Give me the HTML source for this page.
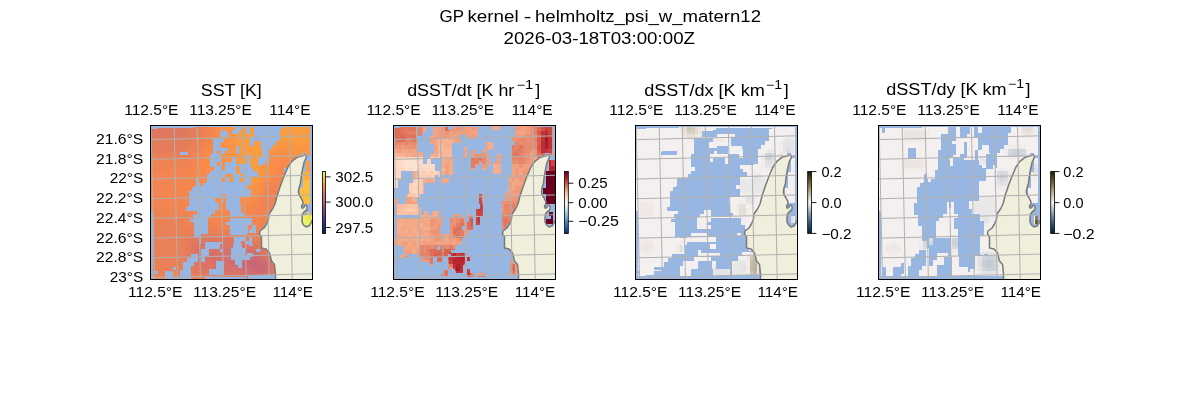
<!DOCTYPE html>
<html><head><meta charset="utf-8"><title>GP kernel</title>
<style>
html,body{margin:0;padding:0;background:#fff;}
svg{display:block;}
text{font-family:"Liberation Sans",sans-serif;fill:#000;}
</style></head><body>
<svg width="1200" height="400" viewBox="0 0 1200 400">
<defs><clipPath id="clip0"><rect x="150.5" y="125.5" width="162" height="154"/></clipPath><clipPath id="clip1"><rect x="393.5" y="125.5" width="162" height="154"/></clipPath><clipPath id="clip2"><rect x="635.5" y="125.5" width="162" height="154"/></clipPath><clipPath id="clip3"><rect x="878.5" y="125.5" width="162" height="154"/></clipPath><filter id="gs" x="0" y="0" width="1200" height="400" filterUnits="userSpaceOnUse" color-interpolation-filters="sRGB"><feColorMatrix type="saturate" values="0"/></filter></defs>
<rect width="1200" height="400" fill="#fff"/>
<g clip-path="url(#clip0)">
<rect x="150.5" y="125.5" width="162" height="154" fill="#97b6e1"/>
<g shape-rendering="crispEdges"><rect x="150" y="125" width="37" height="6" fill="#e07860"/><rect x="187" y="125" width="8" height="6" fill="#e47c5c"/><rect x="195" y="125" width="3" height="6" fill="#e88058"/><rect x="198" y="125" width="8" height="6" fill="#ec8054"/><rect x="206" y="125" width="4" height="6" fill="#f08450"/><rect x="210" y="125" width="3" height="6" fill="#f48450"/><rect x="213" y="125" width="4" height="6" fill="#f8884c"/><rect x="217" y="125" width="4" height="6" fill="#f88c48"/><rect x="221" y="125" width="7" height="6" fill="#f89048"/><rect x="228" y="125" width="7" height="6" fill="#f89444"/><rect x="235" y="125" width="4" height="6" fill="#f89844"/><rect x="239" y="125" width="7" height="6" fill="#f89c40"/><rect x="246" y="125" width="56" height="6" fill="#fc9c40"/><rect x="302" y="125" width="7" height="6" fill="#f89c40"/><rect x="309" y="125" width="4" height="6" fill="#f89844"/><rect x="313" y="125" width="4" height="6" fill="#f89444"/><rect x="150" y="131" width="37" height="3" fill="#e07860"/><rect x="187" y="131" width="8" height="3" fill="#e47c5c"/><rect x="195" y="131" width="3" height="3" fill="#e88058"/><rect x="198" y="131" width="8" height="3" fill="#ec8054"/><rect x="206" y="131" width="4" height="3" fill="#f08450"/><rect x="210" y="131" width="3" height="3" fill="#f48450"/><rect x="213" y="131" width="4" height="3" fill="#f8884c"/><rect x="217" y="131" width="4" height="3" fill="#f88c48"/><rect x="221" y="131" width="7" height="3" fill="#f89048"/><rect x="228" y="131" width="7" height="3" fill="#f89444"/><rect x="235" y="131" width="4" height="3" fill="#f89844"/><rect x="239" y="131" width="7" height="3" fill="#f89c40"/><rect x="246" y="131" width="56" height="3" fill="#fc9c40"/><rect x="302" y="131" width="7" height="3" fill="#f89c40"/><rect x="309" y="131" width="4" height="3" fill="#f89844"/><rect x="313" y="131" width="4" height="3" fill="#f89444"/><rect x="150" y="134" width="34" height="4" fill="#e07860"/><rect x="184" y="134" width="7" height="4" fill="#e47c5c"/><rect x="191" y="134" width="4" height="4" fill="#e87c58"/><rect x="195" y="134" width="3" height="4" fill="#e88058"/><rect x="198" y="134" width="4" height="4" fill="#ec8054"/><rect x="202" y="134" width="4" height="4" fill="#f08454"/><rect x="206" y="134" width="4" height="4" fill="#f08450"/><rect x="210" y="134" width="3" height="4" fill="#f4884c"/><rect x="213" y="134" width="4" height="4" fill="#f8884c"/><rect x="217" y="134" width="4" height="4" fill="#f88c48"/><rect x="221" y="134" width="7" height="4" fill="#f89048"/><rect x="228" y="134" width="7" height="4" fill="#f89444"/><rect x="235" y="134" width="4" height="4" fill="#f89844"/><rect x="239" y="134" width="7" height="4" fill="#f89c40"/><rect x="246" y="134" width="56" height="4" fill="#fc9c40"/><rect x="302" y="134" width="7" height="4" fill="#f89c40"/><rect x="309" y="134" width="4" height="4" fill="#f89844"/><rect x="313" y="134" width="4" height="4" fill="#f89444"/><rect x="150" y="138" width="41" height="4" fill="#e47c5c"/><rect x="191" y="138" width="4" height="4" fill="#e87c58"/><rect x="195" y="138" width="7" height="4" fill="#ec8054"/><rect x="202" y="138" width="4" height="4" fill="#f08454"/><rect x="206" y="138" width="4" height="4" fill="#f08450"/><rect x="210" y="138" width="3" height="4" fill="#f4884c"/><rect x="213" y="138" width="4" height="4" fill="#f8884c"/><rect x="217" y="138" width="4" height="4" fill="#f88c48"/><rect x="221" y="138" width="7" height="4" fill="#f89048"/><rect x="228" y="138" width="7" height="4" fill="#f89444"/><rect x="235" y="138" width="4" height="4" fill="#f89844"/><rect x="239" y="138" width="7" height="4" fill="#f89c40"/><rect x="246" y="138" width="23" height="4" fill="#fc9c40"/><rect x="269" y="138" width="40" height="4" fill="#f89c40"/><rect x="309" y="138" width="4" height="4" fill="#f89844"/><rect x="313" y="138" width="4" height="4" fill="#f89444"/><rect x="150" y="142" width="37" height="3" fill="#e47c5c"/><rect x="187" y="142" width="4" height="3" fill="#e87c58"/><rect x="191" y="142" width="4" height="3" fill="#e88058"/><rect x="195" y="142" width="3" height="3" fill="#ec8054"/><rect x="198" y="142" width="4" height="3" fill="#f08454"/><rect x="202" y="142" width="4" height="3" fill="#f08450"/><rect x="206" y="142" width="4" height="3" fill="#f48450"/><rect x="210" y="142" width="3" height="3" fill="#f4884c"/><rect x="213" y="142" width="8" height="3" fill="#f88c48"/><rect x="221" y="142" width="7" height="3" fill="#f89048"/><rect x="228" y="142" width="7" height="3" fill="#f89444"/><rect x="235" y="142" width="4" height="3" fill="#f89844"/><rect x="239" y="142" width="7" height="3" fill="#f89c40"/><rect x="246" y="142" width="19" height="3" fill="#fc9c40"/><rect x="265" y="142" width="7" height="3" fill="#f89c40"/><rect x="272" y="142" width="22" height="3" fill="#f89844"/><rect x="294" y="142" width="11" height="3" fill="#f89c40"/><rect x="305" y="142" width="8" height="3" fill="#f89844"/><rect x="313" y="142" width="4" height="3" fill="#f89444"/><rect x="150" y="145" width="30" height="4" fill="#e47c5c"/><rect x="180" y="145" width="7" height="4" fill="#e87c58"/><rect x="187" y="145" width="4" height="4" fill="#e88058"/><rect x="191" y="145" width="7" height="4" fill="#ec8054"/><rect x="198" y="145" width="4" height="4" fill="#f08450"/><rect x="202" y="145" width="4" height="4" fill="#f48450"/><rect x="206" y="145" width="4" height="4" fill="#f4884c"/><rect x="210" y="145" width="3" height="4" fill="#f8884c"/><rect x="213" y="145" width="8" height="4" fill="#f88c48"/><rect x="221" y="145" width="7" height="4" fill="#f89048"/><rect x="228" y="145" width="7" height="4" fill="#f89444"/><rect x="235" y="145" width="4" height="4" fill="#f89844"/><rect x="239" y="145" width="7" height="4" fill="#f89c40"/><rect x="246" y="145" width="15" height="4" fill="#fc9c40"/><rect x="261" y="145" width="4" height="4" fill="#f89c40"/><rect x="265" y="145" width="7" height="4" fill="#f89844"/><rect x="272" y="145" width="22" height="4" fill="#f89444"/><rect x="294" y="145" width="19" height="4" fill="#f89844"/><rect x="313" y="145" width="4" height="4" fill="#f89444"/><rect x="150" y="149" width="34" height="4" fill="#e87c58"/><rect x="184" y="149" width="3" height="4" fill="#e88058"/><rect x="187" y="149" width="8" height="4" fill="#ec8054"/><rect x="195" y="149" width="3" height="4" fill="#f08450"/><rect x="198" y="149" width="4" height="4" fill="#f48450"/><rect x="202" y="149" width="4" height="4" fill="#f4884c"/><rect x="206" y="149" width="4" height="4" fill="#f8884c"/><rect x="210" y="149" width="11" height="4" fill="#f88c48"/><rect x="221" y="149" width="7" height="4" fill="#f89048"/><rect x="228" y="149" width="7" height="4" fill="#f89444"/><rect x="235" y="149" width="4" height="4" fill="#f89844"/><rect x="239" y="149" width="7" height="4" fill="#f89c40"/><rect x="246" y="149" width="12" height="4" fill="#fc9c40"/><rect x="258" y="149" width="7" height="4" fill="#f89c40"/><rect x="265" y="149" width="4" height="4" fill="#f89844"/><rect x="269" y="149" width="7" height="4" fill="#f89444"/><rect x="276" y="149" width="15" height="4" fill="#f89048"/><rect x="291" y="149" width="11" height="4" fill="#f89444"/><rect x="302" y="149" width="7" height="4" fill="#f89844"/><rect x="309" y="149" width="8" height="4" fill="#f89444"/><rect x="150" y="153" width="30" height="4" fill="#e88058"/><rect x="180" y="153" width="11" height="4" fill="#ec8054"/><rect x="191" y="153" width="4" height="4" fill="#f08454"/><rect x="195" y="153" width="3" height="4" fill="#f48450"/><rect x="198" y="153" width="4" height="4" fill="#f4884c"/><rect x="202" y="153" width="4" height="4" fill="#f8884c"/><rect x="206" y="153" width="11" height="4" fill="#f88c48"/><rect x="217" y="153" width="11" height="4" fill="#f89048"/><rect x="228" y="153" width="7" height="4" fill="#f89444"/><rect x="235" y="153" width="4" height="4" fill="#f89844"/><rect x="239" y="153" width="7" height="4" fill="#f89c40"/><rect x="246" y="153" width="12" height="4" fill="#fc9c40"/><rect x="258" y="153" width="3" height="4" fill="#f89c40"/><rect x="261" y="153" width="4" height="4" fill="#f89844"/><rect x="265" y="153" width="7" height="4" fill="#f89444"/><rect x="272" y="153" width="8" height="4" fill="#f89048"/><rect x="280" y="153" width="7" height="4" fill="#f88c48"/><rect x="287" y="153" width="7" height="4" fill="#f89048"/><rect x="294" y="153" width="8" height="4" fill="#f89444"/><rect x="302" y="153" width="7" height="4" fill="#f89844"/><rect x="309" y="153" width="8" height="4" fill="#f89444"/><rect x="150" y="157" width="37" height="3" fill="#ec8054"/><rect x="187" y="157" width="4" height="3" fill="#f08454"/><rect x="191" y="157" width="4" height="3" fill="#f08450"/><rect x="195" y="157" width="3" height="3" fill="#f48450"/><rect x="198" y="157" width="8" height="3" fill="#f8884c"/><rect x="206" y="157" width="11" height="3" fill="#f88c48"/><rect x="217" y="157" width="11" height="3" fill="#f89048"/><rect x="228" y="157" width="7" height="3" fill="#f89444"/><rect x="235" y="157" width="4" height="3" fill="#f89844"/><rect x="239" y="157" width="7" height="3" fill="#f89c40"/><rect x="246" y="157" width="12" height="3" fill="#fc9c40"/><rect x="258" y="157" width="3" height="3" fill="#f89c40"/><rect x="261" y="157" width="4" height="3" fill="#f89844"/><rect x="265" y="157" width="4" height="3" fill="#f89444"/><rect x="269" y="157" width="7" height="3" fill="#f89048"/><rect x="276" y="157" width="15" height="3" fill="#f88c48"/><rect x="291" y="157" width="7" height="3" fill="#f89048"/><rect x="298" y="157" width="7" height="3" fill="#f89444"/><rect x="305" y="157" width="4" height="3" fill="#f89844"/><rect x="309" y="157" width="8" height="3" fill="#f89444"/><rect x="150" y="160" width="37" height="4" fill="#f08454"/><rect x="187" y="160" width="4" height="4" fill="#f08450"/><rect x="191" y="160" width="4" height="4" fill="#f48450"/><rect x="195" y="160" width="3" height="4" fill="#f4884c"/><rect x="198" y="160" width="4" height="4" fill="#f8884c"/><rect x="202" y="160" width="15" height="4" fill="#f88c48"/><rect x="217" y="160" width="11" height="4" fill="#f89048"/><rect x="228" y="160" width="7" height="4" fill="#f89444"/><rect x="235" y="160" width="4" height="4" fill="#f89844"/><rect x="239" y="160" width="7" height="4" fill="#f89c40"/><rect x="246" y="160" width="12" height="4" fill="#fc9c40"/><rect x="258" y="160" width="3" height="4" fill="#f89c40"/><rect x="261" y="160" width="4" height="4" fill="#f89844"/><rect x="265" y="160" width="4" height="4" fill="#f89444"/><rect x="269" y="160" width="3" height="4" fill="#f89048"/><rect x="272" y="160" width="8" height="4" fill="#f88c48"/><rect x="280" y="160" width="7" height="4" fill="#f8884c"/><rect x="287" y="160" width="7" height="4" fill="#f88c48"/><rect x="294" y="160" width="4" height="4" fill="#f89048"/><rect x="298" y="160" width="7" height="4" fill="#f89444"/><rect x="305" y="160" width="4" height="4" fill="#f89844"/><rect x="309" y="160" width="8" height="4" fill="#f89444"/><rect x="150" y="164" width="37" height="4" fill="#f08450"/><rect x="187" y="164" width="4" height="4" fill="#f48450"/><rect x="191" y="164" width="7" height="4" fill="#f4884c"/><rect x="198" y="164" width="4" height="4" fill="#f8884c"/><rect x="202" y="164" width="15" height="4" fill="#f88c48"/><rect x="217" y="164" width="11" height="4" fill="#f89048"/><rect x="228" y="164" width="7" height="4" fill="#f89444"/><rect x="235" y="164" width="4" height="4" fill="#f89844"/><rect x="239" y="164" width="7" height="4" fill="#f89c40"/><rect x="246" y="164" width="8" height="4" fill="#fc9c40"/><rect x="254" y="164" width="7" height="4" fill="#f89c40"/><rect x="261" y="164" width="8" height="4" fill="#f89444"/><rect x="269" y="164" width="3" height="4" fill="#f89048"/><rect x="272" y="164" width="8" height="4" fill="#f88c48"/><rect x="280" y="164" width="7" height="4" fill="#f8884c"/><rect x="287" y="164" width="7" height="4" fill="#f88c48"/><rect x="294" y="164" width="4" height="4" fill="#f89048"/><rect x="298" y="164" width="7" height="4" fill="#f89444"/><rect x="305" y="164" width="4" height="4" fill="#f89844"/><rect x="309" y="164" width="8" height="4" fill="#f89444"/><rect x="150" y="168" width="19" height="3" fill="#f08450"/><rect x="169" y="168" width="22" height="3" fill="#f48450"/><rect x="191" y="168" width="7" height="3" fill="#f4884c"/><rect x="198" y="168" width="8" height="3" fill="#f8884c"/><rect x="206" y="168" width="11" height="3" fill="#f88c48"/><rect x="217" y="168" width="11" height="3" fill="#f89048"/><rect x="228" y="168" width="7" height="3" fill="#f89444"/><rect x="235" y="168" width="4" height="3" fill="#f89844"/><rect x="239" y="168" width="7" height="3" fill="#f89c40"/><rect x="246" y="168" width="8" height="3" fill="#fc9c40"/><rect x="254" y="168" width="4" height="3" fill="#f89c40"/><rect x="258" y="168" width="3" height="3" fill="#f89844"/><rect x="261" y="168" width="4" height="3" fill="#f89444"/><rect x="265" y="168" width="7" height="3" fill="#f89048"/><rect x="272" y="168" width="4" height="3" fill="#f88c48"/><rect x="276" y="168" width="11" height="3" fill="#f8884c"/><rect x="287" y="168" width="7" height="3" fill="#f88c48"/><rect x="294" y="168" width="4" height="3" fill="#f89048"/><rect x="298" y="168" width="7" height="3" fill="#f89444"/><rect x="305" y="168" width="4" height="3" fill="#f89844"/><rect x="309" y="168" width="8" height="3" fill="#f89444"/><rect x="150" y="171" width="37" height="4" fill="#f48450"/><rect x="187" y="171" width="8" height="4" fill="#f4884c"/><rect x="195" y="171" width="11" height="4" fill="#f8884c"/><rect x="206" y="171" width="11" height="4" fill="#f88c48"/><rect x="217" y="171" width="11" height="4" fill="#f89048"/><rect x="228" y="171" width="7" height="4" fill="#f89444"/><rect x="235" y="171" width="4" height="4" fill="#f89844"/><rect x="239" y="171" width="7" height="4" fill="#f89c40"/><rect x="246" y="171" width="4" height="4" fill="#fc9c40"/><rect x="250" y="171" width="8" height="4" fill="#f89c40"/><rect x="258" y="171" width="3" height="4" fill="#f89844"/><rect x="261" y="171" width="4" height="4" fill="#f89444"/><rect x="265" y="171" width="4" height="4" fill="#f89048"/><rect x="269" y="171" width="7" height="4" fill="#f88c48"/><rect x="276" y="171" width="11" height="4" fill="#f8884c"/><rect x="287" y="171" width="7" height="4" fill="#f88c48"/><rect x="294" y="171" width="4" height="4" fill="#f89048"/><rect x="298" y="171" width="7" height="4" fill="#f89444"/><rect x="305" y="171" width="4" height="4" fill="#f89844"/><rect x="309" y="171" width="8" height="4" fill="#f89444"/><rect x="150" y="175" width="34" height="4" fill="#f48450"/><rect x="184" y="175" width="11" height="4" fill="#f4884c"/><rect x="195" y="175" width="11" height="4" fill="#f8884c"/><rect x="206" y="175" width="11" height="4" fill="#f88c48"/><rect x="217" y="175" width="11" height="4" fill="#f89048"/><rect x="228" y="175" width="7" height="4" fill="#f89444"/><rect x="235" y="175" width="4" height="4" fill="#f89844"/><rect x="239" y="175" width="15" height="4" fill="#f89c40"/><rect x="254" y="175" width="4" height="4" fill="#f89844"/><rect x="258" y="175" width="3" height="4" fill="#f89444"/><rect x="261" y="175" width="8" height="4" fill="#f89048"/><rect x="269" y="175" width="3" height="4" fill="#f88c48"/><rect x="272" y="175" width="4" height="4" fill="#f8884c"/><rect x="276" y="175" width="7" height="4" fill="#f4884c"/><rect x="283" y="175" width="4" height="4" fill="#f8884c"/><rect x="287" y="175" width="4" height="4" fill="#f88c48"/><rect x="291" y="175" width="7" height="4" fill="#f89048"/><rect x="298" y="175" width="4" height="4" fill="#f89444"/><rect x="302" y="175" width="7" height="4" fill="#f89844"/><rect x="309" y="175" width="8" height="4" fill="#f89444"/><rect x="150" y="179" width="30" height="3" fill="#f48450"/><rect x="180" y="179" width="15" height="3" fill="#f4884c"/><rect x="195" y="179" width="11" height="3" fill="#f8884c"/><rect x="206" y="179" width="11" height="3" fill="#f88c48"/><rect x="217" y="179" width="11" height="3" fill="#f89048"/><rect x="228" y="179" width="7" height="3" fill="#f89444"/><rect x="235" y="179" width="4" height="3" fill="#f89844"/><rect x="239" y="179" width="15" height="3" fill="#f89c40"/><rect x="254" y="179" width="4" height="3" fill="#f89844"/><rect x="258" y="179" width="3" height="3" fill="#f89444"/><rect x="261" y="179" width="4" height="3" fill="#f89048"/><rect x="265" y="179" width="4" height="3" fill="#f88c48"/><rect x="269" y="179" width="3" height="3" fill="#f8884c"/><rect x="272" y="179" width="11" height="3" fill="#f4884c"/><rect x="283" y="179" width="4" height="3" fill="#f8884c"/><rect x="287" y="179" width="4" height="3" fill="#f88c48"/><rect x="291" y="179" width="3" height="3" fill="#f89048"/><rect x="294" y="179" width="8" height="3" fill="#f89444"/><rect x="302" y="179" width="7" height="3" fill="#f89844"/><rect x="309" y="179" width="8" height="3" fill="#f89444"/><rect x="150" y="182" width="30" height="4" fill="#f48450"/><rect x="180" y="182" width="15" height="4" fill="#f4884c"/><rect x="195" y="182" width="11" height="4" fill="#f8884c"/><rect x="206" y="182" width="11" height="4" fill="#f88c48"/><rect x="217" y="182" width="11" height="4" fill="#f89048"/><rect x="228" y="182" width="7" height="4" fill="#f89444"/><rect x="235" y="182" width="8" height="4" fill="#f89844"/><rect x="243" y="182" width="7" height="4" fill="#f89c40"/><rect x="250" y="182" width="4" height="4" fill="#f89844"/><rect x="254" y="182" width="4" height="4" fill="#f89444"/><rect x="258" y="182" width="3" height="4" fill="#f89048"/><rect x="261" y="182" width="4" height="4" fill="#f88c48"/><rect x="265" y="182" width="4" height="4" fill="#f8884c"/><rect x="269" y="182" width="3" height="4" fill="#f4884c"/><rect x="272" y="182" width="8" height="4" fill="#f48450"/><rect x="280" y="182" width="3" height="4" fill="#f4884c"/><rect x="283" y="182" width="4" height="4" fill="#f8884c"/><rect x="287" y="182" width="4" height="4" fill="#f88c48"/><rect x="291" y="182" width="3" height="4" fill="#f89048"/><rect x="294" y="182" width="4" height="4" fill="#f89444"/><rect x="298" y="182" width="11" height="4" fill="#f89844"/><rect x="309" y="182" width="8" height="4" fill="#f89444"/><rect x="150" y="186" width="30" height="4" fill="#f48450"/><rect x="180" y="186" width="15" height="4" fill="#f4884c"/><rect x="195" y="186" width="11" height="4" fill="#f8884c"/><rect x="206" y="186" width="15" height="4" fill="#f88c48"/><rect x="221" y="186" width="11" height="4" fill="#f89048"/><rect x="232" y="186" width="7" height="4" fill="#f89444"/><rect x="239" y="186" width="11" height="4" fill="#f89844"/><rect x="250" y="186" width="4" height="4" fill="#f89444"/><rect x="254" y="186" width="7" height="4" fill="#f89048"/><rect x="261" y="186" width="4" height="4" fill="#f88c48"/><rect x="265" y="186" width="4" height="4" fill="#f4884c"/><rect x="269" y="186" width="3" height="4" fill="#f48450"/><rect x="272" y="186" width="4" height="4" fill="#f08450"/><rect x="276" y="186" width="4" height="4" fill="#f48450"/><rect x="280" y="186" width="3" height="4" fill="#f4884c"/><rect x="283" y="186" width="4" height="4" fill="#f8884c"/><rect x="287" y="186" width="4" height="4" fill="#f88c48"/><rect x="291" y="186" width="3" height="4" fill="#f89048"/><rect x="294" y="186" width="4" height="4" fill="#f89444"/><rect x="298" y="186" width="11" height="4" fill="#f89844"/><rect x="309" y="186" width="8" height="4" fill="#f89444"/><rect x="150" y="190" width="30" height="3" fill="#f48450"/><rect x="180" y="190" width="15" height="3" fill="#f4884c"/><rect x="195" y="190" width="11" height="3" fill="#f8884c"/><rect x="206" y="190" width="15" height="3" fill="#f88c48"/><rect x="221" y="190" width="11" height="3" fill="#f89048"/><rect x="232" y="190" width="22" height="3" fill="#f89444"/><rect x="254" y="190" width="4" height="3" fill="#f89048"/><rect x="258" y="190" width="3" height="3" fill="#f88c48"/><rect x="261" y="190" width="4" height="3" fill="#f8884c"/><rect x="265" y="190" width="4" height="3" fill="#f48450"/><rect x="269" y="190" width="11" height="3" fill="#f08450"/><rect x="280" y="190" width="3" height="3" fill="#f4884c"/><rect x="283" y="190" width="4" height="3" fill="#f8884c"/><rect x="287" y="190" width="4" height="3" fill="#f89048"/><rect x="291" y="190" width="7" height="3" fill="#f89444"/><rect x="298" y="190" width="11" height="3" fill="#f89844"/><rect x="309" y="190" width="8" height="3" fill="#f89444"/><rect x="150" y="193" width="34" height="4" fill="#f48450"/><rect x="184" y="193" width="14" height="4" fill="#f4884c"/><rect x="198" y="193" width="12" height="4" fill="#f8884c"/><rect x="210" y="193" width="14" height="4" fill="#f88c48"/><rect x="224" y="193" width="11" height="4" fill="#f89048"/><rect x="235" y="193" width="11" height="4" fill="#f89444"/><rect x="246" y="193" width="8" height="4" fill="#f89048"/><rect x="254" y="193" width="4" height="4" fill="#f88c48"/><rect x="258" y="193" width="3" height="4" fill="#f8884c"/><rect x="261" y="193" width="4" height="4" fill="#f4884c"/><rect x="265" y="193" width="7" height="4" fill="#f08450"/><rect x="272" y="193" width="4" height="4" fill="#f08454"/><rect x="276" y="193" width="4" height="4" fill="#f08450"/><rect x="280" y="193" width="3" height="4" fill="#f48450"/><rect x="283" y="193" width="4" height="4" fill="#f8884c"/><rect x="287" y="193" width="4" height="4" fill="#f88c48"/><rect x="291" y="193" width="3" height="4" fill="#f89048"/><rect x="294" y="193" width="4" height="4" fill="#f89444"/><rect x="298" y="193" width="11" height="4" fill="#f89844"/><rect x="309" y="193" width="8" height="4" fill="#f89444"/><rect x="150" y="197" width="34" height="4" fill="#f48450"/><rect x="184" y="197" width="14" height="4" fill="#f4884c"/><rect x="198" y="197" width="15" height="4" fill="#f8884c"/><rect x="213" y="197" width="19" height="4" fill="#f88c48"/><rect x="232" y="197" width="18" height="4" fill="#f89048"/><rect x="250" y="197" width="4" height="4" fill="#f88c48"/><rect x="254" y="197" width="4" height="4" fill="#f8884c"/><rect x="258" y="197" width="3" height="4" fill="#f4884c"/><rect x="261" y="197" width="4" height="4" fill="#f48450"/><rect x="265" y="197" width="4" height="4" fill="#f08450"/><rect x="269" y="197" width="7" height="4" fill="#f08454"/><rect x="276" y="197" width="4" height="4" fill="#f08450"/><rect x="280" y="197" width="3" height="4" fill="#f48450"/><rect x="283" y="197" width="4" height="4" fill="#f8884c"/><rect x="287" y="197" width="4" height="4" fill="#f88c48"/><rect x="291" y="197" width="3" height="4" fill="#f89048"/><rect x="294" y="197" width="23" height="4" fill="#f89444"/><rect x="150" y="201" width="37" height="3" fill="#f48450"/><rect x="187" y="201" width="15" height="3" fill="#f4884c"/><rect x="202" y="201" width="15" height="3" fill="#f8884c"/><rect x="217" y="201" width="33" height="3" fill="#f88c48"/><rect x="250" y="201" width="4" height="3" fill="#f8884c"/><rect x="254" y="201" width="4" height="3" fill="#f4884c"/><rect x="258" y="201" width="3" height="3" fill="#f48450"/><rect x="261" y="201" width="8" height="3" fill="#f08450"/><rect x="269" y="201" width="7" height="3" fill="#f08454"/><rect x="276" y="201" width="4" height="3" fill="#f08450"/><rect x="280" y="201" width="3" height="3" fill="#f48450"/><rect x="283" y="201" width="4" height="3" fill="#f4884c"/><rect x="287" y="201" width="4" height="3" fill="#f88c48"/><rect x="291" y="201" width="7" height="3" fill="#f89048"/><rect x="298" y="201" width="15" height="3" fill="#f89444"/><rect x="313" y="201" width="4" height="3" fill="#f89048"/><rect x="150" y="204" width="41" height="4" fill="#f48450"/><rect x="191" y="204" width="15" height="4" fill="#f4884c"/><rect x="206" y="204" width="22" height="4" fill="#f8884c"/><rect x="228" y="204" width="18" height="4" fill="#f88c48"/><rect x="246" y="204" width="4" height="4" fill="#f8884c"/><rect x="250" y="204" width="8" height="4" fill="#f4884c"/><rect x="258" y="204" width="3" height="4" fill="#f48450"/><rect x="261" y="204" width="4" height="4" fill="#f08450"/><rect x="265" y="204" width="15" height="4" fill="#f08454"/><rect x="280" y="204" width="3" height="4" fill="#f48450"/><rect x="283" y="204" width="4" height="4" fill="#f4884c"/><rect x="287" y="204" width="7" height="4" fill="#f88c48"/><rect x="294" y="204" width="23" height="4" fill="#f89048"/><rect x="150" y="208" width="30" height="4" fill="#f08450"/><rect x="180" y="208" width="15" height="4" fill="#f48450"/><rect x="195" y="208" width="18" height="4" fill="#f4884c"/><rect x="213" y="208" width="33" height="4" fill="#f8884c"/><rect x="246" y="208" width="8" height="4" fill="#f4884c"/><rect x="254" y="208" width="7" height="4" fill="#f48450"/><rect x="261" y="208" width="4" height="4" fill="#f08450"/><rect x="265" y="208" width="15" height="4" fill="#f08454"/><rect x="280" y="208" width="3" height="4" fill="#f08450"/><rect x="283" y="208" width="4" height="4" fill="#f4884c"/><rect x="287" y="208" width="4" height="4" fill="#f8884c"/><rect x="291" y="208" width="3" height="4" fill="#f88c48"/><rect x="294" y="208" width="23" height="4" fill="#f89048"/><rect x="150" y="212" width="37" height="4" fill="#f08450"/><rect x="187" y="212" width="8" height="4" fill="#f48450"/><rect x="195" y="212" width="55" height="4" fill="#f4884c"/><rect x="250" y="212" width="11" height="4" fill="#f48450"/><rect x="261" y="212" width="4" height="4" fill="#f08450"/><rect x="265" y="212" width="15" height="4" fill="#f08454"/><rect x="280" y="212" width="3" height="4" fill="#f08450"/><rect x="283" y="212" width="4" height="4" fill="#f4884c"/><rect x="287" y="212" width="4" height="4" fill="#f8884c"/><rect x="291" y="212" width="3" height="4" fill="#f88c48"/><rect x="294" y="212" width="23" height="4" fill="#f89048"/><rect x="150" y="216" width="34" height="3" fill="#f08454"/><rect x="184" y="216" width="7" height="3" fill="#f08450"/><rect x="191" y="216" width="7" height="3" fill="#f48450"/><rect x="198" y="216" width="52" height="3" fill="#f4884c"/><rect x="250" y="216" width="11" height="3" fill="#f48450"/><rect x="261" y="216" width="8" height="3" fill="#f08450"/><rect x="269" y="216" width="7" height="3" fill="#f08454"/><rect x="276" y="216" width="7" height="3" fill="#f08450"/><rect x="283" y="216" width="4" height="3" fill="#f4884c"/><rect x="287" y="216" width="4" height="3" fill="#f8884c"/><rect x="291" y="216" width="7" height="3" fill="#f88c48"/><rect x="298" y="216" width="19" height="3" fill="#f89048"/><rect x="150" y="219" width="34" height="4" fill="#ec8054"/><rect x="184" y="219" width="7" height="4" fill="#f08454"/><rect x="191" y="219" width="4" height="4" fill="#f08450"/><rect x="195" y="219" width="33" height="4" fill="#f48450"/><rect x="228" y="219" width="18" height="4" fill="#f4884c"/><rect x="246" y="219" width="15" height="4" fill="#f48450"/><rect x="261" y="219" width="19" height="4" fill="#f08450"/><rect x="280" y="219" width="3" height="4" fill="#f48450"/><rect x="283" y="219" width="4" height="4" fill="#f4884c"/><rect x="287" y="219" width="4" height="4" fill="#f8884c"/><rect x="291" y="219" width="7" height="4" fill="#f88c48"/><rect x="298" y="219" width="19" height="4" fill="#f89048"/><rect x="150" y="223" width="37" height="4" fill="#ec8054"/><rect x="187" y="223" width="8" height="4" fill="#f08454"/><rect x="195" y="223" width="33" height="4" fill="#f08450"/><rect x="228" y="223" width="33" height="4" fill="#f48450"/><rect x="261" y="223" width="15" height="4" fill="#f08450"/><rect x="276" y="223" width="4" height="4" fill="#f48450"/><rect x="280" y="223" width="3" height="4" fill="#f4884c"/><rect x="283" y="223" width="4" height="4" fill="#f8884c"/><rect x="287" y="223" width="7" height="4" fill="#f88c48"/><rect x="294" y="223" width="23" height="4" fill="#f89048"/><rect x="150" y="227" width="15" height="3" fill="#e88058"/><rect x="165" y="227" width="52" height="3" fill="#ec8054"/><rect x="217" y="227" width="15" height="3" fill="#f08454"/><rect x="232" y="227" width="7" height="3" fill="#f08450"/><rect x="239" y="227" width="15" height="3" fill="#f48450"/><rect x="254" y="227" width="11" height="3" fill="#f08450"/><rect x="265" y="227" width="11" height="3" fill="#f48450"/><rect x="276" y="227" width="4" height="3" fill="#f4884c"/><rect x="280" y="227" width="7" height="3" fill="#f8884c"/><rect x="287" y="227" width="7" height="3" fill="#f88c48"/><rect x="294" y="227" width="23" height="3" fill="#f89048"/><rect x="150" y="230" width="26" height="4" fill="#e88058"/><rect x="176" y="230" width="19" height="4" fill="#ec8054"/><rect x="195" y="230" width="29" height="4" fill="#e88058"/><rect x="224" y="230" width="11" height="4" fill="#ec8054"/><rect x="235" y="230" width="8" height="4" fill="#f08454"/><rect x="243" y="230" width="22" height="4" fill="#f08450"/><rect x="265" y="230" width="4" height="4" fill="#f48450"/><rect x="269" y="230" width="7" height="4" fill="#f4884c"/><rect x="276" y="230" width="4" height="4" fill="#f8884c"/><rect x="280" y="230" width="14" height="4" fill="#f88c48"/><rect x="294" y="230" width="23" height="4" fill="#f89048"/><rect x="150" y="234" width="41" height="4" fill="#e88058"/><rect x="191" y="234" width="4" height="4" fill="#e87c58"/><rect x="195" y="234" width="33" height="4" fill="#e47c5c"/><rect x="228" y="234" width="7" height="4" fill="#e87c58"/><rect x="235" y="234" width="4" height="4" fill="#e88058"/><rect x="239" y="234" width="19" height="4" fill="#ec8054"/><rect x="258" y="234" width="3" height="4" fill="#f08454"/><rect x="261" y="234" width="4" height="4" fill="#f08450"/><rect x="265" y="234" width="4" height="4" fill="#f48450"/><rect x="269" y="234" width="3" height="4" fill="#f4884c"/><rect x="272" y="234" width="4" height="4" fill="#f8884c"/><rect x="276" y="234" width="15" height="4" fill="#f88c48"/><rect x="291" y="234" width="26" height="4" fill="#f89048"/><rect x="150" y="238" width="34" height="3" fill="#e88058"/><rect x="184" y="238" width="3" height="3" fill="#e87c58"/><rect x="187" y="238" width="8" height="3" fill="#e47c5c"/><rect x="195" y="238" width="37" height="3" fill="#e07860"/><rect x="232" y="238" width="11" height="3" fill="#e47c5c"/><rect x="243" y="238" width="11" height="3" fill="#e87c58"/><rect x="254" y="238" width="4" height="3" fill="#e88058"/><rect x="258" y="238" width="3" height="3" fill="#ec8054"/><rect x="261" y="238" width="4" height="3" fill="#f08454"/><rect x="265" y="238" width="4" height="3" fill="#f48450"/><rect x="269" y="238" width="3" height="3" fill="#f8884c"/><rect x="272" y="238" width="11" height="3" fill="#f88c48"/><rect x="283" y="238" width="34" height="3" fill="#f89048"/><rect x="150" y="241" width="34" height="4" fill="#e88058"/><rect x="184" y="241" width="3" height="4" fill="#e87c58"/><rect x="187" y="241" width="4" height="4" fill="#e47c5c"/><rect x="191" y="241" width="7" height="4" fill="#e07860"/><rect x="198" y="241" width="4" height="4" fill="#e07464"/><rect x="202" y="241" width="26" height="4" fill="#dc7464"/><rect x="228" y="241" width="7" height="4" fill="#e07464"/><rect x="235" y="241" width="19" height="4" fill="#e07860"/><rect x="254" y="241" width="4" height="4" fill="#e47c5c"/><rect x="258" y="241" width="3" height="4" fill="#e87c58"/><rect x="261" y="241" width="4" height="4" fill="#ec8054"/><rect x="265" y="241" width="4" height="4" fill="#f08450"/><rect x="269" y="241" width="3" height="4" fill="#f4884c"/><rect x="272" y="241" width="11" height="4" fill="#f88c48"/><rect x="283" y="241" width="34" height="4" fill="#f89048"/><rect x="150" y="245" width="34" height="4" fill="#e88058"/><rect x="184" y="245" width="3" height="4" fill="#e87c58"/><rect x="187" y="245" width="4" height="4" fill="#e47c5c"/><rect x="191" y="245" width="4" height="4" fill="#e07860"/><rect x="195" y="245" width="3" height="4" fill="#e07464"/><rect x="198" y="245" width="4" height="4" fill="#dc7464"/><rect x="202" y="245" width="48" height="4" fill="#dc7468"/><rect x="250" y="245" width="4" height="4" fill="#dc7464"/><rect x="254" y="245" width="4" height="4" fill="#e07464"/><rect x="258" y="245" width="3" height="4" fill="#e47c5c"/><rect x="261" y="245" width="4" height="4" fill="#e87c58"/><rect x="265" y="245" width="4" height="4" fill="#ec8054"/><rect x="269" y="245" width="3" height="4" fill="#f48450"/><rect x="272" y="245" width="4" height="4" fill="#f8884c"/><rect x="276" y="245" width="7" height="4" fill="#f88c48"/><rect x="283" y="245" width="34" height="4" fill="#f89048"/><rect x="150" y="249" width="34" height="3" fill="#e88058"/><rect x="184" y="249" width="3" height="3" fill="#e87c58"/><rect x="187" y="249" width="4" height="3" fill="#e47c5c"/><rect x="191" y="249" width="4" height="3" fill="#e07860"/><rect x="195" y="249" width="3" height="3" fill="#e07464"/><rect x="198" y="249" width="4" height="3" fill="#dc7464"/><rect x="202" y="249" width="8" height="3" fill="#dc7468"/><rect x="210" y="249" width="18" height="3" fill="#d87068"/><rect x="228" y="249" width="11" height="3" fill="#d8706c"/><rect x="239" y="249" width="11" height="3" fill="#d4706c"/><rect x="250" y="249" width="4" height="3" fill="#d8706c"/><rect x="254" y="249" width="4" height="3" fill="#d87068"/><rect x="258" y="249" width="3" height="3" fill="#e07464"/><rect x="261" y="249" width="4" height="3" fill="#e07860"/><rect x="265" y="249" width="4" height="3" fill="#e87c58"/><rect x="269" y="249" width="3" height="3" fill="#ec8054"/><rect x="272" y="249" width="4" height="3" fill="#f48450"/><rect x="276" y="249" width="4" height="3" fill="#f8884c"/><rect x="280" y="249" width="7" height="3" fill="#f88c48"/><rect x="287" y="249" width="30" height="3" fill="#f89048"/><rect x="150" y="252" width="34" height="4" fill="#e88058"/><rect x="184" y="252" width="3" height="4" fill="#e87c58"/><rect x="187" y="252" width="4" height="4" fill="#e47c5c"/><rect x="191" y="252" width="4" height="4" fill="#e07860"/><rect x="195" y="252" width="3" height="4" fill="#e07464"/><rect x="198" y="252" width="4" height="4" fill="#dc7464"/><rect x="202" y="252" width="4" height="4" fill="#dc7468"/><rect x="206" y="252" width="15" height="4" fill="#d87068"/><rect x="221" y="252" width="7" height="4" fill="#d8706c"/><rect x="228" y="252" width="7" height="4" fill="#d4706c"/><rect x="235" y="252" width="8" height="4" fill="#d46c6c"/><rect x="243" y="252" width="11" height="4" fill="#d06c70"/><rect x="254" y="252" width="4" height="4" fill="#d46c6c"/><rect x="258" y="252" width="3" height="4" fill="#d8706c"/><rect x="261" y="252" width="4" height="4" fill="#dc7464"/><rect x="265" y="252" width="4" height="4" fill="#e07860"/><rect x="269" y="252" width="3" height="4" fill="#e87c58"/><rect x="272" y="252" width="4" height="4" fill="#ec8054"/><rect x="276" y="252" width="4" height="4" fill="#f48450"/><rect x="280" y="252" width="3" height="4" fill="#f8884c"/><rect x="283" y="252" width="4" height="4" fill="#f88c48"/><rect x="287" y="252" width="30" height="4" fill="#f89048"/><rect x="150" y="256" width="34" height="4" fill="#e88058"/><rect x="184" y="256" width="3" height="4" fill="#e87c58"/><rect x="187" y="256" width="4" height="4" fill="#e47c5c"/><rect x="191" y="256" width="4" height="4" fill="#e07860"/><rect x="195" y="256" width="3" height="4" fill="#e07464"/><rect x="198" y="256" width="4" height="4" fill="#dc7464"/><rect x="202" y="256" width="4" height="4" fill="#dc7468"/><rect x="206" y="256" width="15" height="4" fill="#d87068"/><rect x="221" y="256" width="3" height="4" fill="#d8706c"/><rect x="224" y="256" width="8" height="4" fill="#d4706c"/><rect x="232" y="256" width="3" height="4" fill="#d46c6c"/><rect x="235" y="256" width="11" height="4" fill="#d06c70"/><rect x="246" y="256" width="12" height="4" fill="#cc6c74"/><rect x="258" y="256" width="3" height="4" fill="#d06c70"/><rect x="261" y="256" width="4" height="4" fill="#d4706c"/><rect x="265" y="256" width="4" height="4" fill="#dc7468"/><rect x="269" y="256" width="3" height="4" fill="#e07860"/><rect x="272" y="256" width="4" height="4" fill="#e87c58"/><rect x="276" y="256" width="4" height="4" fill="#f08454"/><rect x="280" y="256" width="3" height="4" fill="#f4884c"/><rect x="283" y="256" width="8" height="4" fill="#f88c48"/><rect x="291" y="256" width="26" height="4" fill="#f89048"/><rect x="150" y="260" width="34" height="4" fill="#e88058"/><rect x="184" y="260" width="3" height="4" fill="#e87c58"/><rect x="187" y="260" width="4" height="4" fill="#e47c5c"/><rect x="191" y="260" width="4" height="4" fill="#e07860"/><rect x="195" y="260" width="3" height="4" fill="#e07464"/><rect x="198" y="260" width="4" height="4" fill="#dc7464"/><rect x="202" y="260" width="8" height="4" fill="#dc7468"/><rect x="210" y="260" width="11" height="4" fill="#d87068"/><rect x="221" y="260" width="3" height="4" fill="#d8706c"/><rect x="224" y="260" width="4" height="4" fill="#d4706c"/><rect x="228" y="260" width="7" height="4" fill="#d46c6c"/><rect x="235" y="260" width="8" height="4" fill="#d06c70"/><rect x="243" y="260" width="3" height="4" fill="#cc6c74"/><rect x="246" y="260" width="4" height="4" fill="#cc6874"/><rect x="250" y="260" width="8" height="4" fill="#c86874"/><rect x="258" y="260" width="3" height="4" fill="#cc6874"/><rect x="261" y="260" width="4" height="4" fill="#cc6c74"/><rect x="265" y="260" width="4" height="4" fill="#d46c6c"/><rect x="269" y="260" width="3" height="4" fill="#dc7468"/><rect x="272" y="260" width="4" height="4" fill="#e07860"/><rect x="276" y="260" width="4" height="4" fill="#ec8054"/><rect x="280" y="260" width="3" height="4" fill="#f48450"/><rect x="283" y="260" width="4" height="4" fill="#f8884c"/><rect x="287" y="260" width="4" height="4" fill="#f88c48"/><rect x="291" y="260" width="26" height="4" fill="#f89048"/><rect x="150" y="264" width="23" height="3" fill="#e88058"/><rect x="173" y="264" width="7" height="3" fill="#ec8054"/><rect x="180" y="264" width="4" height="3" fill="#e88058"/><rect x="184" y="264" width="3" height="3" fill="#e87c58"/><rect x="187" y="264" width="4" height="3" fill="#e47c5c"/><rect x="191" y="264" width="7" height="3" fill="#e07860"/><rect x="198" y="264" width="8" height="3" fill="#dc7464"/><rect x="206" y="264" width="11" height="3" fill="#dc7468"/><rect x="217" y="264" width="4" height="3" fill="#d87068"/><rect x="221" y="264" width="7" height="3" fill="#d8706c"/><rect x="228" y="264" width="4" height="3" fill="#d4706c"/><rect x="232" y="264" width="3" height="3" fill="#d46c6c"/><rect x="235" y="264" width="8" height="3" fill="#d06c70"/><rect x="243" y="264" width="3" height="3" fill="#cc6c74"/><rect x="246" y="264" width="4" height="3" fill="#cc6874"/><rect x="250" y="264" width="11" height="3" fill="#c86874"/><rect x="261" y="264" width="4" height="3" fill="#cc6874"/><rect x="265" y="264" width="4" height="3" fill="#d06c70"/><rect x="269" y="264" width="3" height="3" fill="#d8706c"/><rect x="272" y="264" width="4" height="3" fill="#e07464"/><rect x="276" y="264" width="4" height="3" fill="#e87c58"/><rect x="280" y="264" width="3" height="3" fill="#f08450"/><rect x="283" y="264" width="4" height="3" fill="#f8884c"/><rect x="287" y="264" width="4" height="3" fill="#f88c48"/><rect x="291" y="264" width="26" height="3" fill="#f89048"/><rect x="150" y="267" width="34" height="4" fill="#ec8054"/><rect x="184" y="267" width="3" height="4" fill="#e88058"/><rect x="187" y="267" width="4" height="4" fill="#e87c58"/><rect x="191" y="267" width="4" height="4" fill="#e47c5c"/><rect x="195" y="267" width="7" height="4" fill="#e07860"/><rect x="202" y="267" width="8" height="4" fill="#e07464"/><rect x="210" y="267" width="11" height="4" fill="#dc7464"/><rect x="221" y="267" width="3" height="4" fill="#dc7468"/><rect x="224" y="267" width="4" height="4" fill="#d87068"/><rect x="228" y="267" width="7" height="4" fill="#d8706c"/><rect x="235" y="267" width="4" height="4" fill="#d4706c"/><rect x="239" y="267" width="4" height="4" fill="#d46c6c"/><rect x="243" y="267" width="3" height="4" fill="#d06c70"/><rect x="246" y="267" width="4" height="4" fill="#cc6c74"/><rect x="250" y="267" width="4" height="4" fill="#cc6874"/><rect x="254" y="267" width="7" height="4" fill="#c86874"/><rect x="261" y="267" width="4" height="4" fill="#cc6874"/><rect x="265" y="267" width="4" height="4" fill="#d06c70"/><rect x="269" y="267" width="3" height="4" fill="#d8706c"/><rect x="272" y="267" width="4" height="4" fill="#e07464"/><rect x="276" y="267" width="4" height="4" fill="#e87c58"/><rect x="280" y="267" width="3" height="4" fill="#f08450"/><rect x="283" y="267" width="4" height="4" fill="#f8884c"/><rect x="287" y="267" width="4" height="4" fill="#f88c48"/><rect x="291" y="267" width="26" height="4" fill="#f89048"/><rect x="150" y="271" width="23" height="4" fill="#ec8054"/><rect x="173" y="271" width="3" height="4" fill="#f08454"/><rect x="176" y="271" width="11" height="4" fill="#ec8054"/><rect x="187" y="271" width="4" height="4" fill="#e88058"/><rect x="191" y="271" width="4" height="4" fill="#e87c58"/><rect x="195" y="271" width="7" height="4" fill="#e47c5c"/><rect x="202" y="271" width="19" height="4" fill="#e07860"/><rect x="221" y="271" width="7" height="4" fill="#e07464"/><rect x="228" y="271" width="4" height="4" fill="#dc7464"/><rect x="232" y="271" width="7" height="4" fill="#dc7468"/><rect x="239" y="271" width="4" height="4" fill="#d87068"/><rect x="243" y="271" width="3" height="4" fill="#d8706c"/><rect x="246" y="271" width="4" height="4" fill="#d4706c"/><rect x="250" y="271" width="15" height="4" fill="#d06c70"/><rect x="265" y="271" width="4" height="4" fill="#d4706c"/><rect x="269" y="271" width="3" height="4" fill="#dc7468"/><rect x="272" y="271" width="4" height="4" fill="#e07860"/><rect x="276" y="271" width="4" height="4" fill="#e88058"/><rect x="280" y="271" width="3" height="4" fill="#f08450"/><rect x="283" y="271" width="4" height="4" fill="#f8884c"/><rect x="287" y="271" width="4" height="4" fill="#f88c48"/><rect x="291" y="271" width="26" height="4" fill="#f89048"/><rect x="150" y="275" width="34" height="3" fill="#f08450"/><rect x="184" y="275" width="3" height="3" fill="#f08454"/><rect x="187" y="275" width="8" height="3" fill="#ec8054"/><rect x="195" y="275" width="7" height="3" fill="#e88058"/><rect x="202" y="275" width="15" height="3" fill="#e87c58"/><rect x="217" y="275" width="15" height="3" fill="#e47c5c"/><rect x="232" y="275" width="11" height="3" fill="#e07860"/><rect x="243" y="275" width="3" height="3" fill="#e07464"/><rect x="246" y="275" width="4" height="3" fill="#dc7464"/><rect x="250" y="275" width="8" height="3" fill="#dc7468"/><rect x="258" y="275" width="3" height="3" fill="#d87068"/><rect x="261" y="275" width="4" height="3" fill="#dc7468"/><rect x="265" y="275" width="4" height="3" fill="#dc7464"/><rect x="269" y="275" width="3" height="3" fill="#e07860"/><rect x="272" y="275" width="4" height="3" fill="#e87c58"/><rect x="276" y="275" width="4" height="3" fill="#ec8054"/><rect x="280" y="275" width="3" height="3" fill="#f4884c"/><rect x="283" y="275" width="8" height="3" fill="#f88c48"/><rect x="291" y="275" width="26" height="3" fill="#f89048"/><rect x="150" y="278" width="34" height="2" fill="#f4884c"/><rect x="184" y="278" width="7" height="2" fill="#f48450"/><rect x="191" y="278" width="4" height="2" fill="#f08450"/><rect x="195" y="278" width="15" height="2" fill="#f08454"/><rect x="210" y="278" width="25" height="2" fill="#ec8054"/><rect x="235" y="278" width="8" height="2" fill="#e88058"/><rect x="243" y="278" width="3" height="2" fill="#e87c58"/><rect x="246" y="278" width="23" height="2" fill="#e47c5c"/><rect x="269" y="278" width="3" height="2" fill="#e88058"/><rect x="272" y="278" width="4" height="2" fill="#ec8054"/><rect x="276" y="278" width="4" height="2" fill="#f48450"/><rect x="280" y="278" width="3" height="2" fill="#f8884c"/><rect x="283" y="278" width="4" height="2" fill="#f88c48"/><rect x="287" y="278" width="30" height="2" fill="#f89048"/><rect x="306" y="161" width="4" height="11" fill="#fb9c3e"/><rect x="302" y="172" width="8" height="8" fill="#fbae3e"/><rect x="299" y="180" width="11" height="24" fill="#fbbe3c"/><rect x="307" y="212" width="4" height="4" fill="#fbc23e"/><rect x="303" y="215" width="9" height="13" fill="#e9f55c"/><rect x="307" y="216" width="4" height="4" fill="#f3e04f"/><path d="M151 126h162v1h-162zM151 127h43v1h-43zM254 127h29v2h-29zM151 128h6v1h-6zM235 127h7v3h-7zM246 127h4v7h-4zM232 130h7v4h-7zM254 129h26v8h-26zM221 131h7v6h-7zM250 137h30v4h-30zM213 138h11v4h-11zM261 141h15v4h-15zM250 141h4v5h-4zM213 142h7v6h-7zM261 145h11v4h-11zM213 148h15v3h-15zM236 146h3v8h-3zM213 151h4v3h-4zM220 151h5v3h-5zM180 152h8v3h-8zM310 127h3v29h-3zM302 153h4v3h-4zM262 149h7v9h-7zM297 156h16v5h-16zM258 158h11v3h-11zM210 154h11v8h-11zM232 158h4v4h-4zM247 154h3v10h-3zM267 161h2v3h-2zM220 162h1v2h-1zM225 162h11v2h-11zM258 161h7v4h-7zM210 162h7v4h-7zM225 164h26v2h-26zM220 164h2v2h-2zM210 166h12v1h-12zM240 166h11v3h-11zM225 166h11v4h-11zM214 167h8v3h-8zM214 170h22v1h-22zM297 161h9v11h-9zM240 169h14v3h-14zM284 168h4v6h-4zM210 171h26v3h-26zM240 172h18v2h-18zM233 174h7v2h-7zM244 174h14v2h-14zM233 176h25v1h-25zM207 174h18v4h-18zM233 177h18v1h-18zM233 178h7v4h-7zM225 178h4v4h-4zM244 178h7v4h-7zM207 178h15v4h-15zM196 178h3v5h-3zM207 182h44v1h-44zM203 183h48v2h-48zM196 183h4v3h-4zM203 185h44v1h-44zM195 186h52v1h-52zM297 172h6v16h-6zM192 187h55v2h-55zM192 189h59v2h-59zM189 191h62v3h-62zM189 194h34v2h-34zM226 194h25v2h-25zM278 189h2v8h-2zM189 196h62v1h-62zM189 197h51v1h-51zM189 198h26v4h-26zM310 161h3v43h-3zM297 188h3v16h-3zM221 198h2v6h-2zM226 198h14v6h-14zM189 202h29v2h-29zM189 204h30v3h-30zM226 204h15v6h-15zM186 207h33v3h-33zM186 210h29v1h-29zM297 204h16v8h-16zM230 210h11v3h-11zM197 211h18v3h-18zM310 212h3v2h-3zM297 212h10v3h-10zM197 214h14v1h-14zM193 214h2v1h-2zM311 214h2v1h-2zM230 213h14v3h-14zM193 215h18v2h-18zM195 217h13v1h-13zM194 218h14v1h-14zM230 218h22v4h-22zM190 219h18v3h-18zM297 215h6v10h-6zM226 222h26v3h-26zM312 215h1v12h-1zM297 225h10v2h-10zM264 224h2v5h-2zM252 225h4v4h-4zM297 227h16v5h-16zM260 229h4v3h-4zM249 229h7v4h-7zM194 222h14v12h-14zM230 225h18v9h-18zM230 234h15v1h-15zM194 234h7v3h-7zM249 237h3v4h-3zM234 237h11v4h-11zM199 237h2v7h-2zM234 241h7v3h-7zM245 241h7v3h-7zM205 242h18v2h-18zM249 244h4v2h-4zM233 244h9v4h-9zM205 244h15v5h-15zM256 249h4v3h-4zM220 249h3v3h-3zM231 248h14v8h-14zM201 249h8v7h-8zM247 253h6v3h-6zM231 256h22v1h-22zM191 254h7v4h-7zM231 257h19v3h-19zM201 256h4v6h-4zM187 258h11v4h-11zM272 262h2v2h-2zM235 260h7v5h-7zM183 262h11v4h-11zM238 265h4v3h-4zM216 261h8v8h-8zM183 266h8v4h-8zM173 267h3v3h-3zM154 271h4v3h-4zM209 269h15v6h-15zM180 270h11v7h-11zM165 271h8v6h-8zM248 275h27v4h-27zM205 277h41v2h-41zM165 277h26v2h-26zM151 211h2v69h-2z" fill="#97b6e1"/></g><polygon points="306.3,155.4 305.4,155.1 302.6,155.7 297.0,157.4 291.9,161.3 288.0,167.0 284.1,176.0 280.7,185.0 277.3,195.0 275.0,204.0 272.5,209.0 269.0,214.0 268.5,219.0 266.5,224.0 264.0,228.0 260.0,231.0 259.5,234.0 261.5,237.0 261.5,248.0 266.0,249.0 269.5,253.0 271.5,261.0 274.5,264.5 275.5,274.0 275.5,281.0 316.0,281.0 316.0,220.5 311.5,221.0 311.0,223.0 309.0,226.0 306.0,227.0 303.5,225.0 302.0,222.0 302.0,218.0 302.5,214.0 304.5,211.5 306.8,210.0 307.1,207.0 306.0,205.1 304.5,205.5 303.8,207.8 301.9,208.1 301.5,205.9 302.6,204.8 303.0,201.8 301.1,198.0 299.2,195.0 298.4,192.0 298.9,188.2 300.4,183.8 300.8,180.0 301.3,176.0 302.6,169.0 304.2,162.0 306.3,157.6" fill="#efefdb" stroke="#7a7a7a" stroke-width="1.5" stroke-linejoin="round"/>
<line x1="151.10" y1="125.5" x2="154.50" y2="279.5" stroke="#b0b0b0" stroke-width="1"/>
<line x1="174.17" y1="125.5" x2="177.45" y2="279.5" stroke="#b0b0b0" stroke-width="1"/>
<line x1="197.24" y1="125.5" x2="200.40" y2="279.5" stroke="#b0b0b0" stroke-width="1"/>
<line x1="220.31" y1="125.5" x2="223.35" y2="279.5" stroke="#b0b0b0" stroke-width="1"/>
<line x1="243.38" y1="125.5" x2="246.30" y2="279.5" stroke="#b0b0b0" stroke-width="1"/>
<line x1="266.45" y1="125.5" x2="269.25" y2="279.5" stroke="#b0b0b0" stroke-width="1"/>
<line x1="289.52" y1="125.5" x2="292.20" y2="279.5" stroke="#b0b0b0" stroke-width="1"/>
<line x1="312.59" y1="125.5" x2="315.15" y2="279.5" stroke="#b0b0b0" stroke-width="1"/>
<line x1="150.5" y1="139.60" x2="312.5" y2="135.80" stroke="#b0b0b0" stroke-width="1"/>
<line x1="150.5" y1="159.32" x2="312.5" y2="155.52" stroke="#b0b0b0" stroke-width="1"/>
<line x1="150.5" y1="179.04" x2="312.5" y2="175.24" stroke="#b0b0b0" stroke-width="1"/>
<line x1="150.5" y1="198.76" x2="312.5" y2="194.96" stroke="#b0b0b0" stroke-width="1"/>
<line x1="150.5" y1="218.48" x2="312.5" y2="214.68" stroke="#b0b0b0" stroke-width="1"/>
<line x1="150.5" y1="238.20" x2="312.5" y2="234.40" stroke="#b0b0b0" stroke-width="1"/>
<line x1="150.5" y1="257.92" x2="312.5" y2="254.12" stroke="#b0b0b0" stroke-width="1"/>
<line x1="150.5" y1="277.64" x2="312.5" y2="273.84" stroke="#b0b0b0" stroke-width="1"/>
</g>
<rect x="150.5" y="125.5" width="162" height="154" fill="none" stroke="#000" stroke-width="1"/>
<g clip-path="url(#clip1)">
<rect x="393.5" y="125.5" width="162" height="154" fill="#97b6e1"/>
<g shape-rendering="crispEdges"><rect x="393" y="125" width="4" height="6" fill="#dc6c58"/><rect x="397" y="125" width="4" height="6" fill="#dc6c54"/><rect x="401" y="125" width="4" height="6" fill="#e0745c"/><rect x="405" y="125" width="3" height="6" fill="#e07860"/><rect x="408" y="125" width="8" height="6" fill="#e0745c"/><rect x="416" y="125" width="3" height="6" fill="#e48068"/><rect x="419" y="125" width="4" height="6" fill="#e8886c"/><rect x="423" y="125" width="4" height="6" fill="#f4a884"/><rect x="427" y="125" width="3" height="6" fill="#f4a484"/><rect x="430" y="125" width="4" height="6" fill="#f4ac88"/><rect x="434" y="125" width="4" height="6" fill="#f4a480"/><rect x="438" y="125" width="3" height="6" fill="#f09c7c"/><rect x="441" y="125" width="4" height="6" fill="#f09878"/><rect x="445" y="125" width="4" height="6" fill="#dc6c58"/><rect x="449" y="125" width="4" height="6" fill="#ec9074"/><rect x="453" y="125" width="3" height="6" fill="#f09c7c"/><rect x="456" y="125" width="4" height="6" fill="#ec9074"/><rect x="460" y="125" width="4" height="6" fill="#f09878"/><rect x="464" y="125" width="3" height="6" fill="#f09c7c"/><rect x="467" y="125" width="4" height="6" fill="#f4a080"/><rect x="471" y="125" width="4" height="6" fill="#f09c7c"/><rect x="475" y="125" width="3" height="6" fill="#f0a080"/><rect x="478" y="125" width="4" height="6" fill="#f4a888"/><rect x="482" y="125" width="4" height="6" fill="#f4a480"/><rect x="486" y="125" width="3" height="6" fill="#f0a080"/><rect x="489" y="125" width="4" height="6" fill="#f4a884"/><rect x="493" y="125" width="4" height="6" fill="#f4a888"/><rect x="497" y="125" width="4" height="6" fill="#f4a884"/><rect x="501" y="125" width="7" height="6" fill="#f09c7c"/><rect x="508" y="125" width="4" height="6" fill="#f4a080"/><rect x="512" y="125" width="7" height="6" fill="#f09878"/><rect x="519" y="125" width="4" height="6" fill="#f0a080"/><rect x="523" y="125" width="3" height="6" fill="#f4a480"/><rect x="526" y="125" width="4" height="6" fill="#f09878"/><rect x="530" y="125" width="4" height="6" fill="#e88c70"/><rect x="534" y="125" width="3" height="6" fill="#e8846c"/><rect x="537" y="125" width="4" height="6" fill="#dc6854"/><rect x="541" y="125" width="4" height="6" fill="#d05448"/><rect x="545" y="125" width="3" height="6" fill="#c43c3c"/><rect x="548" y="125" width="4" height="6" fill="#cc4844"/><rect x="552" y="125" width="4" height="6" fill="#f09878"/><rect x="556" y="125" width="4" height="6" fill="#f4a484"/><rect x="393" y="131" width="4" height="3" fill="#d86854"/><rect x="397" y="131" width="4" height="3" fill="#dc6c58"/><rect x="401" y="131" width="4" height="3" fill="#e0745c"/><rect x="405" y="131" width="7" height="3" fill="#e47c64"/><rect x="412" y="131" width="4" height="3" fill="#e48064"/><rect x="416" y="131" width="7" height="3" fill="#e48068"/><rect x="423" y="131" width="7" height="3" fill="#f4a484"/><rect x="430" y="131" width="4" height="3" fill="#f4a884"/><rect x="434" y="131" width="4" height="3" fill="#f4a080"/><rect x="438" y="131" width="3" height="3" fill="#f09c7c"/><rect x="441" y="131" width="4" height="3" fill="#f09878"/><rect x="445" y="131" width="4" height="3" fill="#ec9474"/><rect x="449" y="131" width="4" height="3" fill="#f0a07c"/><rect x="453" y="131" width="3" height="3" fill="#f09878"/><rect x="456" y="131" width="4" height="3" fill="#f0a07c"/><rect x="460" y="131" width="4" height="3" fill="#f09c7c"/><rect x="464" y="131" width="3" height="3" fill="#f4a080"/><rect x="467" y="131" width="4" height="3" fill="#f0a07c"/><rect x="471" y="131" width="4" height="3" fill="#f4a484"/><rect x="475" y="131" width="3" height="3" fill="#f4a480"/><rect x="478" y="131" width="4" height="3" fill="#f09c7c"/><rect x="482" y="131" width="4" height="3" fill="#f4a888"/><rect x="486" y="131" width="3" height="3" fill="#f4a080"/><rect x="489" y="131" width="4" height="3" fill="#f4a480"/><rect x="493" y="131" width="4" height="3" fill="#f4a080"/><rect x="497" y="131" width="4" height="3" fill="#f4a484"/><rect x="501" y="131" width="3" height="3" fill="#f4a480"/><rect x="504" y="131" width="4" height="3" fill="#f4ac88"/><rect x="508" y="131" width="4" height="3" fill="#f4a888"/><rect x="512" y="131" width="14" height="3" fill="#f4a480"/><rect x="526" y="131" width="4" height="3" fill="#f09c78"/><rect x="530" y="131" width="4" height="3" fill="#ec9074"/><rect x="534" y="131" width="3" height="3" fill="#e47c64"/><rect x="537" y="131" width="4" height="3" fill="#d45c4c"/><rect x="541" y="131" width="4" height="3" fill="#c03438"/><rect x="545" y="131" width="3" height="3" fill="#bc3034"/><rect x="548" y="131" width="4" height="3" fill="#c84840"/><rect x="552" y="131" width="4" height="3" fill="#ec9070"/><rect x="556" y="131" width="4" height="3" fill="#f0a07c"/><rect x="393" y="134" width="4" height="4" fill="#dc6c54"/><rect x="397" y="134" width="4" height="4" fill="#dc7058"/><rect x="401" y="134" width="4" height="4" fill="#dc6c54"/><rect x="405" y="134" width="3" height="4" fill="#e0745c"/><rect x="408" y="134" width="4" height="4" fill="#e07860"/><rect x="412" y="134" width="4" height="4" fill="#e0745c"/><rect x="416" y="134" width="3" height="4" fill="#e07860"/><rect x="419" y="134" width="4" height="4" fill="#e48468"/><rect x="423" y="134" width="4" height="4" fill="#f0a07c"/><rect x="427" y="134" width="7" height="4" fill="#f4a888"/><rect x="434" y="134" width="4" height="4" fill="#f4a080"/><rect x="438" y="134" width="3" height="4" fill="#f0a07c"/><rect x="441" y="134" width="4" height="4" fill="#f09878"/><rect x="445" y="134" width="4" height="4" fill="#f09c7c"/><rect x="449" y="134" width="4" height="4" fill="#f0a080"/><rect x="453" y="134" width="3" height="4" fill="#f4a484"/><rect x="456" y="134" width="4" height="4" fill="#f0a07c"/><rect x="460" y="134" width="4" height="4" fill="#f09878"/><rect x="464" y="134" width="3" height="4" fill="#f09c78"/><rect x="467" y="134" width="4" height="4" fill="#f0a07c"/><rect x="471" y="134" width="4" height="4" fill="#f0a080"/><rect x="475" y="134" width="3" height="4" fill="#f4a480"/><rect x="478" y="134" width="4" height="4" fill="#f4a888"/><rect x="482" y="134" width="4" height="4" fill="#f4ac88"/><rect x="486" y="134" width="3" height="4" fill="#f0a07c"/><rect x="489" y="134" width="4" height="4" fill="#f4a480"/><rect x="493" y="134" width="4" height="4" fill="#f4a888"/><rect x="497" y="134" width="4" height="4" fill="#f4a884"/><rect x="501" y="134" width="3" height="4" fill="#f4ac88"/><rect x="504" y="134" width="4" height="4" fill="#f4a888"/><rect x="508" y="134" width="4" height="4" fill="#f0a080"/><rect x="512" y="134" width="3" height="4" fill="#f09c78"/><rect x="515" y="134" width="4" height="4" fill="#f09c7c"/><rect x="519" y="134" width="4" height="4" fill="#f0a07c"/><rect x="523" y="134" width="3" height="4" fill="#f09878"/><rect x="526" y="134" width="4" height="4" fill="#ec9074"/><rect x="530" y="134" width="4" height="4" fill="#e88c70"/><rect x="534" y="134" width="3" height="4" fill="#e88c6c"/><rect x="537" y="134" width="4" height="4" fill="#d86450"/><rect x="541" y="134" width="4" height="4" fill="#c03438"/><rect x="545" y="134" width="3" height="4" fill="#b41c2c"/><rect x="548" y="134" width="4" height="4" fill="#c4383c"/><rect x="552" y="134" width="4" height="4" fill="#ec9070"/><rect x="556" y="134" width="4" height="4" fill="#f4a888"/><rect x="393" y="138" width="4" height="4" fill="#e07860"/><rect x="397" y="138" width="4" height="4" fill="#dc7058"/><rect x="401" y="138" width="4" height="4" fill="#dc6c58"/><rect x="405" y="138" width="3" height="4" fill="#e48064"/><rect x="408" y="138" width="4" height="4" fill="#e88468"/><rect x="412" y="138" width="4" height="4" fill="#e07860"/><rect x="416" y="138" width="3" height="4" fill="#e48068"/><rect x="419" y="138" width="4" height="4" fill="#e48064"/><rect x="423" y="138" width="4" height="4" fill="#f4a484"/><rect x="427" y="138" width="3" height="4" fill="#f4a080"/><rect x="430" y="138" width="4" height="4" fill="#f0a07c"/><rect x="434" y="138" width="4" height="4" fill="#f4a480"/><rect x="438" y="138" width="3" height="4" fill="#f8b498"/><rect x="441" y="138" width="4" height="4" fill="#f4ac8c"/><rect x="445" y="138" width="4" height="4" fill="#f8b494"/><rect x="449" y="138" width="4" height="4" fill="#f4b090"/><rect x="453" y="138" width="3" height="4" fill="#f4a884"/><rect x="456" y="138" width="4" height="4" fill="#f09c7c"/><rect x="460" y="138" width="4" height="4" fill="#f4a888"/><rect x="464" y="138" width="3" height="4" fill="#f09c7c"/><rect x="467" y="138" width="4" height="4" fill="#f0a07c"/><rect x="471" y="138" width="4" height="4" fill="#f09c7c"/><rect x="475" y="138" width="3" height="4" fill="#f4a884"/><rect x="478" y="138" width="8" height="4" fill="#f4a888"/><rect x="486" y="138" width="3" height="4" fill="#f4a080"/><rect x="489" y="138" width="4" height="4" fill="#f0a07c"/><rect x="493" y="138" width="4" height="4" fill="#f4a080"/><rect x="497" y="138" width="4" height="4" fill="#f4a484"/><rect x="501" y="138" width="3" height="4" fill="#f4a884"/><rect x="504" y="138" width="4" height="4" fill="#f0a07c"/><rect x="508" y="138" width="4" height="4" fill="#f09c7c"/><rect x="512" y="138" width="3" height="4" fill="#ec9878"/><rect x="515" y="138" width="4" height="4" fill="#ec9074"/><rect x="519" y="138" width="7" height="4" fill="#e8886c"/><rect x="526" y="138" width="4" height="4" fill="#ec9070"/><rect x="530" y="138" width="4" height="4" fill="#e88c70"/><rect x="534" y="138" width="3" height="4" fill="#e48468"/><rect x="537" y="138" width="4" height="4" fill="#d45c4c"/><rect x="541" y="138" width="4" height="4" fill="#c03438"/><rect x="545" y="138" width="3" height="4" fill="#a81428"/><rect x="548" y="138" width="4" height="4" fill="#c03438"/><rect x="552" y="138" width="4" height="4" fill="#ec9070"/><rect x="556" y="138" width="4" height="4" fill="#f4a888"/><rect x="393" y="142" width="4" height="3" fill="#e48468"/><rect x="397" y="142" width="4" height="3" fill="#e8886c"/><rect x="401" y="142" width="4" height="3" fill="#ec9070"/><rect x="405" y="142" width="3" height="3" fill="#e88468"/><rect x="408" y="142" width="4" height="3" fill="#e88c6c"/><rect x="412" y="142" width="4" height="3" fill="#e8886c"/><rect x="416" y="142" width="3" height="3" fill="#ec9474"/><rect x="419" y="142" width="4" height="3" fill="#f09878"/><rect x="423" y="142" width="4" height="3" fill="#f09c7c"/><rect x="427" y="142" width="3" height="3" fill="#f4a884"/><rect x="430" y="142" width="4" height="3" fill="#f4a480"/><rect x="434" y="142" width="4" height="3" fill="#f4ac8c"/><rect x="438" y="142" width="3" height="3" fill="#f4b090"/><rect x="441" y="142" width="4" height="3" fill="#f8b090"/><rect x="445" y="142" width="4" height="3" fill="#f4ac8c"/><rect x="449" y="142" width="4" height="3" fill="#f8b494"/><rect x="453" y="142" width="3" height="3" fill="#f4a884"/><rect x="456" y="142" width="4" height="3" fill="#f4ac88"/><rect x="460" y="142" width="4" height="3" fill="#f0a07c"/><rect x="464" y="142" width="3" height="3" fill="#f4a484"/><rect x="467" y="142" width="8" height="3" fill="#f4ac88"/><rect x="475" y="142" width="3" height="3" fill="#f4a480"/><rect x="478" y="142" width="8" height="3" fill="#f4ac88"/><rect x="486" y="142" width="7" height="3" fill="#f4ac8c"/><rect x="493" y="142" width="4" height="3" fill="#f4a484"/><rect x="497" y="142" width="4" height="3" fill="#f4a480"/><rect x="501" y="142" width="3" height="3" fill="#f4a884"/><rect x="504" y="142" width="4" height="3" fill="#f4a480"/><rect x="508" y="142" width="4" height="3" fill="#f4a884"/><rect x="512" y="142" width="3" height="3" fill="#ec9070"/><rect x="515" y="142" width="4" height="3" fill="#e48468"/><rect x="519" y="142" width="11" height="3" fill="#e88c70"/><rect x="530" y="142" width="4" height="3" fill="#e8886c"/><rect x="534" y="142" width="3" height="3" fill="#e88c70"/><rect x="537" y="142" width="4" height="3" fill="#d86450"/><rect x="541" y="142" width="4" height="3" fill="#bc2c34"/><rect x="545" y="142" width="3" height="3" fill="#b0182c"/><rect x="548" y="142" width="4" height="3" fill="#c03038"/><rect x="552" y="142" width="4" height="3" fill="#ec9070"/><rect x="556" y="142" width="4" height="3" fill="#f4a480"/><rect x="393" y="145" width="4" height="4" fill="#ec9070"/><rect x="397" y="145" width="4" height="4" fill="#ec9474"/><rect x="401" y="145" width="4" height="4" fill="#f09c7c"/><rect x="405" y="145" width="7" height="4" fill="#ec9474"/><rect x="412" y="145" width="4" height="4" fill="#ec9074"/><rect x="416" y="145" width="3" height="4" fill="#f09878"/><rect x="419" y="145" width="4" height="4" fill="#f09c78"/><rect x="423" y="145" width="4" height="4" fill="#f09c7c"/><rect x="427" y="145" width="7" height="4" fill="#f4a884"/><rect x="434" y="145" width="4" height="4" fill="#f4a080"/><rect x="438" y="145" width="3" height="4" fill="#f8b89c"/><rect x="441" y="145" width="4" height="4" fill="#f8b898"/><rect x="445" y="145" width="8" height="4" fill="#f4b090"/><rect x="453" y="145" width="3" height="4" fill="#f4a484"/><rect x="456" y="145" width="4" height="4" fill="#f4ac88"/><rect x="460" y="145" width="4" height="4" fill="#f4a884"/><rect x="464" y="145" width="3" height="4" fill="#f4ac8c"/><rect x="467" y="145" width="4" height="4" fill="#f4a884"/><rect x="471" y="145" width="4" height="4" fill="#f0a080"/><rect x="475" y="145" width="3" height="4" fill="#f4a888"/><rect x="478" y="145" width="4" height="4" fill="#f4a884"/><rect x="482" y="145" width="4" height="4" fill="#f09c7c"/><rect x="486" y="145" width="3" height="4" fill="#f4a884"/><rect x="489" y="145" width="4" height="4" fill="#f4ac8c"/><rect x="493" y="145" width="8" height="4" fill="#f4a480"/><rect x="501" y="145" width="3" height="4" fill="#f4a484"/><rect x="504" y="145" width="4" height="4" fill="#f0a07c"/><rect x="508" y="145" width="4" height="4" fill="#f4a480"/><rect x="512" y="145" width="3" height="4" fill="#e47c64"/><rect x="515" y="145" width="4" height="4" fill="#e88468"/><rect x="519" y="145" width="4" height="4" fill="#e07860"/><rect x="523" y="145" width="3" height="4" fill="#e88468"/><rect x="526" y="145" width="4" height="4" fill="#e88c6c"/><rect x="530" y="145" width="7" height="4" fill="#e8886c"/><rect x="537" y="145" width="4" height="4" fill="#d45848"/><rect x="541" y="145" width="4" height="4" fill="#c03038"/><rect x="545" y="145" width="3" height="4" fill="#b0182c"/><rect x="548" y="145" width="4" height="4" fill="#bc3034"/><rect x="552" y="145" width="4" height="4" fill="#e88c70"/><rect x="556" y="145" width="4" height="4" fill="#f4a888"/><rect x="393" y="149" width="4" height="4" fill="#f4a884"/><rect x="397" y="149" width="4" height="4" fill="#f09c7c"/><rect x="401" y="149" width="4" height="4" fill="#f4a480"/><rect x="405" y="149" width="3" height="4" fill="#f4a888"/><rect x="408" y="149" width="4" height="4" fill="#f0a07c"/><rect x="412" y="149" width="4" height="4" fill="#f4a480"/><rect x="416" y="149" width="3" height="4" fill="#f0a07c"/><rect x="419" y="149" width="8" height="4" fill="#f4a480"/><rect x="427" y="149" width="7" height="4" fill="#f4a884"/><rect x="434" y="149" width="4" height="4" fill="#f4a480"/><rect x="438" y="149" width="7" height="4" fill="#f8b498"/><rect x="445" y="149" width="4" height="4" fill="#f8b494"/><rect x="449" y="149" width="4" height="4" fill="#f8b89c"/><rect x="453" y="149" width="3" height="4" fill="#f4a080"/><rect x="456" y="149" width="4" height="4" fill="#f0a07c"/><rect x="460" y="149" width="7" height="4" fill="#f4a480"/><rect x="467" y="149" width="4" height="4" fill="#f4a888"/><rect x="471" y="149" width="4" height="4" fill="#ec9878"/><rect x="475" y="149" width="3" height="4" fill="#f0a07c"/><rect x="478" y="149" width="4" height="4" fill="#f09878"/><rect x="482" y="149" width="4" height="4" fill="#f4a080"/><rect x="486" y="149" width="3" height="4" fill="#f4ac88"/><rect x="489" y="149" width="4" height="4" fill="#f4a480"/><rect x="493" y="149" width="4" height="4" fill="#f4a484"/><rect x="497" y="149" width="4" height="4" fill="#f4a480"/><rect x="501" y="149" width="3" height="4" fill="#f0a080"/><rect x="504" y="149" width="4" height="4" fill="#f09c7c"/><rect x="508" y="149" width="4" height="4" fill="#f4a484"/><rect x="512" y="149" width="3" height="4" fill="#e48064"/><rect x="515" y="149" width="8" height="4" fill="#e07c60"/><rect x="523" y="149" width="3" height="4" fill="#e8886c"/><rect x="526" y="149" width="4" height="4" fill="#e88c6c"/><rect x="530" y="149" width="7" height="4" fill="#ec9474"/><rect x="537" y="149" width="4" height="4" fill="#d8604c"/><rect x="541" y="149" width="4" height="4" fill="#c03038"/><rect x="545" y="149" width="3" height="4" fill="#c03438"/><rect x="548" y="149" width="4" height="4" fill="#c8403c"/><rect x="552" y="149" width="4" height="4" fill="#f09c7c"/><rect x="556" y="149" width="4" height="4" fill="#f4a888"/><rect x="393" y="153" width="4" height="4" fill="#f8b494"/><rect x="397" y="153" width="8" height="4" fill="#f4b090"/><rect x="405" y="153" width="7" height="4" fill="#f4ac8c"/><rect x="412" y="153" width="4" height="4" fill="#f4a888"/><rect x="416" y="153" width="3" height="4" fill="#f4ac8c"/><rect x="419" y="153" width="4" height="4" fill="#f4a884"/><rect x="423" y="153" width="4" height="4" fill="#f4ac8c"/><rect x="427" y="153" width="3" height="4" fill="#f4a888"/><rect x="430" y="153" width="8" height="4" fill="#f4ac8c"/><rect x="438" y="153" width="3" height="4" fill="#f8c0a4"/><rect x="441" y="153" width="8" height="4" fill="#f8b494"/><rect x="449" y="153" width="4" height="4" fill="#f8b89c"/><rect x="453" y="153" width="3" height="4" fill="#f4a884"/><rect x="456" y="153" width="4" height="4" fill="#f09c7c"/><rect x="460" y="153" width="4" height="4" fill="#f4ac88"/><rect x="464" y="153" width="3" height="4" fill="#f4a884"/><rect x="467" y="153" width="4" height="4" fill="#f0a07c"/><rect x="471" y="153" width="4" height="4" fill="#f09c7c"/><rect x="475" y="153" width="3" height="4" fill="#ec9070"/><rect x="478" y="153" width="8" height="4" fill="#ec9074"/><rect x="486" y="153" width="3" height="4" fill="#f4a080"/><rect x="489" y="153" width="4" height="4" fill="#f09c7c"/><rect x="493" y="153" width="4" height="4" fill="#f4a884"/><rect x="497" y="153" width="4" height="4" fill="#f4a480"/><rect x="501" y="153" width="3" height="4" fill="#f4ac88"/><rect x="504" y="153" width="4" height="4" fill="#f4a480"/><rect x="508" y="153" width="4" height="4" fill="#f4a080"/><rect x="512" y="153" width="3" height="4" fill="#e07860"/><rect x="515" y="153" width="4" height="4" fill="#e0745c"/><rect x="519" y="153" width="4" height="4" fill="#e48468"/><rect x="523" y="153" width="3" height="4" fill="#ec9070"/><rect x="526" y="153" width="4" height="4" fill="#ec9474"/><rect x="530" y="153" width="4" height="4" fill="#f4a080"/><rect x="534" y="153" width="3" height="4" fill="#ec9474"/><rect x="537" y="153" width="4" height="4" fill="#dc7058"/><rect x="541" y="153" width="7" height="4" fill="#d86450"/><rect x="548" y="153" width="4" height="4" fill="#e0745c"/><rect x="552" y="153" width="8" height="4" fill="#f09c7c"/><rect x="393" y="157" width="4" height="3" fill="#fcd0b8"/><rect x="397" y="157" width="4" height="3" fill="#fcd4bc"/><rect x="401" y="157" width="4" height="3" fill="#fcd8c4"/><rect x="405" y="157" width="3" height="3" fill="#fcd0b8"/><rect x="408" y="157" width="4" height="3" fill="#fcd8c0"/><rect x="412" y="157" width="4" height="3" fill="#fcd4c0"/><rect x="416" y="157" width="3" height="3" fill="#fcd8c4"/><rect x="419" y="157" width="4" height="3" fill="#fcd8c0"/><rect x="423" y="157" width="7" height="3" fill="#fcd4c0"/><rect x="430" y="157" width="4" height="3" fill="#fcd8c4"/><rect x="434" y="157" width="4" height="3" fill="#fcd0bc"/><rect x="438" y="157" width="3" height="3" fill="#fcd4bc"/><rect x="441" y="157" width="4" height="3" fill="#f4ac8c"/><rect x="445" y="157" width="4" height="3" fill="#f4a884"/><rect x="449" y="157" width="4" height="3" fill="#f4a484"/><rect x="453" y="157" width="7" height="3" fill="#f4a884"/><rect x="460" y="157" width="4" height="3" fill="#f4a080"/><rect x="464" y="157" width="3" height="3" fill="#f4a884"/><rect x="467" y="157" width="4" height="3" fill="#f4a480"/><rect x="471" y="157" width="4" height="3" fill="#e07860"/><rect x="475" y="157" width="3" height="3" fill="#e48068"/><rect x="478" y="157" width="4" height="3" fill="#e0745c"/><rect x="482" y="157" width="4" height="3" fill="#e48468"/><rect x="486" y="157" width="3" height="3" fill="#f4a080"/><rect x="489" y="157" width="4" height="3" fill="#f09c7c"/><rect x="493" y="157" width="4" height="3" fill="#f4a484"/><rect x="497" y="157" width="4" height="3" fill="#f4a080"/><rect x="501" y="157" width="3" height="3" fill="#f4a884"/><rect x="504" y="157" width="4" height="3" fill="#f0a07c"/><rect x="508" y="157" width="4" height="3" fill="#f09c7c"/><rect x="512" y="157" width="7" height="3" fill="#e48468"/><rect x="519" y="157" width="4" height="3" fill="#e48068"/><rect x="523" y="157" width="3" height="3" fill="#e8886c"/><rect x="526" y="157" width="4" height="3" fill="#ec9074"/><rect x="530" y="157" width="4" height="3" fill="#f0a07c"/><rect x="534" y="157" width="3" height="3" fill="#f4a884"/><rect x="537" y="157" width="8" height="3" fill="#f09c7c"/><rect x="545" y="157" width="7" height="3" fill="#f09878"/><rect x="552" y="157" width="4" height="3" fill="#f0a080"/><rect x="556" y="157" width="4" height="3" fill="#f4a484"/><rect x="393" y="160" width="4" height="4" fill="#fcdcc8"/><rect x="397" y="160" width="4" height="4" fill="#fcd8c0"/><rect x="401" y="160" width="4" height="4" fill="#fcdccc"/><rect x="405" y="160" width="3" height="4" fill="#fce0d0"/><rect x="408" y="160" width="4" height="4" fill="#fce0cc"/><rect x="412" y="160" width="7" height="4" fill="#fce0d0"/><rect x="419" y="160" width="4" height="4" fill="#fcdccc"/><rect x="423" y="160" width="7" height="4" fill="#fcd8c4"/><rect x="430" y="160" width="8" height="4" fill="#fcdcc8"/><rect x="438" y="160" width="3" height="4" fill="#fcd4c0"/><rect x="441" y="160" width="4" height="4" fill="#f8b094"/><rect x="445" y="160" width="4" height="4" fill="#f4a884"/><rect x="449" y="160" width="4" height="4" fill="#f4a888"/><rect x="453" y="160" width="3" height="4" fill="#f4a480"/><rect x="456" y="160" width="4" height="4" fill="#f09c7c"/><rect x="460" y="160" width="4" height="4" fill="#f4a888"/><rect x="464" y="160" width="3" height="4" fill="#f4ac88"/><rect x="467" y="160" width="4" height="4" fill="#f09c78"/><rect x="471" y="160" width="4" height="4" fill="#e47c64"/><rect x="475" y="160" width="3" height="4" fill="#e07c60"/><rect x="478" y="160" width="4" height="4" fill="#e48468"/><rect x="482" y="160" width="4" height="4" fill="#e8886c"/><rect x="486" y="160" width="3" height="4" fill="#f09c7c"/><rect x="489" y="160" width="4" height="4" fill="#f4a480"/><rect x="493" y="160" width="4" height="4" fill="#f4a080"/><rect x="497" y="160" width="4" height="4" fill="#f0a07c"/><rect x="501" y="160" width="3" height="4" fill="#f4a884"/><rect x="504" y="160" width="8" height="4" fill="#f4a480"/><rect x="512" y="160" width="7" height="4" fill="#e88c70"/><rect x="519" y="160" width="4" height="4" fill="#e48468"/><rect x="523" y="160" width="3" height="4" fill="#e8886c"/><rect x="526" y="160" width="4" height="4" fill="#ec9478"/><rect x="530" y="160" width="7" height="4" fill="#f09c7c"/><rect x="537" y="160" width="4" height="4" fill="#f0a07c"/><rect x="541" y="160" width="4" height="4" fill="#f4a480"/><rect x="545" y="160" width="3" height="4" fill="#f4ac88"/><rect x="548" y="160" width="4" height="4" fill="#f0a080"/><rect x="552" y="160" width="4" height="4" fill="#f09c7c"/><rect x="556" y="160" width="4" height="4" fill="#f4a080"/><rect x="393" y="164" width="8" height="4" fill="#fcdcc8"/><rect x="401" y="164" width="4" height="4" fill="#fcdcc4"/><rect x="405" y="164" width="3" height="4" fill="#fce4d8"/><rect x="408" y="164" width="4" height="4" fill="#fce0d4"/><rect x="412" y="164" width="4" height="4" fill="#fce4d4"/><rect x="416" y="164" width="3" height="4" fill="#fce4d8"/><rect x="419" y="164" width="4" height="4" fill="#fcd8c4"/><rect x="423" y="164" width="4" height="4" fill="#fcdcc8"/><rect x="427" y="164" width="7" height="4" fill="#fcdccc"/><rect x="434" y="164" width="4" height="4" fill="#fcd8c0"/><rect x="438" y="164" width="3" height="4" fill="#fcd8c4"/><rect x="441" y="164" width="4" height="4" fill="#f4a888"/><rect x="445" y="164" width="4" height="4" fill="#f0a080"/><rect x="449" y="164" width="4" height="4" fill="#f4ac88"/><rect x="453" y="164" width="3" height="4" fill="#f4a484"/><rect x="456" y="164" width="4" height="4" fill="#f0a080"/><rect x="460" y="164" width="4" height="4" fill="#f4a484"/><rect x="464" y="164" width="3" height="4" fill="#f0a07c"/><rect x="467" y="164" width="4" height="4" fill="#f0a080"/><rect x="471" y="164" width="4" height="4" fill="#e47c64"/><rect x="475" y="164" width="3" height="4" fill="#f09c7c"/><rect x="478" y="164" width="8" height="4" fill="#f09878"/><rect x="486" y="164" width="3" height="4" fill="#f4a480"/><rect x="489" y="164" width="4" height="4" fill="#f4a888"/><rect x="493" y="164" width="4" height="4" fill="#f4b090"/><rect x="497" y="164" width="4" height="4" fill="#f4ac8c"/><rect x="501" y="164" width="3" height="4" fill="#f4ac88"/><rect x="504" y="164" width="4" height="4" fill="#f4a480"/><rect x="508" y="164" width="4" height="4" fill="#f4a884"/><rect x="512" y="164" width="7" height="4" fill="#f0a07c"/><rect x="519" y="164" width="4" height="4" fill="#ec9478"/><rect x="523" y="164" width="3" height="4" fill="#f4a080"/><rect x="526" y="164" width="4" height="4" fill="#f0a080"/><rect x="530" y="164" width="4" height="4" fill="#f4a480"/><rect x="534" y="164" width="3" height="4" fill="#f4ac88"/><rect x="537" y="164" width="4" height="4" fill="#f4a484"/><rect x="541" y="164" width="7" height="4" fill="#f0a07c"/><rect x="548" y="164" width="4" height="4" fill="#f4a484"/><rect x="552" y="164" width="4" height="4" fill="#f4a884"/><rect x="556" y="164" width="4" height="4" fill="#f0a07c"/><rect x="393" y="168" width="4" height="3" fill="#fcdcc8"/><rect x="397" y="168" width="4" height="3" fill="#fcd8c4"/><rect x="401" y="168" width="4" height="3" fill="#fcd4c0"/><rect x="405" y="168" width="3" height="3" fill="#fce0d0"/><rect x="408" y="168" width="4" height="3" fill="#fcdcc8"/><rect x="412" y="168" width="4" height="3" fill="#fce0d0"/><rect x="416" y="168" width="3" height="3" fill="#fcdccc"/><rect x="419" y="168" width="4" height="3" fill="#fcd4c0"/><rect x="423" y="168" width="4" height="3" fill="#fcd8c4"/><rect x="427" y="168" width="3" height="3" fill="#fcdcc8"/><rect x="430" y="168" width="4" height="3" fill="#fcd8c0"/><rect x="434" y="168" width="4" height="3" fill="#fcd4c0"/><rect x="438" y="168" width="3" height="3" fill="#fcd0b8"/><rect x="441" y="168" width="4" height="3" fill="#f8b494"/><rect x="445" y="168" width="4" height="3" fill="#f0a07c"/><rect x="449" y="168" width="4" height="3" fill="#f4ac88"/><rect x="453" y="168" width="3" height="3" fill="#f4a480"/><rect x="456" y="168" width="4" height="3" fill="#f0a07c"/><rect x="460" y="168" width="4" height="3" fill="#f4a888"/><rect x="464" y="168" width="3" height="3" fill="#f4a480"/><rect x="467" y="168" width="4" height="3" fill="#f4a080"/><rect x="471" y="168" width="4" height="3" fill="#f4a480"/><rect x="475" y="168" width="3" height="3" fill="#f4a884"/><rect x="478" y="168" width="4" height="3" fill="#f4ac88"/><rect x="482" y="168" width="11" height="3" fill="#f4a888"/><rect x="493" y="168" width="4" height="3" fill="#f4ac88"/><rect x="497" y="168" width="4" height="3" fill="#f4ac8c"/><rect x="501" y="168" width="7" height="3" fill="#f4a480"/><rect x="508" y="168" width="4" height="3" fill="#f0a07c"/><rect x="512" y="168" width="3" height="3" fill="#f4a480"/><rect x="515" y="168" width="4" height="3" fill="#f09c7c"/><rect x="519" y="168" width="4" height="3" fill="#f4a484"/><rect x="523" y="168" width="3" height="3" fill="#f0a07c"/><rect x="526" y="168" width="4" height="3" fill="#f09878"/><rect x="530" y="168" width="4" height="3" fill="#f0a07c"/><rect x="534" y="168" width="11" height="3" fill="#f4a884"/><rect x="545" y="168" width="3" height="3" fill="#f0a07c"/><rect x="548" y="168" width="4" height="3" fill="#f09c7c"/><rect x="552" y="168" width="4" height="3" fill="#f4a080"/><rect x="556" y="168" width="4" height="3" fill="#f09c7c"/><rect x="393" y="171" width="8" height="4" fill="#fcd8c4"/><rect x="401" y="171" width="4" height="4" fill="#f8b494"/><rect x="405" y="171" width="11" height="4" fill="#f4ac8c"/><rect x="416" y="171" width="3" height="4" fill="#f8b494"/><rect x="419" y="171" width="4" height="4" fill="#fcd0bc"/><rect x="423" y="171" width="4" height="4" fill="#fcccb4"/><rect x="427" y="171" width="3" height="4" fill="#fcd4c0"/><rect x="430" y="171" width="4" height="4" fill="#fcccb4"/><rect x="434" y="171" width="4" height="4" fill="#fcd8c0"/><rect x="438" y="171" width="3" height="4" fill="#f8c4ac"/><rect x="441" y="171" width="4" height="4" fill="#f4ac8c"/><rect x="445" y="171" width="4" height="4" fill="#f0a080"/><rect x="449" y="171" width="4" height="4" fill="#f4ac8c"/><rect x="453" y="171" width="3" height="4" fill="#f4a484"/><rect x="456" y="171" width="4" height="4" fill="#f4a888"/><rect x="460" y="171" width="4" height="4" fill="#f4a080"/><rect x="464" y="171" width="3" height="4" fill="#f4a480"/><rect x="467" y="171" width="4" height="4" fill="#f4a484"/><rect x="471" y="171" width="4" height="4" fill="#f4a080"/><rect x="475" y="171" width="3" height="4" fill="#f09c7c"/><rect x="478" y="171" width="4" height="4" fill="#f4ac88"/><rect x="482" y="171" width="11" height="4" fill="#f4a480"/><rect x="493" y="171" width="4" height="4" fill="#f4b090"/><rect x="497" y="171" width="7" height="4" fill="#f4a888"/><rect x="504" y="171" width="4" height="4" fill="#f0a07c"/><rect x="508" y="171" width="7" height="4" fill="#f4a480"/><rect x="515" y="171" width="4" height="4" fill="#f09878"/><rect x="519" y="171" width="4" height="4" fill="#f4a484"/><rect x="523" y="171" width="3" height="4" fill="#f09878"/><rect x="526" y="171" width="4" height="4" fill="#f09c7c"/><rect x="530" y="171" width="4" height="4" fill="#f09878"/><rect x="534" y="171" width="3" height="4" fill="#f0a07c"/><rect x="537" y="171" width="4" height="4" fill="#f4a884"/><rect x="541" y="171" width="4" height="4" fill="#f4a888"/><rect x="545" y="171" width="3" height="4" fill="#f4a884"/><rect x="548" y="171" width="4" height="4" fill="#f4ac8c"/><rect x="552" y="171" width="4" height="4" fill="#f4a480"/><rect x="556" y="171" width="4" height="4" fill="#f4ac88"/><rect x="393" y="175" width="4" height="4" fill="#fcdccc"/><rect x="397" y="175" width="4" height="4" fill="#fcd8c0"/><rect x="401" y="175" width="4" height="4" fill="#f4ac8c"/><rect x="405" y="175" width="3" height="4" fill="#f4a480"/><rect x="408" y="175" width="8" height="4" fill="#f4ac8c"/><rect x="416" y="175" width="3" height="4" fill="#f8b898"/><rect x="419" y="175" width="4" height="4" fill="#fcccb4"/><rect x="423" y="175" width="4" height="4" fill="#fcd0b8"/><rect x="427" y="175" width="3" height="4" fill="#f8c8ac"/><rect x="430" y="175" width="4" height="4" fill="#fcd0b8"/><rect x="434" y="175" width="4" height="4" fill="#f8c8b0"/><rect x="438" y="175" width="3" height="4" fill="#f8c4a8"/><rect x="441" y="175" width="8" height="4" fill="#f4ac88"/><rect x="449" y="175" width="7" height="4" fill="#f4a888"/><rect x="456" y="175" width="8" height="4" fill="#f4a884"/><rect x="464" y="175" width="3" height="4" fill="#f09c7c"/><rect x="467" y="175" width="4" height="4" fill="#f0a080"/><rect x="471" y="175" width="4" height="4" fill="#f0a07c"/><rect x="475" y="175" width="3" height="4" fill="#f4a080"/><rect x="478" y="175" width="4" height="4" fill="#f4a884"/><rect x="482" y="175" width="4" height="4" fill="#f09c7c"/><rect x="486" y="175" width="3" height="4" fill="#f4a484"/><rect x="489" y="175" width="4" height="4" fill="#f4a888"/><rect x="493" y="175" width="4" height="4" fill="#f4a480"/><rect x="497" y="175" width="4" height="4" fill="#f4a888"/><rect x="501" y="175" width="3" height="4" fill="#f0a080"/><rect x="504" y="175" width="4" height="4" fill="#f4a080"/><rect x="508" y="175" width="4" height="4" fill="#f4a884"/><rect x="512" y="175" width="3" height="4" fill="#f4a080"/><rect x="515" y="175" width="11" height="4" fill="#f09c7c"/><rect x="526" y="175" width="4" height="4" fill="#f4a480"/><rect x="530" y="175" width="7" height="4" fill="#f4a080"/><rect x="537" y="175" width="4" height="4" fill="#f4a484"/><rect x="541" y="175" width="7" height="4" fill="#f4a080"/><rect x="548" y="175" width="4" height="4" fill="#f4a884"/><rect x="552" y="175" width="4" height="4" fill="#f4ac88"/><rect x="556" y="175" width="4" height="4" fill="#f4a480"/><rect x="393" y="179" width="4" height="3" fill="#fcdcc8"/><rect x="397" y="179" width="4" height="3" fill="#fcd4bc"/><rect x="401" y="179" width="4" height="3" fill="#f8b090"/><rect x="405" y="179" width="3" height="3" fill="#f4b090"/><rect x="408" y="179" width="4" height="3" fill="#fcccb0"/><rect x="412" y="179" width="4" height="3" fill="#fcccb4"/><rect x="416" y="179" width="3" height="3" fill="#fcd4c0"/><rect x="419" y="179" width="4" height="3" fill="#fcccb4"/><rect x="423" y="179" width="4" height="3" fill="#f4ac8c"/><rect x="427" y="179" width="3" height="3" fill="#f4a888"/><rect x="430" y="179" width="4" height="3" fill="#f4a884"/><rect x="434" y="179" width="7" height="3" fill="#f4b090"/><rect x="441" y="179" width="4" height="3" fill="#f4a884"/><rect x="445" y="179" width="4" height="3" fill="#f4a888"/><rect x="449" y="179" width="4" height="3" fill="#f4a884"/><rect x="453" y="179" width="3" height="3" fill="#f4a080"/><rect x="456" y="179" width="4" height="3" fill="#f4a884"/><rect x="460" y="179" width="4" height="3" fill="#f0a07c"/><rect x="464" y="179" width="3" height="3" fill="#f4a484"/><rect x="467" y="179" width="4" height="3" fill="#f4a888"/><rect x="471" y="179" width="4" height="3" fill="#f4a480"/><rect x="475" y="179" width="3" height="3" fill="#f4a484"/><rect x="478" y="179" width="4" height="3" fill="#f4a884"/><rect x="482" y="179" width="4" height="3" fill="#f4a480"/><rect x="486" y="179" width="3" height="3" fill="#f09c7c"/><rect x="489" y="179" width="4" height="3" fill="#f4a080"/><rect x="493" y="179" width="4" height="3" fill="#f4a884"/><rect x="497" y="179" width="4" height="3" fill="#f09c7c"/><rect x="501" y="179" width="3" height="3" fill="#f4a888"/><rect x="504" y="179" width="8" height="3" fill="#f4a884"/><rect x="512" y="179" width="3" height="3" fill="#f09c7c"/><rect x="515" y="179" width="4" height="3" fill="#f4a884"/><rect x="519" y="179" width="7" height="3" fill="#f09c7c"/><rect x="526" y="179" width="4" height="3" fill="#f4a480"/><rect x="530" y="179" width="4" height="3" fill="#f09c7c"/><rect x="534" y="179" width="3" height="3" fill="#f0a07c"/><rect x="537" y="179" width="4" height="3" fill="#f4a080"/><rect x="541" y="179" width="4" height="3" fill="#f4ac88"/><rect x="545" y="179" width="3" height="3" fill="#f0a080"/><rect x="548" y="179" width="4" height="3" fill="#f4a884"/><rect x="552" y="179" width="4" height="3" fill="#f0a07c"/><rect x="556" y="179" width="4" height="3" fill="#f4a480"/><rect x="393" y="182" width="4" height="4" fill="#fcdccc"/><rect x="397" y="182" width="4" height="4" fill="#fcd0b8"/><rect x="401" y="182" width="7" height="4" fill="#f4ac8c"/><rect x="408" y="182" width="4" height="4" fill="#fcccb4"/><rect x="412" y="182" width="4" height="4" fill="#fcd8c0"/><rect x="416" y="182" width="3" height="4" fill="#fcdcc8"/><rect x="419" y="182" width="4" height="4" fill="#fcc8b0"/><rect x="423" y="182" width="4" height="4" fill="#f4b090"/><rect x="427" y="182" width="3" height="4" fill="#f4a884"/><rect x="430" y="182" width="4" height="4" fill="#f4ac88"/><rect x="434" y="182" width="4" height="4" fill="#f4a080"/><rect x="438" y="182" width="3" height="4" fill="#f0a07c"/><rect x="441" y="182" width="4" height="4" fill="#f4a484"/><rect x="445" y="182" width="4" height="4" fill="#f0a080"/><rect x="449" y="182" width="15" height="4" fill="#f4a884"/><rect x="464" y="182" width="3" height="4" fill="#f4a480"/><rect x="467" y="182" width="4" height="4" fill="#f4a884"/><rect x="471" y="182" width="4" height="4" fill="#f4ac88"/><rect x="475" y="182" width="3" height="4" fill="#f4a080"/><rect x="478" y="182" width="8" height="4" fill="#f4a884"/><rect x="486" y="182" width="3" height="4" fill="#f4a888"/><rect x="489" y="182" width="4" height="4" fill="#f4ac88"/><rect x="493" y="182" width="4" height="4" fill="#f4a480"/><rect x="497" y="182" width="4" height="4" fill="#f4a484"/><rect x="501" y="182" width="3" height="4" fill="#f09c7c"/><rect x="504" y="182" width="4" height="4" fill="#f4ac88"/><rect x="508" y="182" width="4" height="4" fill="#f0a07c"/><rect x="512" y="182" width="3" height="4" fill="#f4ac88"/><rect x="515" y="182" width="4" height="4" fill="#f4a480"/><rect x="519" y="182" width="4" height="4" fill="#f4a484"/><rect x="523" y="182" width="3" height="4" fill="#f09c7c"/><rect x="526" y="182" width="4" height="4" fill="#f4a080"/><rect x="530" y="182" width="4" height="4" fill="#f4a480"/><rect x="534" y="182" width="3" height="4" fill="#f09c7c"/><rect x="537" y="182" width="4" height="4" fill="#f4a480"/><rect x="541" y="182" width="4" height="4" fill="#f09c7c"/><rect x="545" y="182" width="3" height="4" fill="#f0a07c"/><rect x="548" y="182" width="4" height="4" fill="#f4a884"/><rect x="552" y="182" width="4" height="4" fill="#f4a480"/><rect x="556" y="182" width="4" height="4" fill="#f4a888"/><rect x="393" y="186" width="4" height="4" fill="#fcdcc8"/><rect x="397" y="186" width="4" height="4" fill="#fcd0bc"/><rect x="401" y="186" width="4" height="4" fill="#f4ac8c"/><rect x="405" y="186" width="3" height="4" fill="#f8b090"/><rect x="408" y="186" width="4" height="4" fill="#fcd4c0"/><rect x="412" y="186" width="7" height="4" fill="#fcd4bc"/><rect x="419" y="186" width="4" height="4" fill="#fcccb4"/><rect x="423" y="186" width="4" height="4" fill="#f4b090"/><rect x="427" y="186" width="3" height="4" fill="#f0a080"/><rect x="430" y="186" width="4" height="4" fill="#f4a480"/><rect x="434" y="186" width="7" height="4" fill="#f4a888"/><rect x="441" y="186" width="4" height="4" fill="#f4a480"/><rect x="445" y="186" width="4" height="4" fill="#f09c7c"/><rect x="449" y="186" width="4" height="4" fill="#f4a480"/><rect x="453" y="186" width="3" height="4" fill="#f4a884"/><rect x="456" y="186" width="4" height="4" fill="#f4a080"/><rect x="460" y="186" width="4" height="4" fill="#f4a888"/><rect x="464" y="186" width="3" height="4" fill="#f4a480"/><rect x="467" y="186" width="4" height="4" fill="#f4a884"/><rect x="471" y="186" width="4" height="4" fill="#f4ac88"/><rect x="475" y="186" width="7" height="4" fill="#f4a480"/><rect x="482" y="186" width="4" height="4" fill="#f0a07c"/><rect x="486" y="186" width="3" height="4" fill="#f4a080"/><rect x="489" y="186" width="4" height="4" fill="#f4a884"/><rect x="493" y="186" width="4" height="4" fill="#f4a480"/><rect x="497" y="186" width="4" height="4" fill="#f4a888"/><rect x="501" y="186" width="11" height="4" fill="#f4a480"/><rect x="512" y="186" width="3" height="4" fill="#f4a888"/><rect x="515" y="186" width="8" height="4" fill="#f09c7c"/><rect x="523" y="186" width="3" height="4" fill="#f09c78"/><rect x="526" y="186" width="4" height="4" fill="#f4a484"/><rect x="530" y="186" width="7" height="4" fill="#f09c7c"/><rect x="537" y="186" width="4" height="4" fill="#f4a480"/><rect x="541" y="186" width="4" height="4" fill="#f4a888"/><rect x="545" y="186" width="3" height="4" fill="#f09c7c"/><rect x="548" y="186" width="4" height="4" fill="#f4a480"/><rect x="552" y="186" width="4" height="4" fill="#f4a884"/><rect x="556" y="186" width="4" height="4" fill="#f4a480"/><rect x="393" y="190" width="4" height="3" fill="#fcd8c0"/><rect x="397" y="190" width="4" height="3" fill="#fcd8c4"/><rect x="401" y="190" width="4" height="3" fill="#f4ac8c"/><rect x="405" y="190" width="3" height="3" fill="#f4ac88"/><rect x="408" y="190" width="4" height="3" fill="#fcc8b0"/><rect x="412" y="190" width="4" height="3" fill="#fcdcc8"/><rect x="416" y="190" width="3" height="3" fill="#fcd4c0"/><rect x="419" y="190" width="4" height="3" fill="#fcccb4"/><rect x="423" y="190" width="4" height="3" fill="#f4a888"/><rect x="427" y="190" width="3" height="3" fill="#f0a07c"/><rect x="430" y="190" width="11" height="3" fill="#f4a480"/><rect x="441" y="190" width="4" height="3" fill="#f4a888"/><rect x="445" y="190" width="4" height="3" fill="#f0a07c"/><rect x="449" y="190" width="4" height="3" fill="#f4a480"/><rect x="453" y="190" width="3" height="3" fill="#f4ac88"/><rect x="456" y="190" width="4" height="3" fill="#f0a07c"/><rect x="460" y="190" width="4" height="3" fill="#f4a080"/><rect x="464" y="190" width="3" height="3" fill="#f4a480"/><rect x="467" y="190" width="4" height="3" fill="#f4ac88"/><rect x="471" y="190" width="4" height="3" fill="#f4a080"/><rect x="475" y="190" width="3" height="3" fill="#f4a484"/><rect x="478" y="190" width="4" height="3" fill="#ec9474"/><rect x="482" y="190" width="7" height="3" fill="#f4a884"/><rect x="489" y="190" width="8" height="3" fill="#f4ac88"/><rect x="497" y="190" width="4" height="3" fill="#f4a884"/><rect x="501" y="190" width="3" height="3" fill="#f4a080"/><rect x="504" y="190" width="8" height="3" fill="#f4a884"/><rect x="512" y="190" width="7" height="3" fill="#f09c7c"/><rect x="519" y="190" width="4" height="3" fill="#ec9878"/><rect x="523" y="190" width="3" height="3" fill="#f4a080"/><rect x="526" y="190" width="4" height="3" fill="#f4a480"/><rect x="530" y="190" width="4" height="3" fill="#f09878"/><rect x="534" y="190" width="3" height="3" fill="#f4a888"/><rect x="537" y="190" width="4" height="3" fill="#f0a080"/><rect x="541" y="190" width="4" height="3" fill="#f09c7c"/><rect x="545" y="190" width="3" height="3" fill="#f4a080"/><rect x="548" y="190" width="4" height="3" fill="#f4a480"/><rect x="552" y="190" width="8" height="3" fill="#f4a884"/><rect x="393" y="193" width="4" height="4" fill="#fcd8c4"/><rect x="397" y="193" width="4" height="4" fill="#fcd0b8"/><rect x="401" y="193" width="4" height="4" fill="#f4ac8c"/><rect x="405" y="193" width="3" height="4" fill="#f4b08c"/><rect x="408" y="193" width="4" height="4" fill="#f8c4a8"/><rect x="412" y="193" width="4" height="4" fill="#f8c8b0"/><rect x="416" y="193" width="3" height="4" fill="#fcd0bc"/><rect x="419" y="193" width="4" height="4" fill="#f8c8b0"/><rect x="423" y="193" width="4" height="4" fill="#f4a484"/><rect x="427" y="193" width="3" height="4" fill="#f4a480"/><rect x="430" y="193" width="4" height="4" fill="#f4a884"/><rect x="434" y="193" width="4" height="4" fill="#f0a07c"/><rect x="438" y="193" width="7" height="4" fill="#f4a480"/><rect x="445" y="193" width="4" height="4" fill="#f4a080"/><rect x="449" y="193" width="4" height="4" fill="#f4a884"/><rect x="453" y="193" width="3" height="4" fill="#f4a080"/><rect x="456" y="193" width="4" height="4" fill="#f4a884"/><rect x="460" y="193" width="4" height="4" fill="#f4a480"/><rect x="464" y="193" width="3" height="4" fill="#f4a888"/><rect x="467" y="193" width="4" height="4" fill="#f0a080"/><rect x="471" y="193" width="4" height="4" fill="#f4a884"/><rect x="475" y="193" width="3" height="4" fill="#ec9070"/><rect x="478" y="193" width="4" height="4" fill="#d45c4c"/><rect x="482" y="193" width="4" height="4" fill="#ec9474"/><rect x="486" y="193" width="7" height="4" fill="#f0a07c"/><rect x="493" y="193" width="8" height="4" fill="#f4a480"/><rect x="501" y="193" width="3" height="4" fill="#f4a884"/><rect x="504" y="193" width="4" height="4" fill="#f0a07c"/><rect x="508" y="193" width="4" height="4" fill="#f4a080"/><rect x="512" y="193" width="3" height="4" fill="#f4a480"/><rect x="515" y="193" width="4" height="4" fill="#f0a07c"/><rect x="519" y="193" width="4" height="4" fill="#ec9878"/><rect x="523" y="193" width="3" height="4" fill="#f09c7c"/><rect x="526" y="193" width="4" height="4" fill="#f4a480"/><rect x="530" y="193" width="4" height="4" fill="#f4a484"/><rect x="534" y="193" width="3" height="4" fill="#f0a07c"/><rect x="537" y="193" width="8" height="4" fill="#f4a480"/><rect x="545" y="193" width="3" height="4" fill="#f4a484"/><rect x="548" y="193" width="4" height="4" fill="#f4ac88"/><rect x="552" y="193" width="4" height="4" fill="#f0a080"/><rect x="556" y="193" width="4" height="4" fill="#f4a884"/><rect x="393" y="197" width="8" height="4" fill="#f4ac8c"/><rect x="401" y="197" width="4" height="4" fill="#f4ac88"/><rect x="405" y="197" width="3" height="4" fill="#f0a07c"/><rect x="408" y="197" width="4" height="4" fill="#f4a480"/><rect x="412" y="197" width="4" height="4" fill="#f8b494"/><rect x="416" y="197" width="3" height="4" fill="#f8b094"/><rect x="419" y="197" width="4" height="4" fill="#f4ac8c"/><rect x="423" y="197" width="4" height="4" fill="#f0a07c"/><rect x="427" y="197" width="3" height="4" fill="#f4a484"/><rect x="430" y="197" width="4" height="4" fill="#f0a07c"/><rect x="434" y="197" width="4" height="4" fill="#f4a884"/><rect x="438" y="197" width="3" height="4" fill="#f4a484"/><rect x="441" y="197" width="4" height="4" fill="#f0a07c"/><rect x="445" y="197" width="4" height="4" fill="#f4a480"/><rect x="449" y="197" width="4" height="4" fill="#f4a884"/><rect x="453" y="197" width="3" height="4" fill="#f4a484"/><rect x="456" y="197" width="4" height="4" fill="#f4a480"/><rect x="460" y="197" width="4" height="4" fill="#f4a884"/><rect x="464" y="197" width="7" height="4" fill="#f4a888"/><rect x="471" y="197" width="4" height="4" fill="#f4a080"/><rect x="475" y="197" width="3" height="4" fill="#f09878"/><rect x="478" y="197" width="4" height="4" fill="#cc5044"/><rect x="482" y="197" width="4" height="4" fill="#f09878"/><rect x="486" y="197" width="7" height="4" fill="#f09c7c"/><rect x="493" y="197" width="4" height="4" fill="#f4a484"/><rect x="497" y="197" width="4" height="4" fill="#f4a888"/><rect x="501" y="197" width="3" height="4" fill="#f4a480"/><rect x="504" y="197" width="4" height="4" fill="#f09c7c"/><rect x="508" y="197" width="4" height="4" fill="#f0a080"/><rect x="512" y="197" width="3" height="4" fill="#f09878"/><rect x="515" y="197" width="4" height="4" fill="#ec9878"/><rect x="519" y="197" width="7" height="4" fill="#f09878"/><rect x="526" y="197" width="4" height="4" fill="#f0a07c"/><rect x="530" y="197" width="4" height="4" fill="#f4a484"/><rect x="534" y="197" width="3" height="4" fill="#f0a07c"/><rect x="537" y="197" width="4" height="4" fill="#f09c7c"/><rect x="541" y="197" width="4" height="4" fill="#f4a480"/><rect x="545" y="197" width="3" height="4" fill="#f4a888"/><rect x="548" y="197" width="12" height="4" fill="#f09c7c"/><rect x="393" y="201" width="8" height="3" fill="#f4a480"/><rect x="401" y="201" width="4" height="3" fill="#f4ac8c"/><rect x="405" y="201" width="3" height="3" fill="#f4a888"/><rect x="408" y="201" width="8" height="3" fill="#f4a480"/><rect x="416" y="201" width="7" height="3" fill="#f4a484"/><rect x="423" y="201" width="4" height="3" fill="#f4a480"/><rect x="427" y="201" width="3" height="3" fill="#f4a884"/><rect x="430" y="201" width="4" height="3" fill="#f4a888"/><rect x="434" y="201" width="4" height="3" fill="#f0a07c"/><rect x="438" y="201" width="3" height="3" fill="#f4a480"/><rect x="441" y="201" width="8" height="3" fill="#f4a884"/><rect x="449" y="201" width="7" height="3" fill="#f4a888"/><rect x="456" y="201" width="4" height="3" fill="#f4a480"/><rect x="460" y="201" width="7" height="3" fill="#f4a884"/><rect x="467" y="201" width="4" height="3" fill="#f0a07c"/><rect x="471" y="201" width="4" height="3" fill="#f4a888"/><rect x="475" y="201" width="3" height="3" fill="#e48468"/><rect x="478" y="201" width="4" height="3" fill="#cc4844"/><rect x="482" y="201" width="4" height="3" fill="#e48468"/><rect x="486" y="201" width="3" height="3" fill="#f09c7c"/><rect x="489" y="201" width="4" height="3" fill="#f4a080"/><rect x="493" y="201" width="4" height="3" fill="#f4ac88"/><rect x="497" y="201" width="4" height="3" fill="#f0a07c"/><rect x="501" y="201" width="7" height="3" fill="#ec9074"/><rect x="508" y="201" width="4" height="3" fill="#e88c70"/><rect x="512" y="201" width="3" height="3" fill="#e88c6c"/><rect x="515" y="201" width="4" height="3" fill="#ec9074"/><rect x="519" y="201" width="4" height="3" fill="#f4a480"/><rect x="523" y="201" width="3" height="3" fill="#f4a884"/><rect x="526" y="201" width="4" height="3" fill="#f4a888"/><rect x="530" y="201" width="4" height="3" fill="#f4a480"/><rect x="534" y="201" width="3" height="3" fill="#f09c7c"/><rect x="537" y="201" width="4" height="3" fill="#f4ac88"/><rect x="541" y="201" width="7" height="3" fill="#f4a480"/><rect x="548" y="201" width="4" height="3" fill="#f4a080"/><rect x="552" y="201" width="8" height="3" fill="#f4a884"/><rect x="393" y="204" width="4" height="4" fill="#f4ac8c"/><rect x="397" y="204" width="4" height="4" fill="#f8b89c"/><rect x="401" y="204" width="7" height="4" fill="#f8bca0"/><rect x="408" y="204" width="8" height="4" fill="#f8c4a8"/><rect x="416" y="204" width="3" height="4" fill="#f8c0a4"/><rect x="419" y="204" width="4" height="4" fill="#f4ac88"/><rect x="423" y="204" width="4" height="4" fill="#f4ac8c"/><rect x="427" y="204" width="3" height="4" fill="#f4a884"/><rect x="430" y="204" width="4" height="4" fill="#f4a484"/><rect x="434" y="204" width="4" height="4" fill="#f4a888"/><rect x="438" y="204" width="3" height="4" fill="#f4ac8c"/><rect x="441" y="204" width="4" height="4" fill="#f4a888"/><rect x="445" y="204" width="4" height="4" fill="#f4a480"/><rect x="449" y="204" width="4" height="4" fill="#f4a080"/><rect x="453" y="204" width="3" height="4" fill="#f4a888"/><rect x="456" y="204" width="4" height="4" fill="#f4a480"/><rect x="460" y="204" width="4" height="4" fill="#f0a07c"/><rect x="464" y="204" width="3" height="4" fill="#f4a080"/><rect x="467" y="204" width="4" height="4" fill="#f0a07c"/><rect x="471" y="204" width="4" height="4" fill="#ec9074"/><rect x="475" y="204" width="3" height="4" fill="#d45848"/><rect x="478" y="204" width="4" height="4" fill="#c84440"/><rect x="482" y="204" width="4" height="4" fill="#cc5044"/><rect x="486" y="204" width="3" height="4" fill="#f09c78"/><rect x="489" y="204" width="4" height="4" fill="#f4ac88"/><rect x="493" y="204" width="4" height="4" fill="#f4a480"/><rect x="497" y="204" width="4" height="4" fill="#f4a080"/><rect x="501" y="204" width="3" height="4" fill="#ec9474"/><rect x="504" y="204" width="4" height="4" fill="#e48468"/><rect x="508" y="204" width="4" height="4" fill="#e8886c"/><rect x="512" y="204" width="3" height="4" fill="#e48068"/><rect x="515" y="204" width="4" height="4" fill="#ec9074"/><rect x="519" y="204" width="4" height="4" fill="#f4a884"/><rect x="523" y="204" width="3" height="4" fill="#f0a07c"/><rect x="526" y="204" width="4" height="4" fill="#f4a884"/><rect x="530" y="204" width="4" height="4" fill="#f09c7c"/><rect x="534" y="204" width="3" height="4" fill="#f4a484"/><rect x="537" y="204" width="4" height="4" fill="#f4a080"/><rect x="541" y="204" width="4" height="4" fill="#f4a888"/><rect x="545" y="204" width="3" height="4" fill="#f4a884"/><rect x="548" y="204" width="4" height="4" fill="#f4a480"/><rect x="552" y="204" width="4" height="4" fill="#f09c7c"/><rect x="556" y="204" width="4" height="4" fill="#f0a07c"/><rect x="393" y="208" width="4" height="4" fill="#f4a480"/><rect x="397" y="208" width="4" height="4" fill="#f8bca0"/><rect x="401" y="208" width="4" height="4" fill="#f8c0a4"/><rect x="405" y="208" width="3" height="4" fill="#f8c8b0"/><rect x="408" y="208" width="4" height="4" fill="#fcccb0"/><rect x="412" y="208" width="4" height="4" fill="#f8c8b0"/><rect x="416" y="208" width="3" height="4" fill="#f8c0a4"/><rect x="419" y="208" width="11" height="4" fill="#f4b090"/><rect x="430" y="208" width="11" height="4" fill="#f4ac8c"/><rect x="441" y="208" width="8" height="4" fill="#f4a480"/><rect x="449" y="208" width="4" height="4" fill="#f0a07c"/><rect x="453" y="208" width="3" height="4" fill="#f4a884"/><rect x="456" y="208" width="4" height="4" fill="#f09c7c"/><rect x="460" y="208" width="4" height="4" fill="#f4a884"/><rect x="464" y="208" width="7" height="4" fill="#f4a484"/><rect x="471" y="208" width="4" height="4" fill="#ec9474"/><rect x="475" y="208" width="3" height="4" fill="#c84840"/><rect x="478" y="208" width="4" height="4" fill="#c43c3c"/><rect x="482" y="208" width="4" height="4" fill="#cc4c44"/><rect x="486" y="208" width="3" height="4" fill="#f09c7c"/><rect x="489" y="208" width="4" height="4" fill="#f4a884"/><rect x="493" y="208" width="4" height="4" fill="#f4ac88"/><rect x="497" y="208" width="4" height="4" fill="#f4a480"/><rect x="501" y="208" width="3" height="4" fill="#ec9474"/><rect x="504" y="208" width="4" height="4" fill="#e8886c"/><rect x="508" y="208" width="4" height="4" fill="#e88468"/><rect x="512" y="208" width="3" height="4" fill="#e8886c"/><rect x="515" y="208" width="4" height="4" fill="#e88c70"/><rect x="519" y="208" width="4" height="4" fill="#f4a480"/><rect x="523" y="208" width="7" height="4" fill="#f09c7c"/><rect x="530" y="208" width="4" height="4" fill="#f4a480"/><rect x="534" y="208" width="3" height="4" fill="#f0a07c"/><rect x="537" y="208" width="4" height="4" fill="#f4a884"/><rect x="541" y="208" width="4" height="4" fill="#f4a480"/><rect x="545" y="208" width="3" height="4" fill="#f4a884"/><rect x="548" y="208" width="4" height="4" fill="#f09c7c"/><rect x="552" y="208" width="4" height="4" fill="#f4a480"/><rect x="556" y="208" width="4" height="4" fill="#f0a07c"/><rect x="393" y="212" width="4" height="4" fill="#f4a884"/><rect x="397" y="212" width="8" height="4" fill="#f8c4a8"/><rect x="405" y="212" width="3" height="4" fill="#f8c0a4"/><rect x="408" y="212" width="4" height="4" fill="#f8bca0"/><rect x="412" y="212" width="7" height="4" fill="#f8c0a4"/><rect x="419" y="212" width="4" height="4" fill="#f4ac8c"/><rect x="423" y="212" width="4" height="4" fill="#f4a888"/><rect x="427" y="212" width="3" height="4" fill="#f4a480"/><rect x="430" y="212" width="4" height="4" fill="#f4a888"/><rect x="434" y="212" width="4" height="4" fill="#f4b090"/><rect x="438" y="212" width="3" height="4" fill="#f4a480"/><rect x="441" y="212" width="4" height="4" fill="#f4ac88"/><rect x="445" y="212" width="4" height="4" fill="#f4a884"/><rect x="449" y="212" width="4" height="4" fill="#f09c7c"/><rect x="453" y="212" width="7" height="4" fill="#f0a07c"/><rect x="460" y="212" width="7" height="4" fill="#f4a480"/><rect x="467" y="212" width="4" height="4" fill="#f0a080"/><rect x="471" y="212" width="4" height="4" fill="#e88c6c"/><rect x="475" y="212" width="3" height="4" fill="#cc4c44"/><rect x="478" y="212" width="4" height="4" fill="#c84440"/><rect x="482" y="212" width="4" height="4" fill="#d05044"/><rect x="486" y="212" width="3" height="4" fill="#f09c7c"/><rect x="489" y="212" width="4" height="4" fill="#f0a07c"/><rect x="493" y="212" width="4" height="4" fill="#f4a884"/><rect x="497" y="212" width="4" height="4" fill="#f4a484"/><rect x="501" y="212" width="3" height="4" fill="#e8886c"/><rect x="504" y="212" width="4" height="4" fill="#e88c6c"/><rect x="508" y="212" width="4" height="4" fill="#e48468"/><rect x="512" y="212" width="3" height="4" fill="#e8886c"/><rect x="515" y="212" width="4" height="4" fill="#e88c70"/><rect x="519" y="212" width="4" height="4" fill="#f4a080"/><rect x="523" y="212" width="3" height="4" fill="#f4a884"/><rect x="526" y="212" width="4" height="4" fill="#f4a484"/><rect x="530" y="212" width="4" height="4" fill="#f4a080"/><rect x="534" y="212" width="3" height="4" fill="#f4ac88"/><rect x="537" y="212" width="4" height="4" fill="#f4a888"/><rect x="541" y="212" width="7" height="4" fill="#f4a080"/><rect x="548" y="212" width="4" height="4" fill="#f4a480"/><rect x="552" y="212" width="4" height="4" fill="#f4a884"/><rect x="556" y="212" width="4" height="4" fill="#f4a888"/><rect x="393" y="216" width="4" height="3" fill="#f4a484"/><rect x="397" y="216" width="4" height="3" fill="#f4b090"/><rect x="401" y="216" width="7" height="3" fill="#f4ac88"/><rect x="408" y="216" width="8" height="3" fill="#f4ac8c"/><rect x="416" y="216" width="3" height="3" fill="#f4a888"/><rect x="419" y="216" width="4" height="3" fill="#f4ac88"/><rect x="423" y="216" width="11" height="3" fill="#f4ac8c"/><rect x="434" y="216" width="4" height="3" fill="#f4a884"/><rect x="438" y="216" width="7" height="3" fill="#f4a480"/><rect x="445" y="216" width="4" height="3" fill="#f4a884"/><rect x="449" y="216" width="4" height="3" fill="#ec9474"/><rect x="453" y="216" width="3" height="3" fill="#ec9070"/><rect x="456" y="216" width="4" height="3" fill="#ec9474"/><rect x="460" y="216" width="4" height="3" fill="#ec9074"/><rect x="464" y="216" width="3" height="3" fill="#f4a080"/><rect x="467" y="216" width="4" height="3" fill="#dc7058"/><rect x="471" y="216" width="4" height="3" fill="#dc6c54"/><rect x="475" y="216" width="3" height="3" fill="#c84440"/><rect x="478" y="216" width="4" height="3" fill="#c03838"/><rect x="482" y="216" width="4" height="3" fill="#cc4844"/><rect x="486" y="216" width="3" height="3" fill="#f09878"/><rect x="489" y="216" width="4" height="3" fill="#f0a07c"/><rect x="493" y="216" width="4" height="3" fill="#f4a480"/><rect x="497" y="216" width="4" height="3" fill="#f09878"/><rect x="501" y="216" width="3" height="3" fill="#e48468"/><rect x="504" y="216" width="4" height="3" fill="#e07c60"/><rect x="508" y="216" width="4" height="3" fill="#e47c64"/><rect x="512" y="216" width="3" height="3" fill="#ec9070"/><rect x="515" y="216" width="4" height="3" fill="#ec9474"/><rect x="519" y="216" width="4" height="3" fill="#f4a884"/><rect x="523" y="216" width="3" height="3" fill="#f4a888"/><rect x="526" y="216" width="4" height="3" fill="#f09c7c"/><rect x="530" y="216" width="4" height="3" fill="#f4a480"/><rect x="534" y="216" width="3" height="3" fill="#f4a080"/><rect x="537" y="216" width="4" height="3" fill="#f0a07c"/><rect x="541" y="216" width="4" height="3" fill="#f4a888"/><rect x="545" y="216" width="3" height="3" fill="#f4a080"/><rect x="548" y="216" width="4" height="3" fill="#f4a480"/><rect x="552" y="216" width="4" height="3" fill="#f4a884"/><rect x="556" y="216" width="4" height="3" fill="#f4a080"/><rect x="393" y="219" width="4" height="4" fill="#f4a080"/><rect x="397" y="219" width="4" height="4" fill="#f4a888"/><rect x="401" y="219" width="4" height="4" fill="#f4a884"/><rect x="405" y="219" width="3" height="4" fill="#f4a484"/><rect x="408" y="219" width="4" height="4" fill="#f4ac8c"/><rect x="412" y="219" width="4" height="4" fill="#f4a884"/><rect x="416" y="219" width="3" height="4" fill="#f4ac88"/><rect x="419" y="219" width="4" height="4" fill="#f4a484"/><rect x="423" y="219" width="7" height="4" fill="#f4a884"/><rect x="430" y="219" width="4" height="4" fill="#ec9474"/><rect x="434" y="219" width="4" height="4" fill="#f09878"/><rect x="438" y="219" width="3" height="4" fill="#f0a080"/><rect x="441" y="219" width="8" height="4" fill="#f4a480"/><rect x="449" y="219" width="4" height="4" fill="#e88c70"/><rect x="453" y="219" width="3" height="4" fill="#ec9478"/><rect x="456" y="219" width="4" height="4" fill="#e88c6c"/><rect x="460" y="219" width="4" height="4" fill="#e47c64"/><rect x="464" y="219" width="3" height="4" fill="#f09c7c"/><rect x="467" y="219" width="4" height="4" fill="#d86850"/><rect x="471" y="219" width="4" height="4" fill="#d4584c"/><rect x="475" y="219" width="3" height="4" fill="#c84440"/><rect x="478" y="219" width="4" height="4" fill="#c03438"/><rect x="482" y="219" width="4" height="4" fill="#d05048"/><rect x="486" y="219" width="3" height="4" fill="#ec9474"/><rect x="489" y="219" width="4" height="4" fill="#f4a884"/><rect x="493" y="219" width="4" height="4" fill="#f4a484"/><rect x="497" y="219" width="4" height="4" fill="#f4a080"/><rect x="501" y="219" width="3" height="4" fill="#e48064"/><rect x="504" y="219" width="4" height="4" fill="#e0745c"/><rect x="508" y="219" width="4" height="4" fill="#e48468"/><rect x="512" y="219" width="7" height="4" fill="#e8886c"/><rect x="519" y="219" width="4" height="4" fill="#f4a480"/><rect x="523" y="219" width="3" height="4" fill="#f4a884"/><rect x="526" y="219" width="4" height="4" fill="#f09c7c"/><rect x="530" y="219" width="4" height="4" fill="#f4ac88"/><rect x="534" y="219" width="3" height="4" fill="#f4a480"/><rect x="537" y="219" width="4" height="4" fill="#f4a080"/><rect x="541" y="219" width="4" height="4" fill="#f4a480"/><rect x="545" y="219" width="3" height="4" fill="#f4ac88"/><rect x="548" y="219" width="4" height="4" fill="#f09c7c"/><rect x="552" y="219" width="8" height="4" fill="#f4ac88"/><rect x="393" y="223" width="4" height="4" fill="#f4a484"/><rect x="397" y="223" width="4" height="4" fill="#f4b090"/><rect x="401" y="223" width="4" height="4" fill="#f4ac8c"/><rect x="405" y="223" width="3" height="4" fill="#f4a884"/><rect x="408" y="223" width="8" height="4" fill="#f4a888"/><rect x="416" y="223" width="3" height="4" fill="#f4a480"/><rect x="419" y="223" width="4" height="4" fill="#f4b090"/><rect x="423" y="223" width="4" height="4" fill="#f4a480"/><rect x="427" y="223" width="3" height="4" fill="#f4a884"/><rect x="430" y="223" width="4" height="4" fill="#ec9878"/><rect x="434" y="223" width="4" height="4" fill="#f0a07c"/><rect x="438" y="223" width="3" height="4" fill="#ec9474"/><rect x="441" y="223" width="8" height="4" fill="#f4a480"/><rect x="449" y="223" width="4" height="4" fill="#ec9074"/><rect x="453" y="223" width="3" height="4" fill="#ec9070"/><rect x="456" y="223" width="4" height="4" fill="#e48068"/><rect x="460" y="223" width="4" height="4" fill="#e0745c"/><rect x="464" y="223" width="3" height="4" fill="#ec9478"/><rect x="467" y="223" width="4" height="4" fill="#dc7058"/><rect x="471" y="223" width="4" height="4" fill="#d4604c"/><rect x="475" y="223" width="3" height="4" fill="#c84440"/><rect x="478" y="223" width="4" height="4" fill="#cc5044"/><rect x="482" y="223" width="4" height="4" fill="#d45848"/><rect x="486" y="223" width="3" height="4" fill="#f09c7c"/><rect x="489" y="223" width="4" height="4" fill="#f4a484"/><rect x="493" y="223" width="4" height="4" fill="#f09c7c"/><rect x="497" y="223" width="4" height="4" fill="#f4a080"/><rect x="501" y="223" width="3" height="4" fill="#e8886c"/><rect x="504" y="223" width="8" height="4" fill="#e07860"/><rect x="512" y="223" width="3" height="4" fill="#e88c6c"/><rect x="515" y="223" width="4" height="4" fill="#ec9474"/><rect x="519" y="223" width="4" height="4" fill="#f4a480"/><rect x="523" y="223" width="3" height="4" fill="#f0a080"/><rect x="526" y="223" width="4" height="4" fill="#f4a484"/><rect x="530" y="223" width="4" height="4" fill="#f4ac88"/><rect x="534" y="223" width="3" height="4" fill="#f4a080"/><rect x="537" y="223" width="4" height="4" fill="#f4a884"/><rect x="541" y="223" width="4" height="4" fill="#f4a480"/><rect x="545" y="223" width="3" height="4" fill="#f4a484"/><rect x="548" y="223" width="4" height="4" fill="#f4a888"/><rect x="552" y="223" width="8" height="4" fill="#f4a884"/><rect x="393" y="227" width="4" height="3" fill="#f4a484"/><rect x="397" y="227" width="4" height="3" fill="#f4b08c"/><rect x="401" y="227" width="4" height="3" fill="#f4a480"/><rect x="405" y="227" width="7" height="3" fill="#f4a884"/><rect x="412" y="227" width="4" height="3" fill="#f4ac8c"/><rect x="416" y="227" width="7" height="3" fill="#f4a480"/><rect x="423" y="227" width="4" height="3" fill="#f4b090"/><rect x="427" y="227" width="3" height="3" fill="#f4ac8c"/><rect x="430" y="227" width="4" height="3" fill="#f0a080"/><rect x="434" y="227" width="4" height="3" fill="#f09c7c"/><rect x="438" y="227" width="3" height="3" fill="#ec9474"/><rect x="441" y="227" width="4" height="3" fill="#f09c7c"/><rect x="445" y="227" width="4" height="3" fill="#f4a080"/><rect x="449" y="227" width="4" height="3" fill="#ec9074"/><rect x="453" y="227" width="3" height="3" fill="#e07860"/><rect x="456" y="227" width="4" height="3" fill="#dc705c"/><rect x="460" y="227" width="4" height="3" fill="#e07c60"/><rect x="464" y="227" width="3" height="3" fill="#ec9878"/><rect x="467" y="227" width="4" height="3" fill="#e0745c"/><rect x="471" y="227" width="4" height="3" fill="#dc7058"/><rect x="475" y="227" width="3" height="3" fill="#ec9074"/><rect x="478" y="227" width="4" height="3" fill="#f09c7c"/><rect x="482" y="227" width="4" height="3" fill="#ec9074"/><rect x="486" y="227" width="3" height="3" fill="#f4a480"/><rect x="489" y="227" width="4" height="3" fill="#f4a080"/><rect x="493" y="227" width="4" height="3" fill="#f4a484"/><rect x="497" y="227" width="4" height="3" fill="#f09c7c"/><rect x="501" y="227" width="3" height="3" fill="#e88c6c"/><rect x="504" y="227" width="4" height="3" fill="#e47c64"/><rect x="508" y="227" width="4" height="3" fill="#e07c64"/><rect x="512" y="227" width="7" height="3" fill="#ec9074"/><rect x="519" y="227" width="4" height="3" fill="#f4a888"/><rect x="523" y="227" width="3" height="3" fill="#f4a080"/><rect x="526" y="227" width="4" height="3" fill="#f4a480"/><rect x="530" y="227" width="4" height="3" fill="#f4ac88"/><rect x="534" y="227" width="3" height="3" fill="#f0a07c"/><rect x="537" y="227" width="4" height="3" fill="#f09c7c"/><rect x="541" y="227" width="4" height="3" fill="#f4a884"/><rect x="545" y="227" width="3" height="3" fill="#f4a080"/><rect x="548" y="227" width="4" height="3" fill="#f4ac88"/><rect x="552" y="227" width="4" height="3" fill="#f4a480"/><rect x="556" y="227" width="4" height="3" fill="#f4a884"/><rect x="393" y="230" width="8" height="4" fill="#f4ac8c"/><rect x="401" y="230" width="4" height="4" fill="#f4a888"/><rect x="405" y="230" width="3" height="4" fill="#f4b090"/><rect x="408" y="230" width="4" height="4" fill="#f4a484"/><rect x="412" y="230" width="4" height="4" fill="#f4ac8c"/><rect x="416" y="230" width="3" height="4" fill="#f4ac88"/><rect x="419" y="230" width="8" height="4" fill="#f4a480"/><rect x="427" y="230" width="3" height="4" fill="#f4a484"/><rect x="430" y="230" width="4" height="4" fill="#ec9878"/><rect x="434" y="230" width="4" height="4" fill="#ec9074"/><rect x="438" y="230" width="3" height="4" fill="#ec9878"/><rect x="441" y="230" width="4" height="4" fill="#f4a080"/><rect x="445" y="230" width="4" height="4" fill="#f09c7c"/><rect x="449" y="230" width="4" height="4" fill="#ec9478"/><rect x="453" y="230" width="3" height="4" fill="#dc7058"/><rect x="456" y="230" width="4" height="4" fill="#e07860"/><rect x="460" y="230" width="4" height="4" fill="#e48064"/><rect x="464" y="230" width="14" height="4" fill="#f09c7c"/><rect x="478" y="230" width="4" height="4" fill="#f4ac8c"/><rect x="482" y="230" width="7" height="4" fill="#f4a888"/><rect x="489" y="230" width="4" height="4" fill="#f4a480"/><rect x="493" y="230" width="4" height="4" fill="#f4a884"/><rect x="497" y="230" width="7" height="4" fill="#f4a080"/><rect x="504" y="230" width="4" height="4" fill="#f4a884"/><rect x="508" y="230" width="4" height="4" fill="#f09c7c"/><rect x="512" y="230" width="3" height="4" fill="#f4a080"/><rect x="515" y="230" width="4" height="4" fill="#f4a480"/><rect x="519" y="230" width="4" height="4" fill="#f4a884"/><rect x="523" y="230" width="3" height="4" fill="#f0a07c"/><rect x="526" y="230" width="4" height="4" fill="#f4a480"/><rect x="530" y="230" width="4" height="4" fill="#f4ac88"/><rect x="534" y="230" width="3" height="4" fill="#f4a884"/><rect x="537" y="230" width="4" height="4" fill="#f09c7c"/><rect x="541" y="230" width="7" height="4" fill="#f4a888"/><rect x="548" y="230" width="12" height="4" fill="#f4ac88"/><rect x="393" y="234" width="4" height="4" fill="#f4a884"/><rect x="397" y="234" width="8" height="4" fill="#f4a480"/><rect x="405" y="234" width="3" height="4" fill="#f4a484"/><rect x="408" y="234" width="4" height="4" fill="#f4ac8c"/><rect x="412" y="234" width="4" height="4" fill="#f4a884"/><rect x="416" y="234" width="3" height="4" fill="#f4b090"/><rect x="419" y="234" width="4" height="4" fill="#f4a884"/><rect x="423" y="234" width="4" height="4" fill="#f4ac8c"/><rect x="427" y="234" width="3" height="4" fill="#f4a884"/><rect x="430" y="234" width="4" height="4" fill="#f09c7c"/><rect x="434" y="234" width="7" height="4" fill="#f09878"/><rect x="441" y="234" width="4" height="4" fill="#f4a080"/><rect x="445" y="234" width="4" height="4" fill="#f4a484"/><rect x="449" y="234" width="4" height="4" fill="#f09878"/><rect x="453" y="234" width="3" height="4" fill="#e47c64"/><rect x="456" y="234" width="4" height="4" fill="#e0745c"/><rect x="460" y="234" width="4" height="4" fill="#e47c64"/><rect x="464" y="234" width="3" height="4" fill="#ec9878"/><rect x="467" y="234" width="4" height="4" fill="#f4a484"/><rect x="471" y="234" width="7" height="4" fill="#f4a884"/><rect x="478" y="234" width="4" height="4" fill="#f09c7c"/><rect x="482" y="234" width="4" height="4" fill="#f4a884"/><rect x="486" y="234" width="7" height="4" fill="#f4a480"/><rect x="493" y="234" width="4" height="4" fill="#f09c7c"/><rect x="497" y="234" width="4" height="4" fill="#f4ac88"/><rect x="501" y="234" width="3" height="4" fill="#f09c7c"/><rect x="504" y="234" width="4" height="4" fill="#f4a884"/><rect x="508" y="234" width="4" height="4" fill="#f0a080"/><rect x="512" y="234" width="3" height="4" fill="#f4a888"/><rect x="515" y="234" width="4" height="4" fill="#f4a080"/><rect x="519" y="234" width="4" height="4" fill="#f4a884"/><rect x="523" y="234" width="11" height="4" fill="#f4a888"/><rect x="534" y="234" width="3" height="4" fill="#f0a07c"/><rect x="537" y="234" width="4" height="4" fill="#f4a484"/><rect x="541" y="234" width="4" height="4" fill="#f4a884"/><rect x="545" y="234" width="3" height="4" fill="#f0a080"/><rect x="548" y="234" width="8" height="4" fill="#f4a480"/><rect x="556" y="234" width="4" height="4" fill="#f4a884"/><rect x="393" y="238" width="4" height="3" fill="#f4a888"/><rect x="397" y="238" width="8" height="3" fill="#f4ac8c"/><rect x="405" y="238" width="3" height="3" fill="#f4ac88"/><rect x="408" y="238" width="4" height="3" fill="#f4a884"/><rect x="412" y="238" width="7" height="3" fill="#f4ac88"/><rect x="419" y="238" width="4" height="3" fill="#f4ac8c"/><rect x="423" y="238" width="4" height="3" fill="#f4ac88"/><rect x="427" y="238" width="3" height="3" fill="#f4a884"/><rect x="430" y="238" width="4" height="3" fill="#f4a080"/><rect x="434" y="238" width="7" height="3" fill="#ec9474"/><rect x="441" y="238" width="4" height="3" fill="#f4a480"/><rect x="445" y="238" width="4" height="3" fill="#f4a884"/><rect x="449" y="238" width="4" height="3" fill="#f09c78"/><rect x="453" y="238" width="3" height="3" fill="#f4a480"/><rect x="456" y="238" width="4" height="3" fill="#f09c7c"/><rect x="460" y="238" width="4" height="3" fill="#e48064"/><rect x="464" y="238" width="3" height="3" fill="#f09878"/><rect x="467" y="238" width="4" height="3" fill="#f4a884"/><rect x="471" y="238" width="4" height="3" fill="#f4ac88"/><rect x="475" y="238" width="3" height="3" fill="#f4a480"/><rect x="478" y="238" width="4" height="3" fill="#f4a884"/><rect x="482" y="238" width="4" height="3" fill="#f0a07c"/><rect x="486" y="238" width="3" height="3" fill="#f4ac88"/><rect x="489" y="238" width="4" height="3" fill="#f4a480"/><rect x="493" y="238" width="4" height="3" fill="#f4a888"/><rect x="497" y="238" width="7" height="3" fill="#f09c7c"/><rect x="504" y="238" width="4" height="3" fill="#f4a480"/><rect x="508" y="238" width="4" height="3" fill="#f4a080"/><rect x="512" y="238" width="7" height="3" fill="#f0a07c"/><rect x="519" y="238" width="4" height="3" fill="#f4a888"/><rect x="523" y="238" width="3" height="3" fill="#f4a884"/><rect x="526" y="238" width="4" height="3" fill="#f0a080"/><rect x="530" y="238" width="4" height="3" fill="#f4a884"/><rect x="534" y="238" width="3" height="3" fill="#f4a484"/><rect x="537" y="238" width="4" height="3" fill="#f09c7c"/><rect x="541" y="238" width="4" height="3" fill="#f4a484"/><rect x="545" y="238" width="3" height="3" fill="#f4a480"/><rect x="548" y="238" width="8" height="3" fill="#f4a888"/><rect x="556" y="238" width="4" height="3" fill="#f0a07c"/><rect x="393" y="241" width="4" height="4" fill="#f4a080"/><rect x="397" y="241" width="4" height="4" fill="#f4ac88"/><rect x="401" y="241" width="7" height="4" fill="#f0a07c"/><rect x="408" y="241" width="4" height="4" fill="#f4a884"/><rect x="412" y="241" width="4" height="4" fill="#f0a07c"/><rect x="416" y="241" width="3" height="4" fill="#f4a888"/><rect x="419" y="241" width="4" height="4" fill="#f4a484"/><rect x="423" y="241" width="4" height="4" fill="#f09c7c"/><rect x="427" y="241" width="7" height="4" fill="#f0a080"/><rect x="434" y="241" width="4" height="4" fill="#f4a080"/><rect x="438" y="241" width="3" height="4" fill="#f4a480"/><rect x="441" y="241" width="4" height="4" fill="#f4a484"/><rect x="445" y="241" width="4" height="4" fill="#f4a080"/><rect x="449" y="241" width="4" height="4" fill="#f0a080"/><rect x="453" y="241" width="3" height="4" fill="#f4a884"/><rect x="456" y="241" width="4" height="4" fill="#f0a07c"/><rect x="460" y="241" width="4" height="4" fill="#f4a484"/><rect x="464" y="241" width="3" height="4" fill="#f4a888"/><rect x="467" y="241" width="4" height="4" fill="#f0a07c"/><rect x="471" y="241" width="4" height="4" fill="#f4a884"/><rect x="475" y="241" width="3" height="4" fill="#f4a888"/><rect x="478" y="241" width="4" height="4" fill="#f4a884"/><rect x="482" y="241" width="7" height="4" fill="#f4a888"/><rect x="489" y="241" width="4" height="4" fill="#f09c7c"/><rect x="493" y="241" width="4" height="4" fill="#f4ac88"/><rect x="497" y="241" width="4" height="4" fill="#f4a080"/><rect x="501" y="241" width="3" height="4" fill="#f4a484"/><rect x="504" y="241" width="4" height="4" fill="#f4a888"/><rect x="508" y="241" width="4" height="4" fill="#f0a07c"/><rect x="512" y="241" width="3" height="4" fill="#f4a480"/><rect x="515" y="241" width="4" height="4" fill="#f4ac88"/><rect x="519" y="241" width="4" height="4" fill="#f4a884"/><rect x="523" y="241" width="3" height="4" fill="#f4a480"/><rect x="526" y="241" width="4" height="4" fill="#f4a484"/><rect x="530" y="241" width="11" height="4" fill="#f4a884"/><rect x="541" y="241" width="4" height="4" fill="#f4a484"/><rect x="545" y="241" width="3" height="4" fill="#f09c7c"/><rect x="548" y="241" width="4" height="4" fill="#f0a07c"/><rect x="552" y="241" width="4" height="4" fill="#f4a480"/><rect x="556" y="241" width="4" height="4" fill="#f0a07c"/><rect x="393" y="245" width="4" height="4" fill="#f4a888"/><rect x="397" y="245" width="4" height="4" fill="#f4a480"/><rect x="401" y="245" width="4" height="4" fill="#f0a080"/><rect x="405" y="245" width="3" height="4" fill="#f4a884"/><rect x="408" y="245" width="8" height="4" fill="#f4a480"/><rect x="416" y="245" width="3" height="4" fill="#f4a884"/><rect x="419" y="245" width="4" height="4" fill="#e48468"/><rect x="423" y="245" width="4" height="4" fill="#e8886c"/><rect x="427" y="245" width="3" height="4" fill="#e88468"/><rect x="430" y="245" width="4" height="4" fill="#e88c70"/><rect x="434" y="245" width="7" height="4" fill="#e48468"/><rect x="441" y="245" width="4" height="4" fill="#e47c64"/><rect x="445" y="245" width="4" height="4" fill="#e88c6c"/><rect x="449" y="245" width="4" height="4" fill="#e47c64"/><rect x="453" y="245" width="3" height="4" fill="#e88c70"/><rect x="456" y="245" width="4" height="4" fill="#f09c78"/><rect x="460" y="245" width="4" height="4" fill="#f4a080"/><rect x="464" y="245" width="3" height="4" fill="#f4a480"/><rect x="467" y="245" width="4" height="4" fill="#f4a884"/><rect x="471" y="245" width="4" height="4" fill="#f4a484"/><rect x="475" y="245" width="3" height="4" fill="#f4a480"/><rect x="478" y="245" width="4" height="4" fill="#f4a884"/><rect x="482" y="245" width="4" height="4" fill="#f4ac88"/><rect x="486" y="245" width="7" height="4" fill="#f4a080"/><rect x="493" y="245" width="4" height="4" fill="#f4a884"/><rect x="497" y="245" width="4" height="4" fill="#f4a888"/><rect x="501" y="245" width="3" height="4" fill="#f0a07c"/><rect x="504" y="245" width="4" height="4" fill="#f4a884"/><rect x="508" y="245" width="4" height="4" fill="#f4ac88"/><rect x="512" y="245" width="3" height="4" fill="#f0a07c"/><rect x="515" y="245" width="4" height="4" fill="#f4a888"/><rect x="519" y="245" width="4" height="4" fill="#f4a884"/><rect x="523" y="245" width="3" height="4" fill="#f4a480"/><rect x="526" y="245" width="4" height="4" fill="#f4a484"/><rect x="530" y="245" width="7" height="4" fill="#f4a888"/><rect x="537" y="245" width="4" height="4" fill="#f4a480"/><rect x="541" y="245" width="4" height="4" fill="#f4a888"/><rect x="545" y="245" width="3" height="4" fill="#f0a07c"/><rect x="548" y="245" width="4" height="4" fill="#f4a884"/><rect x="552" y="245" width="8" height="4" fill="#f4a888"/><rect x="393" y="249" width="4" height="3" fill="#f4a888"/><rect x="397" y="249" width="4" height="3" fill="#f0a07c"/><rect x="401" y="249" width="4" height="3" fill="#f4a484"/><rect x="405" y="249" width="3" height="3" fill="#f4a080"/><rect x="408" y="249" width="4" height="3" fill="#f0a07c"/><rect x="412" y="249" width="4" height="3" fill="#f4ac88"/><rect x="416" y="249" width="3" height="3" fill="#f0a07c"/><rect x="419" y="249" width="4" height="3" fill="#e48468"/><rect x="423" y="249" width="4" height="3" fill="#e8886c"/><rect x="427" y="249" width="3" height="3" fill="#e07860"/><rect x="430" y="249" width="4" height="3" fill="#dc6c58"/><rect x="434" y="249" width="4" height="3" fill="#dc6c54"/><rect x="438" y="249" width="3" height="3" fill="#d86450"/><rect x="441" y="249" width="4" height="3" fill="#dc7058"/><rect x="445" y="249" width="4" height="3" fill="#d86450"/><rect x="449" y="249" width="7" height="3" fill="#d86854"/><rect x="456" y="249" width="4" height="3" fill="#ec9474"/><rect x="460" y="249" width="4" height="3" fill="#ec9878"/><rect x="464" y="249" width="3" height="3" fill="#f09c78"/><rect x="467" y="249" width="8" height="3" fill="#f09c7c"/><rect x="475" y="249" width="3" height="3" fill="#f4a888"/><rect x="478" y="249" width="4" height="3" fill="#f4ac88"/><rect x="482" y="249" width="4" height="3" fill="#f4a480"/><rect x="486" y="249" width="7" height="3" fill="#f09c7c"/><rect x="493" y="249" width="4" height="3" fill="#f0a07c"/><rect x="497" y="249" width="4" height="3" fill="#f4a080"/><rect x="501" y="249" width="3" height="3" fill="#f4a480"/><rect x="504" y="249" width="4" height="3" fill="#f4ac8c"/><rect x="508" y="249" width="4" height="3" fill="#f09c7c"/><rect x="512" y="249" width="3" height="3" fill="#f4a480"/><rect x="515" y="249" width="4" height="3" fill="#f4a484"/><rect x="519" y="249" width="4" height="3" fill="#f4ac88"/><rect x="523" y="249" width="3" height="3" fill="#f4a888"/><rect x="526" y="249" width="4" height="3" fill="#f4a884"/><rect x="530" y="249" width="4" height="3" fill="#f09c7c"/><rect x="534" y="249" width="3" height="3" fill="#f4a480"/><rect x="537" y="249" width="4" height="3" fill="#f4a080"/><rect x="541" y="249" width="4" height="3" fill="#f4a884"/><rect x="545" y="249" width="3" height="3" fill="#f4a080"/><rect x="548" y="249" width="4" height="3" fill="#f4a888"/><rect x="552" y="249" width="4" height="3" fill="#f4a884"/><rect x="556" y="249" width="4" height="3" fill="#f4a480"/><rect x="393" y="252" width="4" height="4" fill="#f4a888"/><rect x="397" y="252" width="4" height="4" fill="#f0a07c"/><rect x="401" y="252" width="4" height="4" fill="#f4a884"/><rect x="405" y="252" width="3" height="4" fill="#f4a080"/><rect x="408" y="252" width="4" height="4" fill="#f09c78"/><rect x="412" y="252" width="4" height="4" fill="#f4a884"/><rect x="416" y="252" width="3" height="4" fill="#f0a07c"/><rect x="419" y="252" width="11" height="4" fill="#e48468"/><rect x="430" y="252" width="4" height="4" fill="#dc6c54"/><rect x="434" y="252" width="4" height="4" fill="#d86050"/><rect x="438" y="252" width="3" height="4" fill="#d86854"/><rect x="441" y="252" width="8" height="4" fill="#d86450"/><rect x="449" y="252" width="4" height="4" fill="#c4383c"/><rect x="453" y="252" width="3" height="4" fill="#bc2834"/><rect x="456" y="252" width="4" height="4" fill="#c4403c"/><rect x="460" y="252" width="4" height="4" fill="#c03038"/><rect x="464" y="252" width="3" height="4" fill="#cc4c44"/><rect x="467" y="252" width="4" height="4" fill="#e48068"/><rect x="471" y="252" width="4" height="4" fill="#f4a480"/><rect x="475" y="252" width="3" height="4" fill="#f4a080"/><rect x="478" y="252" width="8" height="4" fill="#f4a888"/><rect x="486" y="252" width="3" height="4" fill="#f4ac88"/><rect x="489" y="252" width="4" height="4" fill="#f4ac8c"/><rect x="493" y="252" width="4" height="4" fill="#f4a884"/><rect x="497" y="252" width="4" height="4" fill="#f4ac88"/><rect x="501" y="252" width="3" height="4" fill="#f4a884"/><rect x="504" y="252" width="4" height="4" fill="#f0a07c"/><rect x="508" y="252" width="4" height="4" fill="#f4a080"/><rect x="512" y="252" width="3" height="4" fill="#f4a884"/><rect x="515" y="252" width="8" height="4" fill="#f4ac88"/><rect x="523" y="252" width="3" height="4" fill="#f09c7c"/><rect x="526" y="252" width="4" height="4" fill="#f4a484"/><rect x="530" y="252" width="4" height="4" fill="#f4a480"/><rect x="534" y="252" width="3" height="4" fill="#f4a080"/><rect x="537" y="252" width="4" height="4" fill="#f4a480"/><rect x="541" y="252" width="4" height="4" fill="#f4a080"/><rect x="545" y="252" width="3" height="4" fill="#f4a480"/><rect x="548" y="252" width="8" height="4" fill="#f4a484"/><rect x="556" y="252" width="4" height="4" fill="#f0a07c"/><rect x="393" y="256" width="4" height="4" fill="#f09c7c"/><rect x="397" y="256" width="8" height="4" fill="#f4a884"/><rect x="405" y="256" width="3" height="4" fill="#e8886c"/><rect x="408" y="256" width="4" height="4" fill="#ec9474"/><rect x="412" y="256" width="4" height="4" fill="#f0a07c"/><rect x="416" y="256" width="3" height="4" fill="#f4a484"/><rect x="419" y="256" width="4" height="4" fill="#e8886c"/><rect x="423" y="256" width="7" height="4" fill="#e88c6c"/><rect x="430" y="256" width="4" height="4" fill="#e0745c"/><rect x="434" y="256" width="4" height="4" fill="#dc6c54"/><rect x="438" y="256" width="7" height="4" fill="#d86854"/><rect x="445" y="256" width="4" height="4" fill="#d4604c"/><rect x="449" y="256" width="4" height="4" fill="#bc3038"/><rect x="453" y="256" width="3" height="4" fill="#bc2c34"/><rect x="456" y="256" width="4" height="4" fill="#b82430"/><rect x="460" y="256" width="4" height="4" fill="#b82030"/><rect x="464" y="256" width="3" height="4" fill="#b82834"/><rect x="467" y="256" width="4" height="4" fill="#c03438"/><rect x="471" y="256" width="4" height="4" fill="#f09878"/><rect x="475" y="256" width="3" height="4" fill="#f4ac88"/><rect x="478" y="256" width="4" height="4" fill="#f4a888"/><rect x="482" y="256" width="4" height="4" fill="#f4a484"/><rect x="486" y="256" width="3" height="4" fill="#f4ac88"/><rect x="489" y="256" width="4" height="4" fill="#f4a884"/><rect x="493" y="256" width="4" height="4" fill="#f4a484"/><rect x="497" y="256" width="4" height="4" fill="#f4a480"/><rect x="501" y="256" width="3" height="4" fill="#f4a080"/><rect x="504" y="256" width="4" height="4" fill="#f4a480"/><rect x="508" y="256" width="7" height="4" fill="#f4a884"/><rect x="515" y="256" width="4" height="4" fill="#f4a484"/><rect x="519" y="256" width="4" height="4" fill="#f4a480"/><rect x="523" y="256" width="7" height="4" fill="#f4a884"/><rect x="530" y="256" width="4" height="4" fill="#f0a07c"/><rect x="534" y="256" width="3" height="4" fill="#f4a480"/><rect x="537" y="256" width="4" height="4" fill="#f09c7c"/><rect x="541" y="256" width="4" height="4" fill="#f4a888"/><rect x="545" y="256" width="3" height="4" fill="#f4a480"/><rect x="548" y="256" width="4" height="4" fill="#f4a484"/><rect x="552" y="256" width="4" height="4" fill="#f4a884"/><rect x="556" y="256" width="4" height="4" fill="#f4ac88"/><rect x="393" y="260" width="4" height="4" fill="#f0a07c"/><rect x="397" y="260" width="4" height="4" fill="#f4ac8c"/><rect x="401" y="260" width="4" height="4" fill="#f09c7c"/><rect x="405" y="260" width="3" height="4" fill="#ec9474"/><rect x="408" y="260" width="4" height="4" fill="#e88c6c"/><rect x="412" y="260" width="4" height="4" fill="#f4a888"/><rect x="416" y="260" width="3" height="4" fill="#f4ac88"/><rect x="419" y="260" width="4" height="4" fill="#f4a480"/><rect x="423" y="260" width="4" height="4" fill="#f0a07c"/><rect x="427" y="260" width="3" height="4" fill="#ec9878"/><rect x="430" y="260" width="4" height="4" fill="#e07860"/><rect x="434" y="260" width="4" height="4" fill="#dc6c58"/><rect x="438" y="260" width="3" height="4" fill="#dc705c"/><rect x="441" y="260" width="4" height="4" fill="#e0745c"/><rect x="445" y="260" width="4" height="4" fill="#dc7058"/><rect x="449" y="260" width="4" height="4" fill="#c84040"/><rect x="453" y="260" width="3" height="4" fill="#b82030"/><rect x="456" y="260" width="4" height="4" fill="#bc2834"/><rect x="460" y="260" width="4" height="4" fill="#b82830"/><rect x="464" y="260" width="3" height="4" fill="#c4383c"/><rect x="467" y="260" width="4" height="4" fill="#bc2c34"/><rect x="471" y="260" width="4" height="4" fill="#e88c70"/><rect x="475" y="260" width="7" height="4" fill="#f4a888"/><rect x="482" y="260" width="4" height="4" fill="#f0a07c"/><rect x="486" y="260" width="3" height="4" fill="#f4a884"/><rect x="489" y="260" width="4" height="4" fill="#f4ac88"/><rect x="493" y="260" width="4" height="4" fill="#f4a480"/><rect x="497" y="260" width="4" height="4" fill="#f4a888"/><rect x="501" y="260" width="3" height="4" fill="#f4ac88"/><rect x="504" y="260" width="4" height="4" fill="#f4a080"/><rect x="508" y="260" width="4" height="4" fill="#ec9474"/><rect x="512" y="260" width="3" height="4" fill="#f0a080"/><rect x="515" y="260" width="4" height="4" fill="#f09c7c"/><rect x="519" y="260" width="4" height="4" fill="#f4a480"/><rect x="523" y="260" width="3" height="4" fill="#f0a07c"/><rect x="526" y="260" width="8" height="4" fill="#f4a884"/><rect x="534" y="260" width="3" height="4" fill="#f4a480"/><rect x="537" y="260" width="4" height="4" fill="#f4a888"/><rect x="541" y="260" width="4" height="4" fill="#f4a884"/><rect x="545" y="260" width="3" height="4" fill="#f4a888"/><rect x="548" y="260" width="4" height="4" fill="#f0a07c"/><rect x="552" y="260" width="4" height="4" fill="#f4a484"/><rect x="556" y="260" width="4" height="4" fill="#f4a888"/><rect x="393" y="264" width="4" height="3" fill="#f0a07c"/><rect x="397" y="264" width="4" height="3" fill="#f4a888"/><rect x="401" y="264" width="4" height="3" fill="#f4ac88"/><rect x="405" y="264" width="3" height="3" fill="#f4a080"/><rect x="408" y="264" width="4" height="3" fill="#f0a07c"/><rect x="412" y="264" width="7" height="3" fill="#f4a480"/><rect x="419" y="264" width="4" height="3" fill="#f4a884"/><rect x="423" y="264" width="4" height="3" fill="#f0a07c"/><rect x="427" y="264" width="3" height="3" fill="#f4a080"/><rect x="430" y="264" width="4" height="3" fill="#f4a480"/><rect x="434" y="264" width="4" height="3" fill="#ec9478"/><rect x="438" y="264" width="3" height="3" fill="#f4a480"/><rect x="441" y="264" width="4" height="3" fill="#f09878"/><rect x="445" y="264" width="4" height="3" fill="#ec9474"/><rect x="449" y="264" width="4" height="3" fill="#e07c64"/><rect x="453" y="264" width="3" height="3" fill="#bc2c34"/><rect x="456" y="264" width="4" height="3" fill="#b42030"/><rect x="460" y="264" width="4" height="3" fill="#b82834"/><rect x="464" y="264" width="3" height="3" fill="#e07c60"/><rect x="467" y="264" width="4" height="3" fill="#e8886c"/><rect x="471" y="264" width="4" height="3" fill="#f0a07c"/><rect x="475" y="264" width="3" height="3" fill="#f4a080"/><rect x="478" y="264" width="4" height="3" fill="#f4a480"/><rect x="482" y="264" width="4" height="3" fill="#f0a07c"/><rect x="486" y="264" width="3" height="3" fill="#f4a888"/><rect x="489" y="264" width="4" height="3" fill="#f0a07c"/><rect x="493" y="264" width="4" height="3" fill="#f4ac88"/><rect x="497" y="264" width="4" height="3" fill="#f4a884"/><rect x="501" y="264" width="3" height="3" fill="#f0a07c"/><rect x="504" y="264" width="4" height="3" fill="#f4a480"/><rect x="508" y="264" width="4" height="3" fill="#e88c6c"/><rect x="512" y="264" width="3" height="3" fill="#dc6c58"/><rect x="515" y="264" width="4" height="3" fill="#ec9878"/><rect x="519" y="264" width="4" height="3" fill="#f4a888"/><rect x="523" y="264" width="7" height="3" fill="#f4a484"/><rect x="530" y="264" width="4" height="3" fill="#f4a884"/><rect x="534" y="264" width="3" height="3" fill="#f4a484"/><rect x="537" y="264" width="4" height="3" fill="#f4a480"/><rect x="541" y="264" width="4" height="3" fill="#f09c7c"/><rect x="545" y="264" width="3" height="3" fill="#f4a480"/><rect x="548" y="264" width="4" height="3" fill="#f4ac88"/><rect x="552" y="264" width="8" height="3" fill="#f4a884"/><rect x="393" y="267" width="4" height="4" fill="#f4a888"/><rect x="397" y="267" width="4" height="4" fill="#f4a484"/><rect x="401" y="267" width="4" height="4" fill="#f4a884"/><rect x="405" y="267" width="3" height="4" fill="#f0a080"/><rect x="408" y="267" width="4" height="4" fill="#f4a484"/><rect x="412" y="267" width="4" height="4" fill="#f0a07c"/><rect x="416" y="267" width="3" height="4" fill="#f4a884"/><rect x="419" y="267" width="4" height="4" fill="#f09c7c"/><rect x="423" y="267" width="4" height="4" fill="#f4a888"/><rect x="427" y="267" width="3" height="4" fill="#f4a480"/><rect x="430" y="267" width="8" height="4" fill="#f4a888"/><rect x="438" y="267" width="3" height="4" fill="#f09878"/><rect x="441" y="267" width="4" height="4" fill="#e07c60"/><rect x="445" y="267" width="4" height="4" fill="#e48064"/><rect x="449" y="267" width="4" height="4" fill="#ec9474"/><rect x="453" y="267" width="3" height="4" fill="#c03438"/><rect x="456" y="267" width="4" height="4" fill="#ac182c"/><rect x="460" y="267" width="4" height="4" fill="#bc3034"/><rect x="464" y="267" width="3" height="4" fill="#e48068"/><rect x="467" y="267" width="4" height="4" fill="#c84440"/><rect x="471" y="267" width="4" height="4" fill="#f09c78"/><rect x="475" y="267" width="3" height="4" fill="#f4ac88"/><rect x="478" y="267" width="4" height="4" fill="#f4a480"/><rect x="482" y="267" width="4" height="4" fill="#f0a07c"/><rect x="486" y="267" width="3" height="4" fill="#f4a884"/><rect x="489" y="267" width="4" height="4" fill="#f4ac88"/><rect x="493" y="267" width="4" height="4" fill="#f4a484"/><rect x="497" y="267" width="7" height="4" fill="#f4a080"/><rect x="504" y="267" width="4" height="4" fill="#f0a07c"/><rect x="508" y="267" width="4" height="4" fill="#e88c70"/><rect x="512" y="267" width="3" height="4" fill="#d86450"/><rect x="515" y="267" width="4" height="4" fill="#f4a080"/><rect x="519" y="267" width="4" height="4" fill="#f4a480"/><rect x="523" y="267" width="3" height="4" fill="#f09c7c"/><rect x="526" y="267" width="4" height="4" fill="#f4a484"/><rect x="530" y="267" width="4" height="4" fill="#f4a884"/><rect x="534" y="267" width="3" height="4" fill="#f0a07c"/><rect x="537" y="267" width="4" height="4" fill="#f4a080"/><rect x="541" y="267" width="4" height="4" fill="#f4a480"/><rect x="545" y="267" width="3" height="4" fill="#f4ac8c"/><rect x="548" y="267" width="8" height="4" fill="#f4a884"/><rect x="556" y="267" width="4" height="4" fill="#f4a080"/><rect x="393" y="271" width="4" height="4" fill="#f09c7c"/><rect x="397" y="271" width="8" height="4" fill="#f4a484"/><rect x="405" y="271" width="11" height="4" fill="#f4a480"/><rect x="416" y="271" width="3" height="4" fill="#f4a888"/><rect x="419" y="271" width="4" height="4" fill="#f4a484"/><rect x="423" y="271" width="4" height="4" fill="#f0a07c"/><rect x="427" y="271" width="3" height="4" fill="#f4a480"/><rect x="430" y="271" width="4" height="4" fill="#f4a884"/><rect x="434" y="271" width="4" height="4" fill="#f4a888"/><rect x="438" y="271" width="3" height="4" fill="#f4a480"/><rect x="441" y="271" width="4" height="4" fill="#e47c64"/><rect x="445" y="271" width="4" height="4" fill="#dc7058"/><rect x="449" y="271" width="4" height="4" fill="#f09878"/><rect x="453" y="271" width="3" height="4" fill="#e48468"/><rect x="456" y="271" width="4" height="4" fill="#c03038"/><rect x="460" y="271" width="4" height="4" fill="#c03838"/><rect x="464" y="271" width="3" height="4" fill="#e8886c"/><rect x="467" y="271" width="4" height="4" fill="#c43c3c"/><rect x="471" y="271" width="4" height="4" fill="#e88c6c"/><rect x="475" y="271" width="3" height="4" fill="#f4a888"/><rect x="478" y="271" width="4" height="4" fill="#f09c7c"/><rect x="482" y="271" width="4" height="4" fill="#ec9478"/><rect x="486" y="271" width="3" height="4" fill="#f09c7c"/><rect x="489" y="271" width="4" height="4" fill="#f4a888"/><rect x="493" y="271" width="4" height="4" fill="#f0a080"/><rect x="497" y="271" width="4" height="4" fill="#f4ac88"/><rect x="501" y="271" width="3" height="4" fill="#f4a888"/><rect x="504" y="271" width="4" height="4" fill="#f4a884"/><rect x="508" y="271" width="4" height="4" fill="#ec9474"/><rect x="512" y="271" width="3" height="4" fill="#e07860"/><rect x="515" y="271" width="4" height="4" fill="#f0a080"/><rect x="519" y="271" width="4" height="4" fill="#f4ac88"/><rect x="523" y="271" width="3" height="4" fill="#f4a080"/><rect x="526" y="271" width="4" height="4" fill="#f0a07c"/><rect x="530" y="271" width="4" height="4" fill="#f4a480"/><rect x="534" y="271" width="3" height="4" fill="#f4ac88"/><rect x="537" y="271" width="4" height="4" fill="#f4a888"/><rect x="541" y="271" width="4" height="4" fill="#f4ac88"/><rect x="545" y="271" width="3" height="4" fill="#f09c7c"/><rect x="548" y="271" width="4" height="4" fill="#f4a484"/><rect x="552" y="271" width="4" height="4" fill="#f4a888"/><rect x="556" y="271" width="4" height="4" fill="#f4a480"/><rect x="393" y="275" width="4" height="3" fill="#f4a888"/><rect x="397" y="275" width="4" height="3" fill="#f4a480"/><rect x="401" y="275" width="4" height="3" fill="#f4a484"/><rect x="405" y="275" width="3" height="3" fill="#f4a480"/><rect x="408" y="275" width="4" height="3" fill="#f0a080"/><rect x="412" y="275" width="4" height="3" fill="#f4a484"/><rect x="416" y="275" width="3" height="3" fill="#f4a888"/><rect x="419" y="275" width="4" height="3" fill="#f4a484"/><rect x="423" y="275" width="4" height="3" fill="#f4a480"/><rect x="427" y="275" width="3" height="3" fill="#f4a888"/><rect x="430" y="275" width="4" height="3" fill="#f0a07c"/><rect x="434" y="275" width="4" height="3" fill="#f4a080"/><rect x="438" y="275" width="3" height="3" fill="#f4a480"/><rect x="441" y="275" width="8" height="3" fill="#e07860"/><rect x="449" y="275" width="4" height="3" fill="#f09c7c"/><rect x="453" y="275" width="3" height="3" fill="#f4a080"/><rect x="456" y="275" width="4" height="3" fill="#ec9474"/><rect x="460" y="275" width="4" height="3" fill="#f09c78"/><rect x="464" y="275" width="3" height="3" fill="#f09c7c"/><rect x="467" y="275" width="4" height="3" fill="#d05448"/><rect x="471" y="275" width="4" height="3" fill="#d86854"/><rect x="475" y="275" width="3" height="3" fill="#ec9474"/><rect x="478" y="275" width="4" height="3" fill="#e07860"/><rect x="482" y="275" width="4" height="3" fill="#e0745c"/><rect x="486" y="275" width="3" height="3" fill="#f09c7c"/><rect x="489" y="275" width="4" height="3" fill="#f4a484"/><rect x="493" y="275" width="4" height="3" fill="#f4a480"/><rect x="497" y="275" width="4" height="3" fill="#f4a888"/><rect x="501" y="275" width="3" height="3" fill="#f0a07c"/><rect x="504" y="275" width="4" height="3" fill="#f4a080"/><rect x="508" y="275" width="4" height="3" fill="#f4a480"/><rect x="512" y="275" width="3" height="3" fill="#ec9878"/><rect x="515" y="275" width="8" height="3" fill="#f09c7c"/><rect x="523" y="275" width="7" height="3" fill="#f4a480"/><rect x="530" y="275" width="4" height="3" fill="#f09c7c"/><rect x="534" y="275" width="3" height="3" fill="#f0a080"/><rect x="537" y="275" width="4" height="3" fill="#f4a884"/><rect x="541" y="275" width="4" height="3" fill="#f0a07c"/><rect x="545" y="275" width="3" height="3" fill="#f09c7c"/><rect x="548" y="275" width="4" height="3" fill="#f4a484"/><rect x="552" y="275" width="4" height="3" fill="#f4a884"/><rect x="556" y="275" width="4" height="3" fill="#f4a480"/><rect x="393" y="278" width="4" height="2" fill="#f4a888"/><rect x="397" y="278" width="4" height="2" fill="#f0a07c"/><rect x="401" y="278" width="4" height="2" fill="#f4a888"/><rect x="405" y="278" width="3" height="2" fill="#f4a080"/><rect x="408" y="278" width="8" height="2" fill="#f4a884"/><rect x="416" y="278" width="3" height="2" fill="#f0a07c"/><rect x="419" y="278" width="4" height="2" fill="#f09c7c"/><rect x="423" y="278" width="4" height="2" fill="#f4a884"/><rect x="427" y="278" width="3" height="2" fill="#f09c7c"/><rect x="430" y="278" width="4" height="2" fill="#f4a888"/><rect x="434" y="278" width="4" height="2" fill="#f4a884"/><rect x="438" y="278" width="3" height="2" fill="#f4a484"/><rect x="441" y="278" width="4" height="2" fill="#f09c7c"/><rect x="445" y="278" width="4" height="2" fill="#f4a080"/><rect x="449" y="278" width="4" height="2" fill="#f4a884"/><rect x="453" y="278" width="3" height="2" fill="#f4a480"/><rect x="456" y="278" width="4" height="2" fill="#f4a484"/><rect x="460" y="278" width="4" height="2" fill="#f4a080"/><rect x="464" y="278" width="3" height="2" fill="#f4a480"/><rect x="467" y="278" width="4" height="2" fill="#f09c7c"/><rect x="471" y="278" width="4" height="2" fill="#f09878"/><rect x="475" y="278" width="3" height="2" fill="#f09c7c"/><rect x="478" y="278" width="4" height="2" fill="#f09878"/><rect x="482" y="278" width="4" height="2" fill="#f0a07c"/><rect x="486" y="278" width="3" height="2" fill="#f4a480"/><rect x="489" y="278" width="4" height="2" fill="#f4ac88"/><rect x="493" y="278" width="4" height="2" fill="#f0a07c"/><rect x="497" y="278" width="4" height="2" fill="#f09c7c"/><rect x="501" y="278" width="3" height="2" fill="#f4a080"/><rect x="504" y="278" width="4" height="2" fill="#f0a07c"/><rect x="508" y="278" width="4" height="2" fill="#f4a888"/><rect x="512" y="278" width="3" height="2" fill="#f4a884"/><rect x="515" y="278" width="4" height="2" fill="#f4a888"/><rect x="519" y="278" width="4" height="2" fill="#f4ac88"/><rect x="523" y="278" width="3" height="2" fill="#f4a884"/><rect x="526" y="278" width="4" height="2" fill="#f4a480"/><rect x="530" y="278" width="4" height="2" fill="#f0a080"/><rect x="534" y="278" width="3" height="2" fill="#f0a07c"/><rect x="537" y="278" width="4" height="2" fill="#f4a888"/><rect x="541" y="278" width="7" height="2" fill="#f0a07c"/><rect x="548" y="278" width="4" height="2" fill="#f4a480"/><rect x="552" y="278" width="4" height="2" fill="#f0a080"/><rect x="556" y="278" width="4" height="2" fill="#f09c7c"/><rect x="549" y="160" width="6" height="11" fill="#bd1f2d"/><rect x="551" y="160" width="4" height="6" fill="#d6404a"/><rect x="546" y="171" width="9" height="33" fill="#69001f"/><rect x="543" y="188" width="12" height="6" fill="#69001f"/><rect x="549" y="212" width="4" height="4" fill="#69001f"/><rect x="551" y="216" width="2" height="8" fill="#69001f"/><rect x="546" y="219" width="7" height="5" fill="#69001f"/><path d="M393 125h143v1h-143zM536 126h20v1h-20zM393 126h99v1h-99zM393 127h7v1h-7zM500 126h15v4h-15zM448 127h4v3h-4zM478 127h14v3h-14zM426 127h7v5h-7zM416 127h1v9h-1zM422 132h11v4h-11zM478 130h37v7h-37zM459 135h8v3h-8zM416 136h14v3h-14zM474 137h38v2h-38zM460 138h7v1h-7zM460 139h52v3h-52zM460 142h25v1h-25zM417 139h13v5h-13zM493 142h22v3h-22zM452 143h33v4h-33zM493 145h19v5h-19zM467 147h18v3h-18zM417 144h17v8h-17zM475 150h7v4h-7zM486 150h26v4h-26zM423 152h11v2h-11zM553 127h3v29h-3zM545 153h4v3h-4zM440 137h1v20h-1zM452 147h12v10h-12zM467 150h4v7h-4zM489 154h8v4h-8zM440 157h2v1h-2zM452 157h19v1h-19zM417 152h1v7h-1zM423 154h7v5h-7zM540 156h16v4h-16zM490 158h7v4h-7zM431 158h11v6h-11zM423 159h4v5h-4zM490 162h3v4h-3zM479 162h3v4h-3zM453 158h18v12h-18zM486 166h7v4h-7zM475 166h7v4h-7zM540 160h9v11h-9zM435 164h6v7h-6zM501 154h11v20h-11zM453 170h40v4h-40zM440 171h1v4h-1zM453 174h59v1h-59zM435 175h3v2h-3zM440 175h72v2h-72zM435 177h73v1h-73zM401 171h12v8h-12zM418 171h1v8h-1zM449 178h59v5h-59zM435 178h7v5h-7zM398 179h15v4h-15zM393 128h1v60h-1zM540 171h6v17h-6zM398 183h11v5h-11zM424 183h84v10h-84zM540 188h3v6h-3zM393 188h16v6h-16zM424 193h81v1h-81zM393 194h13v4h-13zM420 194h59v4h-59zM483 194h22v7h-22zM555 160h1v44h-1zM540 194h6v10h-6zM393 198h1v6h-1zM398 198h8v6h-8zM417 198h62v6h-62zM483 201h18v3h-18zM418 204h62v3h-62zM421 207h59v2h-59zM518 204h18v6h-18zM421 209h55v2h-55zM540 204h16v8h-16zM439 211h37v3h-37zM393 204h3v11h-3zM428 211h4v4h-4zM421 211h3v4h-3zM483 204h19v12h-19zM540 212h9v4h-9zM514 210h22v7h-22zM472 214h4v3h-4zM439 214h15v4h-15zM461 214h8v4h-8zM393 215h27v3h-27zM540 216h11v3h-11zM465 218h4v4h-4zM553 212h3v12h-3zM511 217h25v7h-25zM540 219h6v5h-6zM480 216h22v9h-22zM473 217h3v8h-3zM442 218h8v8h-8zM465 222h1v4h-1zM507 224h29v5h-29zM473 225h29v4h-29zM462 226h4v4h-4zM473 229h63v1h-63zM540 224h16v8h-16zM440 226h10v8h-10zM465 230h1v4h-1zM469 230h67v4h-67zM393 218h3v20h-3zM465 234h71v4h-71zM442 234h1v4h-1zM393 238h1v6h-1zM462 238h74v6h-74zM458 244h78v2h-78zM393 244h3v2h-3zM455 246h81v4h-81zM437 246h3v4h-3zM393 246h10v4h-10zM451 250h85v3h-85zM393 250h11v5h-11zM465 253h71v4h-71zM448 254h3v3h-3zM407 254h11v3h-11zM393 255h7v3h-7zM407 257h15v1h-15zM470 257h66v3h-66zM465 257h2v4h-2zM470 260h40v1h-40zM442 257h6v5h-6zM433 257h4v5h-4zM393 258h29v4h-29zM514 260h22v4h-22zM465 261h45v4h-45zM433 262h15v4h-15zM393 262h37v4h-37zM463 265h47v4h-47zM393 266h55v3h-55zM393 269h62v1h-62zM470 269h40v4h-40zM463 269h4v4h-4zM448 270h7v3h-7zM518 264h18v10h-18zM393 270h51v4h-51zM485 273h25v3h-25zM514 274h22v2h-22zM474 273h3v4h-3zM448 273h19v4h-19zM393 274h48v3h-48zM443 274h1v3h-1zM485 276h51v1h-51zM393 277h143v3h-143z" fill="#97b6e1"/></g><polygon points="549.3,155.4 548.4,155.1 545.6,155.7 540.0,157.4 534.9,161.3 531.0,167.0 527.1,176.0 523.7,185.0 520.3,195.0 518.0,204.0 515.5,209.0 512.0,214.0 511.5,219.0 509.5,224.0 507.0,228.0 503.0,231.0 502.5,234.0 504.5,237.0 504.5,248.0 509.0,249.0 512.5,253.0 514.5,261.0 517.5,264.5 518.5,274.0 518.5,281.0 559.0,281.0 559.0,220.5 554.5,221.0 554.0,223.0 552.0,226.0 549.0,227.0 546.5,225.0 545.0,222.0 545.0,218.0 545.5,214.0 547.5,211.5 549.8,210.0 550.1,207.0 549.0,205.1 547.5,205.5 546.8,207.8 544.9,208.1 544.5,205.9 545.6,204.8 546.0,201.8 544.1,198.0 542.2,195.0 541.4,192.0 541.9,188.2 543.4,183.8 543.8,180.0 544.3,176.0 545.6,169.0 547.2,162.0 549.3,157.6" fill="#efefdb" stroke="#7a7a7a" stroke-width="1.5" stroke-linejoin="round"/>
<line x1="394.10" y1="125.5" x2="397.50" y2="279.5" stroke="#b0b0b0" stroke-width="1"/>
<line x1="417.17" y1="125.5" x2="420.45" y2="279.5" stroke="#b0b0b0" stroke-width="1"/>
<line x1="440.24" y1="125.5" x2="443.40" y2="279.5" stroke="#b0b0b0" stroke-width="1"/>
<line x1="463.31" y1="125.5" x2="466.35" y2="279.5" stroke="#b0b0b0" stroke-width="1"/>
<line x1="486.38" y1="125.5" x2="489.30" y2="279.5" stroke="#b0b0b0" stroke-width="1"/>
<line x1="509.45" y1="125.5" x2="512.25" y2="279.5" stroke="#b0b0b0" stroke-width="1"/>
<line x1="532.52" y1="125.5" x2="535.20" y2="279.5" stroke="#b0b0b0" stroke-width="1"/>
<line x1="555.59" y1="125.5" x2="558.15" y2="279.5" stroke="#b0b0b0" stroke-width="1"/>
<line x1="393.5" y1="139.60" x2="555.5" y2="135.80" stroke="#b0b0b0" stroke-width="1"/>
<line x1="393.5" y1="159.32" x2="555.5" y2="155.52" stroke="#b0b0b0" stroke-width="1"/>
<line x1="393.5" y1="179.04" x2="555.5" y2="175.24" stroke="#b0b0b0" stroke-width="1"/>
<line x1="393.5" y1="198.76" x2="555.5" y2="194.96" stroke="#b0b0b0" stroke-width="1"/>
<line x1="393.5" y1="218.48" x2="555.5" y2="214.68" stroke="#b0b0b0" stroke-width="1"/>
<line x1="393.5" y1="238.20" x2="555.5" y2="234.40" stroke="#b0b0b0" stroke-width="1"/>
<line x1="393.5" y1="257.92" x2="555.5" y2="254.12" stroke="#b0b0b0" stroke-width="1"/>
<line x1="393.5" y1="277.64" x2="555.5" y2="273.84" stroke="#b0b0b0" stroke-width="1"/>
</g>
<rect x="393.5" y="125.5" width="162" height="154" fill="none" stroke="#000" stroke-width="1"/>
<g clip-path="url(#clip2)">
<rect x="635.5" y="125.5" width="162" height="154" fill="#97b6e1"/>
<g shape-rendering="crispEdges"><rect x="635" y="125" width="45" height="6" fill="#f4f0f0"/><rect x="680" y="125" width="3" height="6" fill="#f0ece8"/><rect x="683" y="125" width="4" height="6" fill="#e4dcd4"/><rect x="687" y="125" width="4" height="6" fill="#d0c8b4"/><rect x="691" y="125" width="4" height="6" fill="#d4ccb8"/><rect x="695" y="125" width="3" height="6" fill="#e4dcd4"/><rect x="698" y="125" width="4" height="6" fill="#ece4e0"/><rect x="702" y="125" width="4" height="6" fill="#f0ece8"/><rect x="706" y="125" width="96" height="6" fill="#f4f0f0"/><rect x="635" y="131" width="45" height="3" fill="#f4f0f0"/><rect x="680" y="131" width="3" height="3" fill="#f0ece8"/><rect x="683" y="131" width="4" height="3" fill="#e8e0d8"/><rect x="687" y="131" width="8" height="3" fill="#d8d0c0"/><rect x="695" y="131" width="3" height="3" fill="#e4dcd4"/><rect x="698" y="131" width="4" height="3" fill="#ece4e0"/><rect x="702" y="131" width="4" height="3" fill="#f0ece8"/><rect x="706" y="131" width="96" height="3" fill="#f4f0f0"/><rect x="635" y="134" width="48" height="4" fill="#f4f0f0"/><rect x="683" y="134" width="4" height="4" fill="#ece4e0"/><rect x="687" y="134" width="8" height="4" fill="#e8e0d8"/><rect x="695" y="134" width="3" height="4" fill="#ece4e0"/><rect x="698" y="134" width="4" height="4" fill="#f0e8e4"/><rect x="702" y="134" width="85" height="4" fill="#f4f0f0"/><rect x="787" y="134" width="3" height="4" fill="#f0ecec"/><rect x="790" y="134" width="12" height="4" fill="#f4f0f0"/><rect x="635" y="138" width="52" height="4" fill="#f4f0f0"/><rect x="687" y="138" width="11" height="4" fill="#f0ece8"/><rect x="698" y="138" width="15" height="4" fill="#f4f0f0"/><rect x="713" y="138" width="11" height="4" fill="#f0e8e4"/><rect x="724" y="138" width="59" height="4" fill="#f4f0f0"/><rect x="783" y="138" width="4" height="4" fill="#e8e8e8"/><rect x="787" y="138" width="3" height="4" fill="#e4e4e4"/><rect x="790" y="138" width="4" height="4" fill="#e8e8e8"/><rect x="794" y="138" width="8" height="4" fill="#f4f0f0"/><rect x="635" y="142" width="144" height="3" fill="#f4f0f0"/><rect x="779" y="142" width="4" height="3" fill="#f0ecec"/><rect x="783" y="142" width="11" height="3" fill="#e4e4e4"/><rect x="794" y="142" width="4" height="3" fill="#f0ecec"/><rect x="798" y="142" width="4" height="3" fill="#f4f0f0"/><rect x="635" y="145" width="144" height="4" fill="#f4f0f0"/><rect x="779" y="145" width="4" height="4" fill="#f0ecec"/><rect x="783" y="145" width="4" height="4" fill="#e4e4e4"/><rect x="787" y="145" width="3" height="4" fill="#e0e0e4"/><rect x="790" y="145" width="4" height="4" fill="#e4e4e4"/><rect x="794" y="145" width="4" height="4" fill="#f0ecec"/><rect x="798" y="145" width="4" height="4" fill="#f4f0f0"/><rect x="635" y="149" width="130" height="4" fill="#f4f0f0"/><rect x="765" y="149" width="3" height="4" fill="#f0ecec"/><rect x="768" y="149" width="4" height="4" fill="#e8e8e8"/><rect x="772" y="149" width="4" height="4" fill="#f0ecec"/><rect x="776" y="149" width="3" height="4" fill="#f4f0f0"/><rect x="779" y="149" width="4" height="4" fill="#f0ece8"/><rect x="783" y="149" width="4" height="4" fill="#e4e4e4"/><rect x="787" y="149" width="3" height="4" fill="#d8dce0"/><rect x="790" y="149" width="4" height="4" fill="#e4e4e4"/><rect x="794" y="149" width="8" height="4" fill="#f4f0f0"/><rect x="635" y="153" width="126" height="4" fill="#f4f0f0"/><rect x="761" y="153" width="4" height="4" fill="#f0ecec"/><rect x="765" y="153" width="7" height="4" fill="#ccd4d8"/><rect x="772" y="153" width="4" height="4" fill="#e0e0e4"/><rect x="776" y="153" width="3" height="4" fill="#f0ece8"/><rect x="779" y="153" width="4" height="4" fill="#e8e0d8"/><rect x="783" y="153" width="4" height="4" fill="#f4f0f0"/><rect x="787" y="153" width="7" height="4" fill="#f0ecec"/><rect x="794" y="153" width="8" height="4" fill="#f4f0f0"/><rect x="635" y="157" width="126" height="3" fill="#f4f0f0"/><rect x="761" y="157" width="4" height="3" fill="#e8e8e8"/><rect x="765" y="157" width="3" height="3" fill="#ccd4d8"/><rect x="768" y="157" width="4" height="3" fill="#c8d0d8"/><rect x="772" y="157" width="4" height="3" fill="#e0e0e4"/><rect x="776" y="157" width="3" height="3" fill="#f4f0f0"/><rect x="779" y="157" width="4" height="3" fill="#f0ece8"/><rect x="783" y="157" width="19" height="3" fill="#f4f0f0"/><rect x="635" y="160" width="126" height="4" fill="#f4f0f0"/><rect x="761" y="160" width="4" height="4" fill="#f0ecec"/><rect x="765" y="160" width="3" height="4" fill="#e0e0e4"/><rect x="768" y="160" width="4" height="4" fill="#d8dce0"/><rect x="772" y="160" width="4" height="4" fill="#e4e4e4"/><rect x="776" y="160" width="3" height="4" fill="#f0ecec"/><rect x="779" y="160" width="23" height="4" fill="#f4f0f0"/><rect x="635" y="164" width="126" height="4" fill="#f4f0f0"/><rect x="761" y="164" width="4" height="4" fill="#f0ecec"/><rect x="765" y="164" width="11" height="4" fill="#e4e4e4"/><rect x="776" y="164" width="3" height="4" fill="#f0ecec"/><rect x="779" y="164" width="23" height="4" fill="#f4f0f0"/><rect x="635" y="168" width="130" height="3" fill="#f4f0f0"/><rect x="765" y="168" width="11" height="3" fill="#f0ecec"/><rect x="776" y="168" width="26" height="3" fill="#f4f0f0"/><rect x="635" y="171" width="119" height="4" fill="#f4f0f0"/><rect x="754" y="171" width="7" height="4" fill="#f0ecec"/><rect x="761" y="171" width="41" height="4" fill="#f4f0f0"/><rect x="635" y="175" width="115" height="4" fill="#f4f0f0"/><rect x="750" y="175" width="4" height="4" fill="#f0ecec"/><rect x="754" y="175" width="7" height="4" fill="#e4e4e4"/><rect x="761" y="175" width="4" height="4" fill="#f0ecec"/><rect x="765" y="175" width="37" height="4" fill="#f4f0f0"/><rect x="635" y="179" width="104" height="3" fill="#f4f0f0"/><rect x="739" y="179" width="15" height="3" fill="#e8e8e8"/><rect x="754" y="179" width="7" height="3" fill="#e4e4e4"/><rect x="761" y="179" width="4" height="3" fill="#e8e8e8"/><rect x="765" y="179" width="37" height="3" fill="#f4f0f0"/><rect x="635" y="182" width="104" height="4" fill="#f4f0f0"/><rect x="739" y="182" width="15" height="4" fill="#e8e8e8"/><rect x="754" y="182" width="3" height="4" fill="#e4e4e4"/><rect x="757" y="182" width="8" height="4" fill="#e8e8e8"/><rect x="765" y="182" width="37" height="4" fill="#f4f0f0"/><rect x="635" y="186" width="104" height="4" fill="#f4f0f0"/><rect x="739" y="186" width="26" height="4" fill="#e8e8e8"/><rect x="765" y="186" width="37" height="4" fill="#f4f0f0"/><rect x="635" y="190" width="104" height="3" fill="#f4f0f0"/><rect x="739" y="190" width="26" height="3" fill="#e8e8e8"/><rect x="765" y="190" width="37" height="3" fill="#f4f0f0"/><rect x="635" y="193" width="108" height="4" fill="#f4f0f0"/><rect x="743" y="193" width="14" height="4" fill="#f0ecec"/><rect x="757" y="193" width="45" height="4" fill="#f4f0f0"/><rect x="635" y="197" width="108" height="4" fill="#f4f0f0"/><rect x="743" y="197" width="3" height="4" fill="#f0ecec"/><rect x="746" y="197" width="8" height="4" fill="#e4e4e4"/><rect x="754" y="197" width="3" height="4" fill="#f0ecec"/><rect x="757" y="197" width="45" height="4" fill="#f4f0f0"/><rect x="635" y="201" width="4" height="3" fill="#f4f0f0"/><rect x="639" y="201" width="4" height="3" fill="#f0ece8"/><rect x="643" y="201" width="7" height="3" fill="#f0e8e4"/><rect x="650" y="201" width="4" height="3" fill="#f0ece8"/><rect x="654" y="201" width="85" height="3" fill="#f4f0f0"/><rect x="739" y="201" width="4" height="3" fill="#f0ece8"/><rect x="743" y="201" width="3" height="3" fill="#f4f0f0"/><rect x="746" y="201" width="8" height="3" fill="#e4e4e4"/><rect x="754" y="201" width="3" height="3" fill="#f0ecec"/><rect x="757" y="201" width="45" height="3" fill="#f4f0f0"/><rect x="635" y="204" width="4" height="4" fill="#f4f0f0"/><rect x="639" y="204" width="15" height="4" fill="#f0e8e4"/><rect x="654" y="204" width="81" height="4" fill="#f4f0f0"/><rect x="735" y="204" width="4" height="4" fill="#f0ece8"/><rect x="739" y="204" width="7" height="4" fill="#e8e0d8"/><rect x="746" y="204" width="4" height="4" fill="#f4f0f0"/><rect x="750" y="204" width="4" height="4" fill="#f0ecec"/><rect x="754" y="204" width="48" height="4" fill="#f4f0f0"/><rect x="635" y="208" width="4" height="4" fill="#f4f0f0"/><rect x="639" y="208" width="15" height="4" fill="#f0e8e4"/><rect x="654" y="208" width="81" height="4" fill="#f4f0f0"/><rect x="735" y="208" width="4" height="4" fill="#f0ece8"/><rect x="739" y="208" width="7" height="4" fill="#e4dcd4"/><rect x="746" y="208" width="4" height="4" fill="#f0ece8"/><rect x="750" y="208" width="52" height="4" fill="#f4f0f0"/><rect x="635" y="212" width="4" height="4" fill="#f4f0f0"/><rect x="639" y="212" width="4" height="4" fill="#f0ece8"/><rect x="643" y="212" width="7" height="4" fill="#f0e8e4"/><rect x="650" y="212" width="4" height="4" fill="#f0ece8"/><rect x="654" y="212" width="81" height="4" fill="#f4f0f0"/><rect x="735" y="212" width="4" height="4" fill="#f0ece8"/><rect x="739" y="212" width="7" height="4" fill="#e8e0d8"/><rect x="746" y="212" width="4" height="4" fill="#f0ece8"/><rect x="750" y="212" width="40" height="4" fill="#f4f0f0"/><rect x="790" y="212" width="4" height="4" fill="#f0ecec"/><rect x="794" y="212" width="8" height="4" fill="#f4f0f0"/><rect x="635" y="216" width="104" height="3" fill="#f4f0f0"/><rect x="739" y="216" width="4" height="3" fill="#f0ece8"/><rect x="743" y="216" width="44" height="3" fill="#f4f0f0"/><rect x="787" y="216" width="3" height="3" fill="#f0ecec"/><rect x="790" y="216" width="4" height="3" fill="#e0e0e4"/><rect x="794" y="216" width="4" height="3" fill="#f0ecec"/><rect x="798" y="216" width="4" height="3" fill="#f4f0f0"/><rect x="635" y="219" width="108" height="4" fill="#f4f0f0"/><rect x="743" y="219" width="3" height="4" fill="#f0ecec"/><rect x="746" y="219" width="41" height="4" fill="#f4f0f0"/><rect x="787" y="219" width="3" height="4" fill="#f0ecec"/><rect x="790" y="219" width="4" height="4" fill="#e0e0e4"/><rect x="794" y="219" width="4" height="4" fill="#f0ecec"/><rect x="798" y="219" width="4" height="4" fill="#f4f0f0"/><rect x="635" y="223" width="108" height="4" fill="#f4f0f0"/><rect x="743" y="223" width="3" height="4" fill="#f0ecec"/><rect x="746" y="223" width="44" height="4" fill="#f4f0f0"/><rect x="790" y="223" width="4" height="4" fill="#f0ecec"/><rect x="794" y="223" width="8" height="4" fill="#f4f0f0"/><rect x="635" y="227" width="167" height="3" fill="#f4f0f0"/><rect x="635" y="230" width="167" height="4" fill="#f4f0f0"/><rect x="635" y="234" width="167" height="4" fill="#f4f0f0"/><rect x="635" y="238" width="8" height="3" fill="#f4f0f0"/><rect x="643" y="238" width="7" height="3" fill="#f0ece8"/><rect x="650" y="238" width="152" height="3" fill="#f4f0f0"/><rect x="635" y="241" width="4" height="4" fill="#f4f0f0"/><rect x="639" y="241" width="15" height="4" fill="#f0e8e4"/><rect x="654" y="241" width="26" height="4" fill="#f4f0f0"/><rect x="680" y="241" width="3" height="4" fill="#f0ecec"/><rect x="683" y="241" width="119" height="4" fill="#f4f0f0"/><rect x="635" y="245" width="4" height="4" fill="#f0ece8"/><rect x="639" y="245" width="4" height="4" fill="#f0e8e4"/><rect x="643" y="245" width="7" height="4" fill="#ece4e0"/><rect x="650" y="245" width="4" height="4" fill="#f0e8e4"/><rect x="654" y="245" width="4" height="4" fill="#f0ece8"/><rect x="658" y="245" width="18" height="4" fill="#f4f0f0"/><rect x="676" y="245" width="4" height="4" fill="#f0ecec"/><rect x="680" y="245" width="3" height="4" fill="#e0e0e4"/><rect x="683" y="245" width="4" height="4" fill="#f0ecec"/><rect x="687" y="245" width="115" height="4" fill="#f4f0f0"/><rect x="635" y="249" width="4" height="3" fill="#f4f0f0"/><rect x="639" y="249" width="15" height="3" fill="#f0e8e4"/><rect x="654" y="249" width="22" height="3" fill="#f4f0f0"/><rect x="676" y="249" width="4" height="3" fill="#f0ecec"/><rect x="680" y="249" width="3" height="3" fill="#e0e0e4"/><rect x="683" y="249" width="4" height="3" fill="#f0ecec"/><rect x="687" y="249" width="115" height="3" fill="#f4f0f0"/><rect x="635" y="252" width="8" height="4" fill="#f4f0f0"/><rect x="643" y="252" width="7" height="4" fill="#f0ece8"/><rect x="650" y="252" width="30" height="4" fill="#f4f0f0"/><rect x="680" y="252" width="3" height="4" fill="#f0ecec"/><rect x="683" y="252" width="67" height="4" fill="#f4f0f0"/><rect x="750" y="252" width="7" height="4" fill="#f0e8e4"/><rect x="757" y="252" width="45" height="4" fill="#f4f0f0"/><rect x="635" y="256" width="111" height="4" fill="#f4f0f0"/><rect x="746" y="256" width="4" height="4" fill="#f0e8e4"/><rect x="750" y="256" width="7" height="4" fill="#d0c8b4"/><rect x="757" y="256" width="4" height="4" fill="#f0e8e4"/><rect x="761" y="256" width="41" height="4" fill="#f4f0f0"/><rect x="635" y="260" width="96" height="4" fill="#f4f0f0"/><rect x="731" y="260" width="4" height="4" fill="#f0ecec"/><rect x="735" y="260" width="11" height="4" fill="#e8e8e8"/><rect x="746" y="260" width="4" height="4" fill="#f0ece8"/><rect x="750" y="260" width="4" height="4" fill="#c8bca8"/><rect x="754" y="260" width="3" height="4" fill="#c4b8a0"/><rect x="757" y="260" width="4" height="4" fill="#ece4e0"/><rect x="761" y="260" width="41" height="4" fill="#f4f0f0"/><rect x="635" y="264" width="78" height="3" fill="#f4f0f0"/><rect x="713" y="264" width="18" height="3" fill="#f0ecec"/><rect x="731" y="264" width="8" height="3" fill="#e8e8e8"/><rect x="739" y="264" width="7" height="3" fill="#e4e4e4"/><rect x="746" y="264" width="4" height="3" fill="#f0ece8"/><rect x="750" y="264" width="4" height="3" fill="#c8bca8"/><rect x="754" y="264" width="3" height="3" fill="#bcb49c"/><rect x="757" y="264" width="4" height="3" fill="#ece4e0"/><rect x="761" y="264" width="41" height="3" fill="#f4f0f0"/><rect x="635" y="267" width="74" height="4" fill="#f4f0f0"/><rect x="709" y="267" width="4" height="4" fill="#f0ecec"/><rect x="713" y="267" width="18" height="4" fill="#e4e4e4"/><rect x="731" y="267" width="8" height="4" fill="#e8e8e8"/><rect x="739" y="267" width="7" height="4" fill="#e4e4e4"/><rect x="746" y="267" width="4" height="4" fill="#f0ece8"/><rect x="750" y="267" width="4" height="4" fill="#c4b8a0"/><rect x="754" y="267" width="3" height="4" fill="#b8b094"/><rect x="757" y="267" width="4" height="4" fill="#ece4e0"/><rect x="761" y="267" width="41" height="4" fill="#f4f0f0"/><rect x="635" y="271" width="74" height="4" fill="#f4f0f0"/><rect x="709" y="271" width="4" height="4" fill="#f0ecec"/><rect x="713" y="271" width="18" height="4" fill="#e4e4e4"/><rect x="731" y="271" width="15" height="4" fill="#e8e8e8"/><rect x="746" y="271" width="4" height="4" fill="#f0ece8"/><rect x="750" y="271" width="4" height="4" fill="#d0c8b4"/><rect x="754" y="271" width="3" height="4" fill="#c8bca8"/><rect x="757" y="271" width="4" height="4" fill="#ece4e0"/><rect x="761" y="271" width="41" height="4" fill="#f4f0f0"/><rect x="635" y="275" width="78" height="3" fill="#f4f0f0"/><rect x="713" y="275" width="18" height="3" fill="#f0ecec"/><rect x="731" y="275" width="19" height="3" fill="#f4f0f0"/><rect x="750" y="275" width="4" height="3" fill="#f0e8e4"/><rect x="754" y="275" width="3" height="3" fill="#ece4e0"/><rect x="757" y="275" width="4" height="3" fill="#f0ece8"/><rect x="761" y="275" width="41" height="3" fill="#f4f0f0"/><rect x="635" y="278" width="167" height="2" fill="#f4f0f0"/><path d="M635 125h163v2h-163zM635 127h44v1h-44zM635 128h11v1h-11zM716 128h56v1h-56zM716 129h53v1h-53zM713 130h56v1h-56zM702 131h67v3h-67zM702 134h15v3h-15zM735 134h34v3h-34zM731 137h38v4h-38zM694 138h19v4h-19zM731 141h34v4h-34zM731 145h30v1h-30zM694 142h15v6h-15zM717 146h11v2h-11zM742 146h19v3h-19zM694 148h34v3h-34zM662 151h15v1h-15zM717 151h11v3h-11zM694 151h20v3h-20zM661 152h16v3h-16zM795 127h3v29h-3zM787 153h4v3h-4zM743 149h15v9h-15zM728 154h11v4h-11zM782 156h16v2h-16zM691 154h19v8h-19zM713 158h12v4h-12zM728 158h30v6h-30zM691 162h34v2h-34zM691 164h63v1h-63zM691 165h49v2h-49zM695 167h45v2h-45zM695 169h48v2h-48zM782 158h9v14h-9zM691 171h52v1h-52zM691 172h56v2h-56zM688 174h59v3h-59zM688 177h52v1h-52zM677 178h63v7h-63zM677 185h59v1h-59zM676 186h60v1h-60zM782 172h6v16h-6zM673 187h63v2h-63zM673 189h67v2h-67zM670 191h70v6h-70zM795 158h3v45h-3zM782 188h3v15h-3zM670 197h59v7h-59zM670 204h60v3h-60zM667 207h63v3h-63zM667 210h37v1h-37zM711 210h19v3h-19zM678 211h26v3h-26zM782 203h16v13h-16zM711 213h22v3h-22zM674 214h26v3h-26zM676 217h21v1h-21zM675 218h22v1h-22zM711 218h30v4h-30zM671 219h26v3h-26zM795 216h3v7h-3zM782 216h9v7h-9zM707 222h34v3h-34zM675 222h22v7h-22zM711 225h34v4h-34zM782 223h16v9h-16zM675 229h71v4h-71zM675 233h16v3h-16zM708 233h29v3h-29zM741 233h5v3h-5zM675 236h71v1h-71zM680 237h7v1h-7zM716 237h30v5h-30zM687 242h59v2h-59zM687 244h23v1h-23zM716 244h30v5h-30zM685 245h25v4h-25zM685 249h64v1h-64zM701 250h48v1h-48zM701 251h60v1h-60zM701 252h41v1h-41zM685 250h13v4h-13zM754 252h7v4h-7zM720 253h22v3h-22zM672 254h26v2h-26zM672 256h66v1h-66zM672 257h22v1h-22zM756 256h5v5h-5zM711 257h27v4h-27zM668 258h26v3h-26zM668 261h15v1h-15zM664 262h19v4h-19zM664 266h16v1h-16zM698 261h14v8h-14zM716 261h16v8h-16zM654 267h26v3h-26zM635 211h3v60h-3zM661 270h19v1h-19zM635 271h4v3h-4zM759 261h2v14h-2zM730 269h2v6h-2zM654 271h26v4h-26zM691 269h22v7h-22zM635 274h3v2h-3zM730 275h34v1h-34zM646 275h34v1h-34zM795 232h3v45h-3zM635 276h128v1h-128zM635 277h163v3h-163z" fill="#97b6e1"/></g><polygon points="791.3,155.4 790.4,155.1 787.6,155.7 782.0,157.4 776.9,161.3 773.0,167.0 769.1,176.0 765.7,185.0 762.3,195.0 760.0,204.0 757.5,209.0 754.0,214.0 753.5,219.0 751.5,224.0 749.0,228.0 745.0,231.0 744.5,234.0 746.5,237.0 746.5,248.0 751.0,249.0 754.5,253.0 756.5,261.0 759.5,264.5 760.5,274.0 760.5,281.0 801.0,281.0 801.0,220.5 796.5,221.0 796.0,223.0 794.0,226.0 791.0,227.0 788.5,225.0 787.0,222.0 787.0,218.0 787.5,214.0 789.5,211.5 791.8,210.0 792.1,207.0 791.0,205.1 789.5,205.5 788.8,207.8 786.9,208.1 786.5,205.9 787.6,204.8 788.0,201.8 786.1,198.0 784.2,195.0 783.4,192.0 783.9,188.2 785.4,183.8 785.8,180.0 786.3,176.0 787.6,169.0 789.2,162.0 791.3,157.6" fill="#efefdb" stroke="#7a7a7a" stroke-width="1.5" stroke-linejoin="round"/>
<line x1="636.10" y1="125.5" x2="639.50" y2="279.5" stroke="#b0b0b0" stroke-width="1"/>
<line x1="659.17" y1="125.5" x2="662.45" y2="279.5" stroke="#b0b0b0" stroke-width="1"/>
<line x1="682.24" y1="125.5" x2="685.40" y2="279.5" stroke="#b0b0b0" stroke-width="1"/>
<line x1="705.31" y1="125.5" x2="708.35" y2="279.5" stroke="#b0b0b0" stroke-width="1"/>
<line x1="728.38" y1="125.5" x2="731.30" y2="279.5" stroke="#b0b0b0" stroke-width="1"/>
<line x1="751.45" y1="125.5" x2="754.25" y2="279.5" stroke="#b0b0b0" stroke-width="1"/>
<line x1="774.52" y1="125.5" x2="777.20" y2="279.5" stroke="#b0b0b0" stroke-width="1"/>
<line x1="797.59" y1="125.5" x2="800.15" y2="279.5" stroke="#b0b0b0" stroke-width="1"/>
<line x1="635.5" y1="139.60" x2="797.5" y2="135.80" stroke="#b0b0b0" stroke-width="1"/>
<line x1="635.5" y1="159.32" x2="797.5" y2="155.52" stroke="#b0b0b0" stroke-width="1"/>
<line x1="635.5" y1="179.04" x2="797.5" y2="175.24" stroke="#b0b0b0" stroke-width="1"/>
<line x1="635.5" y1="198.76" x2="797.5" y2="194.96" stroke="#b0b0b0" stroke-width="1"/>
<line x1="635.5" y1="218.48" x2="797.5" y2="214.68" stroke="#b0b0b0" stroke-width="1"/>
<line x1="635.5" y1="238.20" x2="797.5" y2="234.40" stroke="#b0b0b0" stroke-width="1"/>
<line x1="635.5" y1="257.92" x2="797.5" y2="254.12" stroke="#b0b0b0" stroke-width="1"/>
<line x1="635.5" y1="277.64" x2="797.5" y2="273.84" stroke="#b0b0b0" stroke-width="1"/>
</g>
<rect x="635.5" y="125.5" width="162" height="154" fill="none" stroke="#000" stroke-width="1"/>
<g clip-path="url(#clip3)">
<rect x="878.5" y="125.5" width="162" height="154" fill="#97b6e1"/>
<g shape-rendering="crispEdges"><rect x="878" y="125" width="26" height="6" fill="#f4f0f0"/><rect x="904" y="125" width="22" height="6" fill="#f0ece8"/><rect x="926" y="125" width="93" height="6" fill="#f4f0f0"/><rect x="1019" y="125" width="3" height="6" fill="#f0ece8"/><rect x="1022" y="125" width="4" height="6" fill="#e8e0d8"/><rect x="1026" y="125" width="4" height="6" fill="#e4dcd4"/><rect x="1030" y="125" width="3" height="6" fill="#e8e0d8"/><rect x="1033" y="125" width="4" height="6" fill="#f0ece8"/><rect x="1037" y="125" width="8" height="6" fill="#f4f0f0"/><rect x="878" y="131" width="23" height="3" fill="#f4f0f0"/><rect x="901" y="131" width="3" height="3" fill="#f0ece8"/><rect x="904" y="131" width="22" height="3" fill="#ece4e0"/><rect x="926" y="131" width="4" height="3" fill="#f0ece8"/><rect x="930" y="131" width="89" height="3" fill="#f4f0f0"/><rect x="1019" y="131" width="3" height="3" fill="#f0ece8"/><rect x="1022" y="131" width="4" height="3" fill="#ece4e0"/><rect x="1026" y="131" width="4" height="3" fill="#e8e0d8"/><rect x="1030" y="131" width="3" height="3" fill="#ece4e0"/><rect x="1033" y="131" width="4" height="3" fill="#f0ece8"/><rect x="1037" y="131" width="8" height="3" fill="#f4f0f0"/><rect x="878" y="134" width="23" height="4" fill="#f4f0f0"/><rect x="901" y="134" width="3" height="4" fill="#f0ece8"/><rect x="904" y="134" width="22" height="4" fill="#ece4e0"/><rect x="926" y="134" width="4" height="4" fill="#f0ece8"/><rect x="930" y="134" width="92" height="4" fill="#f4f0f0"/><rect x="1022" y="134" width="11" height="4" fill="#f0ece8"/><rect x="1033" y="134" width="12" height="4" fill="#f4f0f0"/><rect x="878" y="138" width="26" height="4" fill="#f4f0f0"/><rect x="904" y="138" width="22" height="4" fill="#f0ece8"/><rect x="926" y="138" width="119" height="4" fill="#f4f0f0"/><rect x="878" y="142" width="167" height="3" fill="#f4f0f0"/><rect x="878" y="145" width="130" height="4" fill="#f4f0f0"/><rect x="1008" y="145" width="18" height="4" fill="#f0ecec"/><rect x="1026" y="145" width="19" height="4" fill="#f4f0f0"/><rect x="878" y="149" width="126" height="4" fill="#f4f0f0"/><rect x="1004" y="149" width="4" height="4" fill="#f0ecec"/><rect x="1008" y="149" width="3" height="4" fill="#d4d8dc"/><rect x="1011" y="149" width="11" height="4" fill="#ccd4d8"/><rect x="1022" y="149" width="4" height="4" fill="#d4d8dc"/><rect x="1026" y="149" width="4" height="4" fill="#f0ecec"/><rect x="1030" y="149" width="15" height="4" fill="#f4f0f0"/><rect x="878" y="153" width="126" height="4" fill="#f4f0f0"/><rect x="1004" y="153" width="4" height="4" fill="#f0ecec"/><rect x="1008" y="153" width="3" height="4" fill="#d4d8dc"/><rect x="1011" y="153" width="11" height="4" fill="#ccd4d8"/><rect x="1022" y="153" width="4" height="4" fill="#d4d8dc"/><rect x="1026" y="153" width="4" height="4" fill="#f0ecec"/><rect x="1030" y="153" width="15" height="4" fill="#f4f0f0"/><rect x="878" y="157" width="26" height="3" fill="#f4f0f0"/><rect x="904" y="157" width="19" height="3" fill="#f0ece8"/><rect x="923" y="157" width="55" height="3" fill="#f4f0f0"/><rect x="978" y="157" width="8" height="3" fill="#e8e8e8"/><rect x="986" y="157" width="22" height="3" fill="#f4f0f0"/><rect x="1008" y="157" width="18" height="3" fill="#f0ecec"/><rect x="1026" y="157" width="19" height="3" fill="#f4f0f0"/><rect x="878" y="160" width="23" height="4" fill="#f4f0f0"/><rect x="901" y="160" width="3" height="4" fill="#f0ece8"/><rect x="904" y="160" width="19" height="4" fill="#ece4e0"/><rect x="923" y="160" width="3" height="4" fill="#f0ece8"/><rect x="926" y="160" width="52" height="4" fill="#f4f0f0"/><rect x="978" y="160" width="8" height="4" fill="#e8e8e8"/><rect x="986" y="160" width="47" height="4" fill="#f4f0f0"/><rect x="1033" y="160" width="4" height="4" fill="#f0ece8"/><rect x="1037" y="160" width="8" height="4" fill="#f4f0f0"/><rect x="878" y="164" width="23" height="4" fill="#f4f0f0"/><rect x="901" y="164" width="3" height="4" fill="#f0ece8"/><rect x="904" y="164" width="19" height="4" fill="#ece4e0"/><rect x="923" y="164" width="3" height="4" fill="#f0ece8"/><rect x="926" y="164" width="104" height="4" fill="#f4f0f0"/><rect x="1030" y="164" width="3" height="4" fill="#f0ece8"/><rect x="1033" y="164" width="4" height="4" fill="#e8e0d8"/><rect x="1037" y="164" width="4" height="4" fill="#f0ece8"/><rect x="1041" y="164" width="4" height="4" fill="#f4f0f0"/><rect x="878" y="168" width="26" height="3" fill="#f4f0f0"/><rect x="904" y="168" width="19" height="3" fill="#f0ece8"/><rect x="923" y="168" width="74" height="3" fill="#f4f0f0"/><rect x="997" y="168" width="11" height="3" fill="#f0ecec"/><rect x="1008" y="168" width="22" height="3" fill="#f4f0f0"/><rect x="1030" y="168" width="3" height="3" fill="#f0ece8"/><rect x="1033" y="168" width="4" height="3" fill="#e4dcd4"/><rect x="1037" y="168" width="4" height="3" fill="#f0ece8"/><rect x="1041" y="168" width="4" height="3" fill="#f4f0f0"/><rect x="878" y="171" width="115" height="4" fill="#f4f0f0"/><rect x="993" y="171" width="4" height="4" fill="#f0ecec"/><rect x="997" y="171" width="3" height="4" fill="#d8dce0"/><rect x="1000" y="171" width="4" height="4" fill="#d4d8dc"/><rect x="1004" y="171" width="4" height="4" fill="#d8dce0"/><rect x="1008" y="171" width="3" height="4" fill="#f0ecec"/><rect x="1011" y="171" width="19" height="4" fill="#f4f0f0"/><rect x="1030" y="171" width="3" height="4" fill="#f0ece8"/><rect x="1033" y="171" width="4" height="4" fill="#e8e0d8"/><rect x="1037" y="171" width="4" height="4" fill="#f0ece8"/><rect x="1041" y="171" width="4" height="4" fill="#f4f0f0"/><rect x="878" y="175" width="115" height="4" fill="#f4f0f0"/><rect x="993" y="175" width="4" height="4" fill="#f0ecec"/><rect x="997" y="175" width="3" height="4" fill="#d4d8dc"/><rect x="1000" y="175" width="4" height="4" fill="#ccd4d8"/><rect x="1004" y="175" width="4" height="4" fill="#d4d8dc"/><rect x="1008" y="175" width="3" height="4" fill="#f0ecec"/><rect x="1011" y="175" width="22" height="4" fill="#f4f0f0"/><rect x="1033" y="175" width="4" height="4" fill="#f0ece8"/><rect x="1037" y="175" width="8" height="4" fill="#f4f0f0"/><rect x="878" y="179" width="115" height="3" fill="#f4f0f0"/><rect x="993" y="179" width="4" height="3" fill="#f0ecec"/><rect x="997" y="179" width="3" height="3" fill="#e0e0e4"/><rect x="1000" y="179" width="4" height="3" fill="#d8dce0"/><rect x="1004" y="179" width="4" height="3" fill="#e0e0e4"/><rect x="1008" y="179" width="3" height="3" fill="#f0ecec"/><rect x="1011" y="179" width="34" height="3" fill="#f4f0f0"/><rect x="878" y="182" width="115" height="4" fill="#f4f0f0"/><rect x="993" y="182" width="4" height="4" fill="#f0ecec"/><rect x="997" y="182" width="3" height="4" fill="#e4e4e4"/><rect x="1000" y="182" width="4" height="4" fill="#e0e0e4"/><rect x="1004" y="182" width="4" height="4" fill="#e4e4e4"/><rect x="1008" y="182" width="3" height="4" fill="#f0ecec"/><rect x="1011" y="182" width="34" height="4" fill="#f4f0f0"/><rect x="878" y="186" width="119" height="4" fill="#f4f0f0"/><rect x="997" y="186" width="11" height="4" fill="#f0ecec"/><rect x="1008" y="186" width="37" height="4" fill="#f4f0f0"/><rect x="878" y="190" width="167" height="3" fill="#f4f0f0"/><rect x="878" y="193" width="167" height="4" fill="#f4f0f0"/><rect x="878" y="197" width="96" height="4" fill="#f4f0f0"/><rect x="974" y="197" width="4" height="4" fill="#f0ecec"/><rect x="978" y="197" width="15" height="4" fill="#e8e8e8"/><rect x="993" y="197" width="4" height="4" fill="#f0ecec"/><rect x="997" y="197" width="48" height="4" fill="#f4f0f0"/><rect x="878" y="201" width="96" height="3" fill="#f4f0f0"/><rect x="974" y="201" width="23" height="3" fill="#e8e8e8"/><rect x="997" y="201" width="48" height="3" fill="#f4f0f0"/><rect x="878" y="204" width="96" height="4" fill="#f4f0f0"/><rect x="974" y="204" width="23" height="4" fill="#e8e8e8"/><rect x="997" y="204" width="48" height="4" fill="#f4f0f0"/><rect x="878" y="208" width="96" height="4" fill="#f4f0f0"/><rect x="974" y="208" width="23" height="4" fill="#e8e8e8"/><rect x="997" y="208" width="48" height="4" fill="#f4f0f0"/><rect x="878" y="212" width="96" height="4" fill="#f4f0f0"/><rect x="974" y="212" width="4" height="4" fill="#f0ecec"/><rect x="978" y="212" width="15" height="4" fill="#e8e8e8"/><rect x="993" y="212" width="4" height="4" fill="#f0ecec"/><rect x="997" y="212" width="48" height="4" fill="#f4f0f0"/><rect x="878" y="216" width="100" height="3" fill="#f4f0f0"/><rect x="978" y="216" width="4" height="3" fill="#f0ecec"/><rect x="982" y="216" width="7" height="3" fill="#e4e4e4"/><rect x="989" y="216" width="4" height="3" fill="#f0ecec"/><rect x="993" y="216" width="52" height="3" fill="#f4f0f0"/><rect x="878" y="219" width="100" height="4" fill="#f4f0f0"/><rect x="978" y="219" width="4" height="4" fill="#f0ecec"/><rect x="982" y="219" width="7" height="4" fill="#e4e4e4"/><rect x="989" y="219" width="4" height="4" fill="#f0ecec"/><rect x="993" y="219" width="52" height="4" fill="#f4f0f0"/><rect x="878" y="223" width="104" height="4" fill="#f4f0f0"/><rect x="982" y="223" width="7" height="4" fill="#f0ecec"/><rect x="989" y="223" width="56" height="4" fill="#f4f0f0"/><rect x="878" y="227" width="167" height="3" fill="#f4f0f0"/><rect x="878" y="230" width="167" height="4" fill="#f4f0f0"/><rect x="878" y="234" width="45" height="4" fill="#f4f0f0"/><rect x="923" y="234" width="11" height="4" fill="#f0ecec"/><rect x="934" y="234" width="18" height="4" fill="#f4f0f0"/><rect x="952" y="234" width="8" height="4" fill="#f0ecec"/><rect x="960" y="234" width="85" height="4" fill="#f4f0f0"/><rect x="878" y="238" width="41" height="3" fill="#f4f0f0"/><rect x="919" y="238" width="4" height="3" fill="#f0ecec"/><rect x="923" y="238" width="3" height="3" fill="#d8dce0"/><rect x="926" y="238" width="4" height="3" fill="#d4d8dc"/><rect x="930" y="238" width="4" height="3" fill="#d8dce0"/><rect x="934" y="238" width="4" height="3" fill="#f0ecec"/><rect x="938" y="238" width="11" height="3" fill="#f4f0f0"/><rect x="949" y="238" width="3" height="3" fill="#f0ecec"/><rect x="952" y="238" width="8" height="3" fill="#ccd4d8"/><rect x="960" y="238" width="3" height="3" fill="#f0ecec"/><rect x="963" y="238" width="82" height="3" fill="#f4f0f0"/><rect x="878" y="241" width="12" height="4" fill="#f4f0f0"/><rect x="890" y="241" width="7" height="4" fill="#f0ece8"/><rect x="897" y="241" width="22" height="4" fill="#f4f0f0"/><rect x="919" y="241" width="4" height="4" fill="#f0ecec"/><rect x="923" y="241" width="3" height="4" fill="#d4d8dc"/><rect x="926" y="241" width="4" height="4" fill="#ccd4d8"/><rect x="930" y="241" width="4" height="4" fill="#d4d8dc"/><rect x="934" y="241" width="4" height="4" fill="#f0ecec"/><rect x="938" y="241" width="11" height="4" fill="#f4f0f0"/><rect x="949" y="241" width="3" height="4" fill="#e8e8e8"/><rect x="952" y="241" width="8" height="4" fill="#c8d0d8"/><rect x="960" y="241" width="3" height="4" fill="#e8e8e8"/><rect x="963" y="241" width="82" height="4" fill="#f4f0f0"/><rect x="878" y="245" width="8" height="4" fill="#f4f0f0"/><rect x="886" y="245" width="15" height="4" fill="#f0e8e4"/><rect x="901" y="245" width="18" height="4" fill="#f4f0f0"/><rect x="919" y="245" width="4" height="4" fill="#f0ecec"/><rect x="923" y="245" width="3" height="4" fill="#d8dce0"/><rect x="926" y="245" width="4" height="4" fill="#d4d8dc"/><rect x="930" y="245" width="4" height="4" fill="#d8dce0"/><rect x="934" y="245" width="4" height="4" fill="#f0ecec"/><rect x="938" y="245" width="11" height="4" fill="#f4f0f0"/><rect x="949" y="245" width="3" height="4" fill="#f0ecec"/><rect x="952" y="245" width="8" height="4" fill="#d4d8dc"/><rect x="960" y="245" width="3" height="4" fill="#f0ecec"/><rect x="963" y="245" width="82" height="4" fill="#f4f0f0"/><rect x="878" y="249" width="8" height="3" fill="#f4f0f0"/><rect x="886" y="249" width="15" height="3" fill="#f0e8e4"/><rect x="901" y="249" width="22" height="3" fill="#f4f0f0"/><rect x="923" y="249" width="11" height="3" fill="#f0ecec"/><rect x="934" y="249" width="18" height="3" fill="#f4f0f0"/><rect x="952" y="249" width="8" height="3" fill="#f0e8e4"/><rect x="960" y="249" width="22" height="3" fill="#f4f0f0"/><rect x="982" y="249" width="11" height="3" fill="#f0ecec"/><rect x="993" y="249" width="52" height="3" fill="#f4f0f0"/><rect x="878" y="252" width="12" height="4" fill="#f4f0f0"/><rect x="890" y="252" width="7" height="4" fill="#f0ece8"/><rect x="897" y="252" width="55" height="4" fill="#f4f0f0"/><rect x="952" y="252" width="8" height="4" fill="#f0ece8"/><rect x="960" y="252" width="18" height="4" fill="#f4f0f0"/><rect x="978" y="252" width="4" height="4" fill="#e8e8e8"/><rect x="982" y="252" width="4" height="4" fill="#e4e4e4"/><rect x="986" y="252" width="3" height="4" fill="#e0e0e4"/><rect x="989" y="252" width="8" height="4" fill="#e4e4e4"/><rect x="997" y="252" width="3" height="4" fill="#f0ecec"/><rect x="1000" y="252" width="45" height="4" fill="#f4f0f0"/><rect x="878" y="256" width="96" height="4" fill="#f4f0f0"/><rect x="974" y="256" width="4" height="4" fill="#f0ecec"/><rect x="978" y="256" width="4" height="4" fill="#e4e4e4"/><rect x="982" y="256" width="4" height="4" fill="#ccd4d8"/><rect x="986" y="256" width="7" height="4" fill="#c8d0d8"/><rect x="993" y="256" width="4" height="4" fill="#ccd4d8"/><rect x="997" y="256" width="3" height="4" fill="#f0ecec"/><rect x="1000" y="256" width="45" height="4" fill="#f4f0f0"/><rect x="878" y="260" width="96" height="4" fill="#f4f0f0"/><rect x="974" y="260" width="4" height="4" fill="#f0ecec"/><rect x="978" y="260" width="4" height="4" fill="#e0e0e4"/><rect x="982" y="260" width="4" height="4" fill="#c8d0d8"/><rect x="986" y="260" width="7" height="4" fill="#c0ccd4"/><rect x="993" y="260" width="4" height="4" fill="#ccd4d8"/><rect x="997" y="260" width="3" height="4" fill="#e8e8e8"/><rect x="1000" y="260" width="45" height="4" fill="#f4f0f0"/><rect x="878" y="264" width="96" height="3" fill="#f4f0f0"/><rect x="974" y="264" width="4" height="3" fill="#f0ecec"/><rect x="978" y="264" width="4" height="3" fill="#e0e0e4"/><rect x="982" y="264" width="4" height="3" fill="#c8d0d8"/><rect x="986" y="264" width="7" height="3" fill="#c0ccd4"/><rect x="993" y="264" width="4" height="3" fill="#ccd4d8"/><rect x="997" y="264" width="3" height="3" fill="#e8e8e8"/><rect x="1000" y="264" width="45" height="3" fill="#f4f0f0"/><rect x="878" y="267" width="96" height="4" fill="#f4f0f0"/><rect x="974" y="267" width="4" height="4" fill="#f0ecec"/><rect x="978" y="267" width="4" height="4" fill="#e4e4e4"/><rect x="982" y="267" width="4" height="4" fill="#ccd4d8"/><rect x="986" y="267" width="7" height="4" fill="#c8d0d8"/><rect x="993" y="267" width="4" height="4" fill="#ccd4d8"/><rect x="997" y="267" width="3" height="4" fill="#f0ecec"/><rect x="1000" y="267" width="45" height="4" fill="#f4f0f0"/><rect x="878" y="271" width="100" height="4" fill="#f4f0f0"/><rect x="978" y="271" width="4" height="4" fill="#e8e8e8"/><rect x="982" y="271" width="4" height="4" fill="#e4e4e4"/><rect x="986" y="271" width="3" height="4" fill="#e0e0e4"/><rect x="989" y="271" width="8" height="4" fill="#e4e4e4"/><rect x="997" y="271" width="3" height="4" fill="#f0ecec"/><rect x="1000" y="271" width="45" height="4" fill="#f4f0f0"/><rect x="878" y="275" width="104" height="3" fill="#f4f0f0"/><rect x="982" y="275" width="11" height="3" fill="#f0ecec"/><rect x="993" y="275" width="52" height="3" fill="#f4f0f0"/><rect x="878" y="278" width="167" height="2" fill="#f4f0f0"/><rect x="1035" y="216" width="4" height="4" fill="#8f8052"/><rect x="1035" y="220" width="4" height="4" fill="#6b5e2f"/><path d="M878 125h163v2h-163zM878 127h44v1h-44zM974 127h4v6h-4zM982 127h29v6h-29zM882 128h3v5h-3zM960 127h10v7h-10zM949 127h7v7h-7zM974 133h34v5h-34zM960 134h7v4h-7zM941 134h15v7h-15zM941 141h11v3h-11zM978 138h30v7h-30zM989 145h15v4h-15zM941 144h15v6h-15zM978 145h4v5h-4zM989 149h11v4h-11zM964 142h3v12h-3zM990 153h7v1h-7zM938 150h18v5h-18zM1038 127h3v29h-3zM1030 153h4v3h-4zM960 154h7v4h-7zM938 155h15v3h-15zM1025 156h16v2h-16zM908 148h8v11h-8zM975 150h3v10h-3zM953 158h11v2h-11zM938 158h11v2h-11zM986 154h11v11h-11zM953 160h26v5h-26zM938 160h12v6h-12zM953 165h29v1h-29zM986 165h7v3h-7zM995 165h2v3h-2zM938 166h44v2h-44zM938 168h55v1h-55zM938 169h48v1h-48zM1025 158h9v14h-9zM935 170h51v9h-51zM924 174h3v5h-3zM931 179h55v2h-55zM924 179h4v3h-4zM931 181h48v1h-48zM923 182h56v1h-56zM920 183h59v4h-59zM1025 172h6v16h-6zM917 187h62v14h-62zM917 201h52v1h-52zM1038 158h3v45h-3zM1025 188h3v15h-3zM917 202h30v1h-30zM949 202h2v6h-2zM954 202h15v7h-15zM914 203h33v11h-33zM954 209h18v5h-18zM914 214h29v1h-29zM1025 203h16v13h-16zM958 214h22v4h-22zM918 215h25v3h-25zM918 218h21v3h-21zM954 218h26v3h-26zM1025 216h9v8h-9zM1038 216h3v8h-3zM918 221h18v5h-18zM954 221h30v8h-30zM1025 224h16v8h-16zM958 229h26v7h-26zM922 226h14v12h-14zM922 238h7v3h-7zM933 238h18v7h-18zM927 241h2v4h-2zM927 245h24v3h-24zM929 248h22v5h-22zM958 236h22v18h-22zM919 250h7v4h-7zM948 253h3v3h-3zM984 254h4v2h-4zM958 254h23v2h-23zM915 254h11v4h-11zM929 253h8v7h-8zM944 257h8v8h-8zM911 258h15v8h-15zM929 260h4v6h-4zM959 256h16v11h-16zM901 263h3v4h-3zM968 267h7v2h-7zM908 266h14v4h-14zM968 269h2v3h-2zM893 267h11v7h-11zM878 211h3v65h-3zM937 265h15v11h-15zM882 267h4v9h-4zM908 270h11v6h-11zM893 274h8v2h-8zM1038 232h3v45h-3zM878 276h128v1h-128zM878 277h163v3h-163z" fill="#97b6e1"/></g><polygon points="1034.3,155.4 1033.4,155.1 1030.6,155.7 1025.0,157.4 1019.9,161.3 1016.0,167.0 1012.1,176.0 1008.7,185.0 1005.3,195.0 1003.0,204.0 1000.5,209.0 997.0,214.0 996.5,219.0 994.5,224.0 992.0,228.0 988.0,231.0 987.5,234.0 989.5,237.0 989.5,248.0 994.0,249.0 997.5,253.0 999.5,261.0 1002.5,264.5 1003.5,274.0 1003.5,281.0 1044.0,281.0 1044.0,220.5 1039.5,221.0 1039.0,223.0 1037.0,226.0 1034.0,227.0 1031.5,225.0 1030.0,222.0 1030.0,218.0 1030.5,214.0 1032.5,211.5 1034.8,210.0 1035.1,207.0 1034.0,205.1 1032.5,205.5 1031.8,207.8 1029.9,208.1 1029.5,205.9 1030.6,204.8 1031.0,201.8 1029.1,198.0 1027.2,195.0 1026.3,192.0 1026.9,188.2 1028.4,183.8 1028.8,180.0 1029.3,176.0 1030.6,169.0 1032.2,162.0 1034.3,157.6" fill="#efefdb" stroke="#7a7a7a" stroke-width="1.5" stroke-linejoin="round"/>
<line x1="879.10" y1="125.5" x2="882.50" y2="279.5" stroke="#b0b0b0" stroke-width="1"/>
<line x1="902.17" y1="125.5" x2="905.45" y2="279.5" stroke="#b0b0b0" stroke-width="1"/>
<line x1="925.24" y1="125.5" x2="928.40" y2="279.5" stroke="#b0b0b0" stroke-width="1"/>
<line x1="948.31" y1="125.5" x2="951.35" y2="279.5" stroke="#b0b0b0" stroke-width="1"/>
<line x1="971.38" y1="125.5" x2="974.30" y2="279.5" stroke="#b0b0b0" stroke-width="1"/>
<line x1="994.45" y1="125.5" x2="997.25" y2="279.5" stroke="#b0b0b0" stroke-width="1"/>
<line x1="1017.52" y1="125.5" x2="1020.20" y2="279.5" stroke="#b0b0b0" stroke-width="1"/>
<line x1="1040.59" y1="125.5" x2="1043.15" y2="279.5" stroke="#b0b0b0" stroke-width="1"/>
<line x1="878.5" y1="139.60" x2="1040.5" y2="135.80" stroke="#b0b0b0" stroke-width="1"/>
<line x1="878.5" y1="159.32" x2="1040.5" y2="155.52" stroke="#b0b0b0" stroke-width="1"/>
<line x1="878.5" y1="179.04" x2="1040.5" y2="175.24" stroke="#b0b0b0" stroke-width="1"/>
<line x1="878.5" y1="198.76" x2="1040.5" y2="194.96" stroke="#b0b0b0" stroke-width="1"/>
<line x1="878.5" y1="218.48" x2="1040.5" y2="214.68" stroke="#b0b0b0" stroke-width="1"/>
<line x1="878.5" y1="238.20" x2="1040.5" y2="234.40" stroke="#b0b0b0" stroke-width="1"/>
<line x1="878.5" y1="257.92" x2="1040.5" y2="254.12" stroke="#b0b0b0" stroke-width="1"/>
<line x1="878.5" y1="277.64" x2="1040.5" y2="273.84" stroke="#b0b0b0" stroke-width="1"/>
</g>
<rect x="878.5" y="125.5" width="162" height="154" fill="none" stroke="#000" stroke-width="1"/>
<linearGradient id="g322" x1="0" y1="1" x2="0" y2="0"><stop offset="0" stop-color="#042333"/><stop offset="0.1" stop-color="#10316b"/><stop offset="0.2" stop-color="#33379d"/><stop offset="0.3" stop-color="#5d4492"/><stop offset="0.4" stop-color="#825388"/><stop offset="0.5" stop-color="#a8617f"/><stop offset="0.6" stop-color="#d06c6d"/><stop offset="0.7" stop-color="#ee7f53"/><stop offset="0.8" stop-color="#fba03c"/><stop offset="0.9" stop-color="#f8c93f"/><stop offset="1" stop-color="#e8fa5b"/></linearGradient>
<rect x="322.4" y="171.5" width="3.1" height="62" fill="url(#g322)" stroke="#000" stroke-width="0.8"/>
<line x1="325.5" y1="176.9" x2="330.5" y2="176.9" stroke="#000" stroke-width="0.9"/>
<line x1="325.5" y1="202.1" x2="330.5" y2="202.1" stroke="#000" stroke-width="0.9"/>
<line x1="325.5" y1="227.5" x2="330.5" y2="227.5" stroke="#000" stroke-width="0.9"/>
<linearGradient id="g564" x1="0" y1="1" x2="0" y2="0"><stop offset="0" stop-color="#053061"/><stop offset="0.1" stop-color="#2166ac"/><stop offset="0.2" stop-color="#4393c3"/><stop offset="0.3" stop-color="#92c5de"/><stop offset="0.4" stop-color="#d1e5f0"/><stop offset="0.5" stop-color="#f7f7f7"/><stop offset="0.6" stop-color="#fddbc7"/><stop offset="0.7" stop-color="#f4a582"/><stop offset="0.8" stop-color="#d6604d"/><stop offset="0.9" stop-color="#b2182b"/><stop offset="1" stop-color="#67001f"/></linearGradient>
<rect x="564.6" y="171.5" width="3.7" height="62" fill="url(#g564)" stroke="#000" stroke-width="0.8"/>
<line x1="568.3000000000001" y1="183.2" x2="573.3000000000001" y2="183.2" stroke="#000" stroke-width="0.9"/>
<line x1="568.3000000000001" y1="202.7" x2="573.3000000000001" y2="202.7" stroke="#000" stroke-width="0.9"/>
<line x1="568.3000000000001" y1="221.3" x2="573.3000000000001" y2="221.3" stroke="#000" stroke-width="0.9"/>
<linearGradient id="g807" x1="0" y1="1" x2="0" y2="0"><stop offset="0" stop-color="#07223f"/><stop offset="0.1" stop-color="#1d4063"/><stop offset="0.2" stop-color="#466685"/><stop offset="0.3" stop-color="#7e95a8"/><stop offset="0.4" stop-color="#bcc7d0"/><stop offset="0.5" stop-color="#f5f3f1"/><stop offset="0.6" stop-color="#d3cbb9"/><stop offset="0.7" stop-color="#a99e7e"/><stop offset="0.8" stop-color="#7a6f48"/><stop offset="0.9" stop-color="#4a431f"/><stop offset="1" stop-color="#1c1a05"/></linearGradient>
<rect x="807.7" y="171.5" width="3.7" height="62" fill="url(#g807)" stroke="#000" stroke-width="0.8"/>
<line x1="811.4000000000001" y1="171.6" x2="816.4000000000001" y2="171.6" stroke="#000" stroke-width="0.9"/>
<line x1="811.4000000000001" y1="202.6" x2="816.4000000000001" y2="202.6" stroke="#000" stroke-width="0.9"/>
<line x1="811.4000000000001" y1="233.4" x2="816.4000000000001" y2="233.4" stroke="#000" stroke-width="0.9"/>
<linearGradient id="g1050" x1="0" y1="1" x2="0" y2="0"><stop offset="0" stop-color="#07223f"/><stop offset="0.1" stop-color="#1d4063"/><stop offset="0.2" stop-color="#466685"/><stop offset="0.3" stop-color="#7e95a8"/><stop offset="0.4" stop-color="#bcc7d0"/><stop offset="0.5" stop-color="#f5f3f1"/><stop offset="0.6" stop-color="#d3cbb9"/><stop offset="0.7" stop-color="#a99e7e"/><stop offset="0.8" stop-color="#7a6f48"/><stop offset="0.9" stop-color="#4a431f"/><stop offset="1" stop-color="#1c1a05"/></linearGradient>
<rect x="1050.7" y="171.5" width="3.7" height="62" fill="url(#g1050)" stroke="#000" stroke-width="0.8"/>
<line x1="1054.4" y1="171.6" x2="1059.4" y2="171.6" stroke="#000" stroke-width="0.9"/>
<line x1="1054.4" y1="202.6" x2="1059.4" y2="202.6" stroke="#000" stroke-width="0.9"/>
<line x1="1054.4" y1="233.4" x2="1059.4" y2="233.4" stroke="#000" stroke-width="0.9"/>
<g filter="url(#gs)">
<text x="439.60" y="21.60" font-size="17.2" textLength="24.40" lengthAdjust="spacingAndGlyphs">GP</text>
<text x="467.40" y="21.60" font-size="17.2" textLength="51.30" lengthAdjust="spacingAndGlyphs">kernel</text>
<text x="523.80" y="21.60" font-size="17.2" textLength="7.60" lengthAdjust="spacingAndGlyphs">-</text>
<text x="535.00" y="21.60" font-size="17.2" textLength="226.00" lengthAdjust="spacingAndGlyphs">helmholtz_psi_w_matern12</text>
<text x="503.50" y="43.50" font-size="17.2" textLength="191.50" lengthAdjust="spacingAndGlyphs">2026-03-18T03:00:00Z</text>
<text x="200.80" y="95.75" font-size="17.2" textLength="61.00" lengthAdjust="spacingAndGlyphs">SST [K]</text>
<text x="407.20" y="95.70" font-size="17.2" textLength="107.10" lengthAdjust="spacingAndGlyphs">dSST/dt [K hr</text>
<text x="516.40" y="88.50" font-size="12.0" textLength="16.80" lengthAdjust="spacingAndGlyphs">−1</text>
<text x="535.30" y="95.70" font-size="17.2" textLength="5.00" lengthAdjust="spacingAndGlyphs">]</text>
<text x="644.20" y="95.70" font-size="17.2" textLength="120.60" lengthAdjust="spacingAndGlyphs">dSST/dx [K km</text>
<text x="766.00" y="88.50" font-size="12.0" textLength="16.20" lengthAdjust="spacingAndGlyphs">−1</text>
<text x="783.70" y="95.70" font-size="17.2" textLength="5.00" lengthAdjust="spacingAndGlyphs">]</text>
<text x="886.30" y="94.90" font-size="17.2" textLength="120.30" lengthAdjust="spacingAndGlyphs">dSST/dy [K km</text>
<text x="1008.00" y="87.70" font-size="12.0" textLength="16.10" lengthAdjust="spacingAndGlyphs">−1</text>
<text x="1025.50" y="94.90" font-size="17.2" textLength="5.00" lengthAdjust="spacingAndGlyphs">]</text>
<text x="124.20" y="115.00" font-size="14.3" textLength="54.30" lengthAdjust="spacingAndGlyphs">112.5°E</text>
<text x="189.20" y="115.00" font-size="14.3" textLength="62.60" lengthAdjust="spacingAndGlyphs">113.25°E</text>
<text x="269.20" y="115.00" font-size="14.3" textLength="41.30" lengthAdjust="spacingAndGlyphs">114°E</text>
<text x="128.00" y="297.00" font-size="14.3" textLength="54.50" lengthAdjust="spacingAndGlyphs">112.5°E</text>
<text x="193.00" y="297.00" font-size="14.3" textLength="63.00" lengthAdjust="spacingAndGlyphs">113.25°E</text>
<text x="272.50" y="297.00" font-size="14.3" textLength="40.50" lengthAdjust="spacingAndGlyphs">114°E</text>
<text x="366.40" y="115.00" font-size="14.3" textLength="54.30" lengthAdjust="spacingAndGlyphs">112.5°E</text>
<text x="431.40" y="115.00" font-size="14.3" textLength="62.60" lengthAdjust="spacingAndGlyphs">113.25°E</text>
<text x="511.40" y="115.00" font-size="14.3" textLength="41.30" lengthAdjust="spacingAndGlyphs">114°E</text>
<text x="370.20" y="297.00" font-size="14.3" textLength="54.50" lengthAdjust="spacingAndGlyphs">112.5°E</text>
<text x="435.20" y="297.00" font-size="14.3" textLength="63.00" lengthAdjust="spacingAndGlyphs">113.25°E</text>
<text x="514.70" y="297.00" font-size="14.3" textLength="40.50" lengthAdjust="spacingAndGlyphs">114°E</text>
<text x="609.20" y="115.00" font-size="14.3" textLength="54.30" lengthAdjust="spacingAndGlyphs">112.5°E</text>
<text x="674.20" y="115.00" font-size="14.3" textLength="62.60" lengthAdjust="spacingAndGlyphs">113.25°E</text>
<text x="754.20" y="115.00" font-size="14.3" textLength="41.30" lengthAdjust="spacingAndGlyphs">114°E</text>
<text x="613.00" y="297.00" font-size="14.3" textLength="54.50" lengthAdjust="spacingAndGlyphs">112.5°E</text>
<text x="678.00" y="297.00" font-size="14.3" textLength="63.00" lengthAdjust="spacingAndGlyphs">113.25°E</text>
<text x="757.50" y="297.00" font-size="14.3" textLength="40.50" lengthAdjust="spacingAndGlyphs">114°E</text>
<text x="852.20" y="115.00" font-size="14.3" textLength="54.30" lengthAdjust="spacingAndGlyphs">112.5°E</text>
<text x="917.20" y="115.00" font-size="14.3" textLength="62.60" lengthAdjust="spacingAndGlyphs">113.25°E</text>
<text x="997.20" y="115.00" font-size="14.3" textLength="41.30" lengthAdjust="spacingAndGlyphs">114°E</text>
<text x="856.00" y="297.00" font-size="14.3" textLength="54.50" lengthAdjust="spacingAndGlyphs">112.5°E</text>
<text x="921.00" y="297.00" font-size="14.3" textLength="63.00" lengthAdjust="spacingAndGlyphs">113.25°E</text>
<text x="1000.50" y="297.00" font-size="14.3" textLength="40.50" lengthAdjust="spacingAndGlyphs">114°E</text>
<text x="96.00" y="143.80" font-size="14.3" textLength="47.20" lengthAdjust="spacingAndGlyphs">21.6°S</text>
<text x="96.00" y="163.55" font-size="14.3" textLength="47.20" lengthAdjust="spacingAndGlyphs">21.8°S</text>
<text x="109.80" y="183.30" font-size="14.3" textLength="33.40" lengthAdjust="spacingAndGlyphs">22°S</text>
<text x="96.00" y="203.05" font-size="14.3" textLength="47.20" lengthAdjust="spacingAndGlyphs">22.2°S</text>
<text x="96.00" y="222.80" font-size="14.3" textLength="47.20" lengthAdjust="spacingAndGlyphs">22.4°S</text>
<text x="96.00" y="242.55" font-size="14.3" textLength="47.20" lengthAdjust="spacingAndGlyphs">22.6°S</text>
<text x="96.00" y="262.30" font-size="14.3" textLength="47.20" lengthAdjust="spacingAndGlyphs">22.8°S</text>
<text x="109.80" y="282.05" font-size="14.3" textLength="33.40" lengthAdjust="spacingAndGlyphs">23°S</text>
<text x="335.30" y="182.00" font-size="14.3" textLength="37.90" lengthAdjust="spacingAndGlyphs">302.5</text>
<text x="335.30" y="207.20" font-size="14.3" textLength="37.90" lengthAdjust="spacingAndGlyphs">300.0</text>
<text x="335.30" y="232.60" font-size="14.3" textLength="37.90" lengthAdjust="spacingAndGlyphs">297.5</text>
<text x="578.30" y="188.30" font-size="14.3" textLength="29.30" lengthAdjust="spacingAndGlyphs">0.25</text>
<text x="578.30" y="207.80" font-size="14.3" textLength="29.30" lengthAdjust="spacingAndGlyphs">0.00</text>
<text x="578.30" y="226.40" font-size="14.3" textLength="40.50" lengthAdjust="spacingAndGlyphs">−0.25</text>
<text x="821.40" y="176.70" font-size="14.3" textLength="20.20" lengthAdjust="spacingAndGlyphs">0.2</text>
<text x="821.40" y="207.70" font-size="14.3" textLength="20.20" lengthAdjust="spacingAndGlyphs">0.0</text>
<text x="821.40" y="238.50" font-size="14.3" textLength="30.10" lengthAdjust="spacingAndGlyphs">−0.2</text>
<text x="1063.30" y="176.70" font-size="14.3" textLength="20.20" lengthAdjust="spacingAndGlyphs">0.2</text>
<text x="1063.30" y="207.70" font-size="14.3" textLength="20.20" lengthAdjust="spacingAndGlyphs">0.0</text>
<text x="1063.30" y="238.50" font-size="14.3" textLength="31.40" lengthAdjust="spacingAndGlyphs">−0.2</text>
</g>
</svg>
</body></html>
